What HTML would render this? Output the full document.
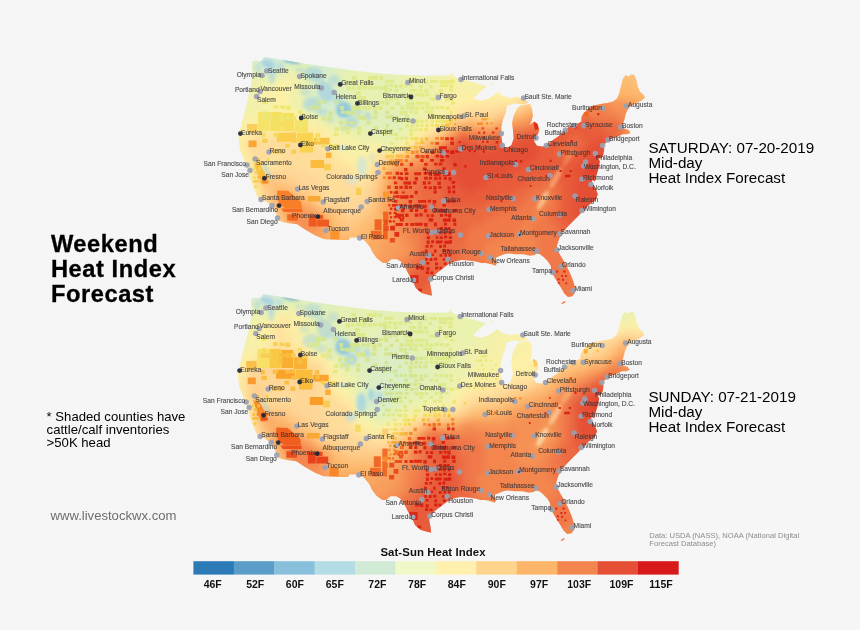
<!DOCTYPE html>
<html><head><meta charset="utf-8"><title>Weekend Heat Index Forecast</title>
<style>
html,body{margin:0;padding:0;background:#f6f6f6;}
body{width:860px;height:630px;overflow:hidden;font-family:"Liberation Sans",sans-serif;}
svg{display:block;font-family:"Liberation Sans",sans-serif;}
.cl text{font-size:7px;fill:#36363a;fill-opacity:.88;stroke:#36363a;stroke-width:.18px;stroke-opacity:.6;}
.lg{font-size:10.5px;font-weight:bold;fill:#111;}
.t1{font-size:23.7px;font-weight:bold;fill:#000;letter-spacing:.55px;stroke:#000;stroke-width:.3px;}
.t2{font-size:15.2px;fill:#000;}
.t3{font-size:13.15px;fill:#000;}
.t4{font-size:13.1px;fill:#6e6e6e;}
.t5{font-size:7.6px;fill:#8c8c8c;}
.t6{font-size:11.4px;font-weight:bold;fill:#111;letter-spacing:.08px;}
</style></head><body>
<svg width="860" height="630" viewBox="0 0 860 630">
<defs>
<path id="us" d="M252,62 L256,60.5 L259,61.5 L262,60 L264,57 L280,59.5 L310,64.5 L350,70 L380,73.5 L402,75 L425,75.8 L450,75.5 L451,72 L453,75.8 L460,79 L468,81 L476,83 L487,86.5 L480,92 L473.6,98.6 L481.4,100.7 L488.6,98.6 L494,95 L498.6,91.4 L500,94 L502.9,95.7 L510,97.9 L517,97 L522.9,97.9 L527,100.7 L528.6,102.5 L525,104 L520,104.3 L514.3,103.6 L507,105.7 L505.7,112.9 L502.9,120 L501.4,127 L501.4,134.3 L502,141.4 L503.6,145.7 L507,147.9 L511.4,145 L513.6,138.6 L512.9,130 L512,122.9 L513.6,115.7 L517,108.6 L520.7,105.3 L526,104.6 L530,103.8 L532,108.6 L532.9,115.7 L531.4,121.4 L529.3,125 L531.4,123.6 L534.3,121.4 L537.9,124.3 L539.3,130 L537.9,134.3 L535.7,137 L534.3,141.4 L537,145.7 L542.9,146.4 L546.4,145 L552.9,140 L560,135 L565.7,130 L568.6,127 L574.3,125.3 L581.4,121.4 L581.4,117 L583.6,112.9 L588.6,108.6 L595.7,105 L602.9,103.6 L607,102.9 L612.9,101.4 L617,98.6 L619.3,92.9 L621.4,84.3 L622.9,78.6 L625.7,75 L628.6,76.4 L631.4,74.3 L634.3,75 L636.4,80 L637.9,87 L640,91.4 L644.3,95.7 L645,97.9 L641.4,100.7 L637,102.9 L631.4,105.7 L627.9,109.3 L625.7,114.3 L624.3,120 L622.9,124.3 L624.3,128.6 L628.6,130 L630.7,132.9 L627,134.3 L622.9,134.3 L617,137 L610,139.3 L605.7,142.9 L602.9,145.7 L604.3,148.6 L603.6,154.3 L601.4,158.6 L598.5,158.5 L600,161.4 L598.6,168.6 L596.4,175.7 L595,181.4 L592.5,180 L591.4,184.3 L595.7,188.6 L597.9,194.3 L595.7,200 L591.4,202.9 L587,207 L582.9,210.7 L578.6,215.7 L574.3,220 L568.6,225.7 L562.9,232 L559.3,238.6 L557,245.7 L557.9,250.7 L561.4,257 L565.7,264.3 L569.3,271.4 L572.9,280 L575,287 L575,292.9 L572,296.4 L567.9,297 L564.3,293.6 L561.4,288.6 L557.9,282.9 L554.3,277 L551.4,271.4 L550.7,265.7 L547.9,261.4 L543.6,257 L540,254.3 L537,253.6 L534.3,255 L530,255.7 L522.9,254.3 L515.7,254.3 L508.6,253.6 L504.3,254.3 L498.6,256.4 L494.3,258.6 L497,262.9 L495.7,265.7 L491.4,264.3 L485.7,262.9 L481.4,262.9 L475.7,261.4 L470,260.7 L461.4,260 L454.3,261.4 L448.6,264.3 L442.9,268.6 L437,272.9 L431.4,277.9 L430,282.9 L431.4,290 L432,295.7 L428.6,295 L421.4,292.9 L415.7,287.9 L412.9,281.4 L408.6,274.3 L405.7,268.6 L401.4,262 L397,259.3 L391.4,259.3 L387,262.9 L382.9,262.9 L377,258.6 L372.9,252.9 L370,247 L365,241 L360,237.5 L350,237.5 L349,240 L338.6,240 L324.3,239.3 L315.7,235.7 L305.7,230 L297,224.3 L287,222.9 L278.6,220.7 L277.9,218.6 L275.7,212.9 L271.4,205.7 L265.7,201.4 L258.6,198.6 L255.7,192.9 L252.9,185.7 L250,178.6 L248.6,171.4 L245.7,164.3 L243,157 L240,150 L239,142 L238.5,136 L240,130 L242.5,120 L245,110 L247,102 L249,94 L251,85 L253,76 L252,68Z M561.3,303.2 L564.6,301 L565.8,301.9 L562.6,303.9Z M490.2,84.6 L493.6,83.2 L494,83.9 L490.6,85.3Z"/>
<clipPath id="usc"><use href="#us"/></clipPath>
<filter id="bl" x="-5%" y="-5%" width="110%" height="110%"><feGaussianBlur stdDeviation="3.2"/></filter>
<filter id="b2" x="-50%" y="-50%" width="200%" height="200%"><feGaussianBlur stdDeviation="1.6"/></filter>
</defs>
<rect width="860" height="630" fill="#f6f6f6"/>
<rect x="133.5" y="41" width="610.5" height="238" fill="#f5f5f5"/>
<rect x="129.5" y="281" width="609.5" height="240" fill="#f5f5f5"/>
<g id="map1">
<g clip-path="url(#usc)">
<g filter="url(#bl)">
<path fill="#cae6da" d="M262 44h18.5v6.5h-18.5zM268 50h12.5v6.5h-12.5zM268 56h6.5v6.5h-6.5zM268 62h6.5v6.5h-6.5z"/>
<path fill="#d1ead6" d="M250 44h12.5v6.5h-12.5zM280 44h18.5v6.5h-18.5zM256 50h12.5v6.5h-12.5zM280 50h6.5v6.5h-6.5zM256 56h12.5v6.5h-12.5zM274 56h12.5v6.5h-12.5zM262 62h6.5v6.5h-6.5zM274 62h6.5v6.5h-6.5zM268 68h6.5v6.5h-6.5zM322 98h12.5v6.5h-12.5zM340 110h6.5v6.5h-6.5z"/>
<path fill="#d6eccd" d="M226 44h24.5v6.5h-24.5zM298 44h30.5v6.5h-30.5zM238 50h18.5v6.5h-18.5zM286 50h42.5v6.5h-42.5zM250 56h6.5v6.5h-6.5zM286 56h6.5v6.5h-6.5zM310 56h18.5v6.5h-18.5zM256 62h6.5v6.5h-6.5zM280 62h6.5v6.5h-6.5zM316 62h12.5v6.5h-12.5zM262 68h6.5v6.5h-6.5zM274 68h6.5v6.5h-6.5zM316 68h12.5v6.5h-12.5zM316 74h6.5v6.5h-6.5zM322 86h6.5v6.5h-6.5zM316 92h18.5v6.5h-18.5zM310 98h12.5v6.5h-12.5zM334 98h6.5v6.5h-6.5zM316 104h30.5v6.5h-30.5zM334 110h6.5v6.5h-6.5zM346 110h6.5v6.5h-6.5z"/>
<path fill="#dbeec4" d="M328 44h24.5v6.5h-24.5zM226 50h12.5v6.5h-12.5zM328 50h18.5v6.5h-18.5zM226 56h24.5v6.5h-24.5zM292 56h18.5v6.5h-18.5zM328 56h12.5v6.5h-12.5zM250 62h6.5v6.5h-6.5zM286 62h6.5v6.5h-6.5zM304 62h12.5v6.5h-12.5zM328 62h12.5v6.5h-12.5zM256 68h6.5v6.5h-6.5zM310 68h6.5v6.5h-6.5zM328 68h6.5v6.5h-6.5zM310 74h6.5v6.5h-6.5zM322 74h12.5v6.5h-12.5zM310 80h24.5v6.5h-24.5zM310 86h12.5v6.5h-12.5zM328 86h6.5v6.5h-6.5zM310 92h6.5v6.5h-6.5zM334 92h6.5v6.5h-6.5zM340 98h6.5v6.5h-6.5zM310 104h6.5v6.5h-6.5zM346 104h6.5v6.5h-6.5zM322 110h12.5v6.5h-12.5zM352 110h6.5v6.5h-6.5zM334 116h24.5v6.5h-24.5z"/>
<path fill="#e0efbb" d="M352 44h36.5v6.5h-36.5zM346 50h24.5v6.5h-24.5zM340 56h18.5v6.5h-18.5zM226 62h24.5v6.5h-24.5zM292 62h12.5v6.5h-12.5zM340 62h12.5v6.5h-12.5zM226 68h12.5v6.5h-12.5zM250 68h6.5v6.5h-6.5zM280 68h6.5v6.5h-6.5zM304 68h6.5v6.5h-6.5zM334 68h12.5v6.5h-12.5zM268 74h6.5v6.5h-6.5zM334 74h6.5v6.5h-6.5zM334 80h6.5v6.5h-6.5zM334 86h12.5v6.5h-12.5zM304 92h6.5v6.5h-6.5zM340 92h12.5v6.5h-12.5zM304 98h6.5v6.5h-6.5zM346 98h6.5v6.5h-6.5zM304 104h6.5v6.5h-6.5zM352 104h6.5v6.5h-6.5zM316 110h6.5v6.5h-6.5zM358 110h42.5v6.5h-42.5zM328 116h6.5v6.5h-6.5zM358 116h42.5v6.5h-42.5zM340 122h60.5v6.5h-60.5z"/>
<path fill="#e5f1b2" d="M388 44h48.5v6.5h-48.5zM370 50h54.5v6.5h-54.5zM358 56h60.5v6.5h-60.5zM352 62h60.5v6.5h-60.5zM238 68h12.5v6.5h-12.5zM286 68h6.5v6.5h-6.5zM298 68h6.5v6.5h-6.5zM346 68h12.5v6.5h-12.5zM364 68h42.5v6.5h-42.5zM226 74h18.5v6.5h-18.5zM256 74h12.5v6.5h-12.5zM274 74h6.5v6.5h-6.5zM304 74h6.5v6.5h-6.5zM340 74h12.5v6.5h-12.5zM370 74h30.5v6.5h-30.5zM226 80h6.5v6.5h-6.5zM304 80h6.5v6.5h-6.5zM340 80h12.5v6.5h-12.5zM370 80h30.5v6.5h-30.5zM304 86h6.5v6.5h-6.5zM346 86h12.5v6.5h-12.5zM370 86h30.5v6.5h-30.5zM352 92h6.5v6.5h-6.5zM364 92h42.5v6.5h-42.5zM352 98h6.5v6.5h-6.5zM364 98h42.5v6.5h-42.5zM358 104h54.5v6.5h-54.5zM310 110h6.5v6.5h-6.5zM400 110h12.5v6.5h-12.5zM322 116h6.5v6.5h-6.5zM400 116h12.5v6.5h-12.5zM334 122h6.5v6.5h-6.5zM400 122h6.5v6.5h-6.5zM352 128h54.5v6.5h-54.5zM376 134h18.5v6.5h-18.5z"/>
<path fill="#ebf1af" d="M436 44h48.5v6.5h-48.5zM424 50h42.5v6.5h-42.5zM418 56h30.5v6.5h-30.5zM412 62h30.5v6.5h-30.5zM292 68h6.5v6.5h-6.5zM358 68h6.5v6.5h-6.5zM406 68h30.5v6.5h-30.5zM244 74h12.5v6.5h-12.5zM352 74h18.5v6.5h-18.5zM400 74h30.5v6.5h-30.5zM232 80h18.5v6.5h-18.5zM298 80h6.5v6.5h-6.5zM352 80h18.5v6.5h-18.5zM400 80h30.5v6.5h-30.5zM226 86h18.5v6.5h-18.5zM298 86h6.5v6.5h-6.5zM358 86h12.5v6.5h-12.5zM400 86h30.5v6.5h-30.5zM226 92h12.5v6.5h-12.5zM298 92h6.5v6.5h-6.5zM358 92h6.5v6.5h-6.5zM406 92h24.5v6.5h-24.5zM226 98h12.5v6.5h-12.5zM298 98h6.5v6.5h-6.5zM358 98h6.5v6.5h-6.5zM406 98h24.5v6.5h-24.5zM298 104h6.5v6.5h-6.5zM412 104h12.5v6.5h-12.5zM304 110h6.5v6.5h-6.5zM412 110h12.5v6.5h-12.5zM316 116h6.5v6.5h-6.5zM412 116h6.5v6.5h-6.5zM328 122h6.5v6.5h-6.5zM406 122h6.5v6.5h-6.5zM334 128h18.5v6.5h-18.5zM406 128h6.5v6.5h-6.5zM358 134h18.5v6.5h-18.5zM394 134h12.5v6.5h-12.5zM382 140h12.5v6.5h-12.5z"/>
<path fill="#f1f0ac" d="M484 44h30.5v6.5h-30.5zM466 50h42.5v6.5h-42.5zM448 56h60.5v6.5h-60.5zM442 62h60.5v6.5h-60.5zM436 68h60.5v6.5h-60.5zM280 74h24.5v6.5h-24.5zM430 74h18.5v6.5h-18.5zM250 80h24.5v6.5h-24.5zM430 80h12.5v6.5h-12.5zM244 86h18.5v6.5h-18.5zM292 86h6.5v6.5h-6.5zM430 86h12.5v6.5h-12.5zM238 92h18.5v6.5h-18.5zM292 92h6.5v6.5h-6.5zM430 92h12.5v6.5h-12.5zM238 98h18.5v6.5h-18.5zM292 98h6.5v6.5h-6.5zM430 98h12.5v6.5h-12.5zM226 104h36.5v6.5h-36.5zM292 104h6.5v6.5h-6.5zM424 104h18.5v6.5h-18.5zM226 110h24.5v6.5h-24.5zM298 110h6.5v6.5h-6.5zM424 110h12.5v6.5h-12.5zM226 116h12.5v6.5h-12.5zM310 116h6.5v6.5h-6.5zM418 116h6.5v6.5h-6.5zM226 122h6.5v6.5h-6.5zM322 122h6.5v6.5h-6.5zM412 122h6.5v6.5h-6.5zM328 128h6.5v6.5h-6.5zM412 128h6.5v6.5h-6.5zM340 134h6.5v6.5h-6.5zM352 134h6.5v6.5h-6.5zM406 134h6.5v6.5h-6.5zM358 140h24.5v6.5h-24.5zM394 140h6.5v6.5h-6.5zM388 146h6.5v6.5h-6.5zM226 164h6.5v6.5h-6.5zM226 170h12.5v6.5h-12.5zM226 176h12.5v6.5h-12.5zM226 182h12.5v6.5h-12.5zM226 188h12.5v6.5h-12.5zM226 194h6.5v6.5h-6.5z"/>
<path fill="#f7f0a9" d="M514 44h12.5v6.5h-12.5zM508 50h18.5v6.5h-18.5zM508 56h12.5v6.5h-12.5zM502 62h18.5v6.5h-18.5zM496 68h18.5v6.5h-18.5zM448 74h66.5v6.5h-66.5zM274 80h6.5v6.5h-6.5zM286 80h12.5v6.5h-12.5zM442 80h66.5v6.5h-66.5zM262 86h12.5v6.5h-12.5zM286 86h6.5v6.5h-6.5zM442 86h48.5v6.5h-48.5zM256 92h12.5v6.5h-12.5zM286 92h6.5v6.5h-6.5zM442 92h12.5v6.5h-12.5zM256 98h18.5v6.5h-18.5zM286 98h6.5v6.5h-6.5zM442 98h12.5v6.5h-12.5zM262 104h12.5v6.5h-12.5zM286 104h6.5v6.5h-6.5zM442 104h6.5v6.5h-6.5zM250 110h24.5v6.5h-24.5zM292 110h6.5v6.5h-6.5zM436 110h12.5v6.5h-12.5zM238 116h18.5v6.5h-18.5zM304 116h6.5v6.5h-6.5zM424 116h18.5v6.5h-18.5zM232 122h12.5v6.5h-12.5zM316 122h6.5v6.5h-6.5zM418 122h6.5v6.5h-6.5zM226 128h12.5v6.5h-12.5zM226 134h6.5v6.5h-6.5zM334 134h6.5v6.5h-6.5zM346 134h6.5v6.5h-6.5zM226 140h6.5v6.5h-6.5zM340 140h18.5v6.5h-18.5zM400 140h6.5v6.5h-6.5zM226 146h6.5v6.5h-6.5zM340 146h30.5v6.5h-30.5zM382 146h6.5v6.5h-6.5zM226 152h12.5v6.5h-12.5zM352 152h12.5v6.5h-12.5zM226 158h18.5v6.5h-18.5zM358 158h6.5v6.5h-6.5zM232 164h18.5v6.5h-18.5zM358 164h6.5v6.5h-6.5zM238 170h12.5v6.5h-12.5zM238 176h12.5v6.5h-12.5zM238 182h12.5v6.5h-12.5zM238 188h12.5v6.5h-12.5zM232 194h12.5v6.5h-12.5zM226 200h18.5v6.5h-18.5zM226 206h12.5v6.5h-12.5zM226 212h6.5v6.5h-6.5z"/>
<path fill="#fdf0a6" d="M526 44h18.5v6.5h-18.5zM526 50h12.5v6.5h-12.5zM520 56h12.5v6.5h-12.5zM520 62h12.5v6.5h-12.5zM514 68h12.5v6.5h-12.5zM514 74h12.5v6.5h-12.5zM280 80h6.5v6.5h-6.5zM508 80h12.5v6.5h-12.5zM274 86h12.5v6.5h-12.5zM490 86h30.5v6.5h-30.5zM268 92h18.5v6.5h-18.5zM454 92h60.5v6.5h-60.5zM274 98h12.5v6.5h-12.5zM454 98h24.5v6.5h-24.5zM274 104h12.5v6.5h-12.5zM448 104h6.5v6.5h-6.5zM274 110h18.5v6.5h-18.5zM256 116h48.5v6.5h-48.5zM442 116h6.5v6.5h-6.5zM244 122h12.5v6.5h-12.5zM304 122h12.5v6.5h-12.5zM424 122h12.5v6.5h-12.5zM238 128h6.5v6.5h-6.5zM322 128h6.5v6.5h-6.5zM418 128h6.5v6.5h-6.5zM232 134h12.5v6.5h-12.5zM328 134h6.5v6.5h-6.5zM412 134h6.5v6.5h-6.5zM232 140h6.5v6.5h-6.5zM334 140h6.5v6.5h-6.5zM406 140h6.5v6.5h-6.5zM232 146h6.5v6.5h-6.5zM334 146h6.5v6.5h-6.5zM370 146h12.5v6.5h-12.5zM394 146h6.5v6.5h-6.5zM238 152h6.5v6.5h-6.5zM340 152h12.5v6.5h-12.5zM364 152h6.5v6.5h-6.5zM244 158h6.5v6.5h-6.5zM352 158h6.5v6.5h-6.5zM364 158h6.5v6.5h-6.5zM364 164h6.5v6.5h-6.5zM358 170h6.5v6.5h-6.5zM250 182h6.5v6.5h-6.5zM250 188h6.5v6.5h-6.5zM244 194h6.5v6.5h-6.5zM244 200h6.5v6.5h-6.5zM238 206h12.5v6.5h-12.5zM232 212h18.5v6.5h-18.5zM226 218h18.5v6.5h-18.5zM226 224h12.5v6.5h-12.5zM226 230h6.5v6.5h-6.5z"/>
<path fill="#fdeaa2" d="M544 44h12.5v6.5h-12.5zM538 50h12.5v6.5h-12.5zM532 56h12.5v6.5h-12.5zM532 62h6.5v6.5h-6.5zM526 68h12.5v6.5h-12.5zM526 74h6.5v6.5h-6.5zM520 80h12.5v6.5h-12.5zM520 86h6.5v6.5h-6.5zM514 92h12.5v6.5h-12.5zM478 98h36.5v6.5h-36.5zM454 104h12.5v6.5h-12.5zM448 110h6.5v6.5h-6.5zM256 122h48.5v6.5h-48.5zM436 122h6.5v6.5h-6.5zM244 128h12.5v6.5h-12.5zM262 128h18.5v6.5h-18.5zM304 128h18.5v6.5h-18.5zM424 128h6.5v6.5h-6.5zM244 134h6.5v6.5h-6.5zM316 134h12.5v6.5h-12.5zM238 140h6.5v6.5h-6.5zM322 140h12.5v6.5h-12.5zM238 146h6.5v6.5h-6.5zM328 146h6.5v6.5h-6.5zM244 152h6.5v6.5h-6.5zM334 152h6.5v6.5h-6.5zM370 152h6.5v6.5h-6.5zM340 158h12.5v6.5h-12.5zM250 164h6.5v6.5h-6.5zM262 164h12.5v6.5h-12.5zM352 164h6.5v6.5h-6.5zM250 170h6.5v6.5h-6.5zM352 170h6.5v6.5h-6.5zM364 170h6.5v6.5h-6.5zM250 176h6.5v6.5h-6.5zM250 194h6.5v6.5h-6.5zM250 200h6.5v6.5h-6.5zM250 206h6.5v6.5h-6.5zM250 212h6.5v6.5h-6.5zM244 218h12.5v6.5h-12.5zM238 224h12.5v6.5h-12.5zM232 230h12.5v6.5h-12.5zM226 236h12.5v6.5h-12.5zM226 242h6.5v6.5h-6.5z"/>
<path fill="#fee39e" d="M556 44h12.5v6.5h-12.5zM550 50h12.5v6.5h-12.5zM544 56h12.5v6.5h-12.5zM538 62h12.5v6.5h-12.5zM538 68h6.5v6.5h-6.5zM532 74h6.5v6.5h-6.5zM532 80h6.5v6.5h-6.5zM526 86h6.5v6.5h-6.5zM514 98h6.5v6.5h-6.5zM466 104h30.5v6.5h-30.5zM454 110h6.5v6.5h-6.5zM448 116h6.5v6.5h-6.5zM256 128h6.5v6.5h-6.5zM280 128h24.5v6.5h-24.5zM430 128h6.5v6.5h-6.5zM250 134h66.5v6.5h-66.5zM418 134h6.5v6.5h-6.5zM244 140h12.5v6.5h-12.5zM304 140h18.5v6.5h-18.5zM412 140h6.5v6.5h-6.5zM244 146h6.5v6.5h-6.5zM316 146h12.5v6.5h-12.5zM400 146h6.5v6.5h-6.5zM268 152h12.5v6.5h-12.5zM322 152h12.5v6.5h-12.5zM376 152h18.5v6.5h-18.5zM262 158h18.5v6.5h-18.5zM328 158h12.5v6.5h-12.5zM370 158h6.5v6.5h-6.5zM256 164h6.5v6.5h-6.5zM274 164h6.5v6.5h-6.5zM334 164h18.5v6.5h-18.5zM370 164h6.5v6.5h-6.5zM352 176h18.5v6.5h-18.5zM358 182h6.5v6.5h-6.5zM256 188h6.5v6.5h-6.5zM256 194h6.5v6.5h-6.5zM256 200h6.5v6.5h-6.5zM256 206h6.5v6.5h-6.5zM256 212h6.5v6.5h-6.5zM256 218h6.5v6.5h-6.5zM250 224h12.5v6.5h-12.5zM244 230h12.5v6.5h-12.5zM238 236h12.5v6.5h-12.5zM232 242h18.5v6.5h-18.5zM226 248h18.5v6.5h-18.5zM226 254h12.5v6.5h-12.5zM226 260h6.5v6.5h-6.5z"/>
<path fill="#fedc9a" d="M568 44h18.5v6.5h-18.5zM562 50h12.5v6.5h-12.5zM556 56h12.5v6.5h-12.5zM550 62h12.5v6.5h-12.5zM544 68h6.5v6.5h-6.5zM538 74h12.5v6.5h-12.5zM538 80h6.5v6.5h-6.5zM532 86h6.5v6.5h-6.5zM526 92h6.5v6.5h-6.5zM520 98h6.5v6.5h-6.5zM496 104h18.5v6.5h-18.5zM460 110h30.5v6.5h-30.5zM442 122h6.5v6.5h-6.5zM436 128h6.5v6.5h-6.5zM424 134h6.5v6.5h-6.5zM256 140h48.5v6.5h-48.5zM250 146h66.5v6.5h-66.5zM406 146h6.5v6.5h-6.5zM250 152h18.5v6.5h-18.5zM280 152h42.5v6.5h-42.5zM394 152h6.5v6.5h-6.5zM250 158h12.5v6.5h-12.5zM280 158h48.5v6.5h-48.5zM376 158h6.5v6.5h-6.5zM280 164h54.5v6.5h-54.5zM256 170h6.5v6.5h-6.5zM304 170h48.5v6.5h-48.5zM370 170h6.5v6.5h-6.5zM316 176h36.5v6.5h-36.5zM256 182h6.5v6.5h-6.5zM322 182h36.5v6.5h-36.5zM364 182h6.5v6.5h-6.5zM322 188h42.5v6.5h-42.5zM322 194h42.5v6.5h-42.5zM262 200h6.5v6.5h-6.5zM262 206h6.5v6.5h-6.5zM262 212h6.5v6.5h-6.5zM262 218h12.5v6.5h-12.5zM262 224h6.5v6.5h-6.5zM256 230h12.5v6.5h-12.5zM250 236h12.5v6.5h-12.5zM250 242h6.5v6.5h-6.5zM244 248h12.5v6.5h-12.5zM238 254h12.5v6.5h-12.5zM232 260h18.5v6.5h-18.5zM226 266h18.5v6.5h-18.5zM226 272h12.5v6.5h-12.5zM226 278h6.5v6.5h-6.5zM226 284h6.5v6.5h-6.5z"/>
<path fill="#fed696" d="M586 44h48.5v6.5h-48.5zM574 50h30.5v6.5h-30.5zM568 56h18.5v6.5h-18.5zM562 62h12.5v6.5h-12.5zM550 68h12.5v6.5h-12.5zM550 74h6.5v6.5h-6.5zM544 80h6.5v6.5h-6.5zM538 86h6.5v6.5h-6.5zM532 92h6.5v6.5h-6.5zM526 98h6.5v6.5h-6.5zM514 104h6.5v6.5h-6.5zM490 110h12.5v6.5h-12.5zM454 116h6.5v6.5h-6.5zM418 140h6.5v6.5h-6.5zM382 158h6.5v6.5h-6.5zM376 164h6.5v6.5h-6.5zM262 170h42.5v6.5h-42.5zM256 176h6.5v6.5h-6.5zM292 176h24.5v6.5h-24.5zM370 176h6.5v6.5h-6.5zM298 182h24.5v6.5h-24.5zM370 182h6.5v6.5h-6.5zM310 188h12.5v6.5h-12.5zM364 188h6.5v6.5h-6.5zM262 194h6.5v6.5h-6.5zM316 194h6.5v6.5h-6.5zM364 194h6.5v6.5h-6.5zM322 200h48.5v6.5h-48.5zM268 206h6.5v6.5h-6.5zM340 206h18.5v6.5h-18.5zM268 212h6.5v6.5h-6.5zM346 212h6.5v6.5h-6.5zM274 218h6.5v6.5h-6.5zM268 224h6.5v6.5h-6.5zM268 230h6.5v6.5h-6.5zM262 236h6.5v6.5h-6.5zM256 242h12.5v6.5h-12.5zM256 248h6.5v6.5h-6.5zM250 254h12.5v6.5h-12.5zM250 260h12.5v6.5h-12.5zM244 266h12.5v6.5h-12.5zM238 272h18.5v6.5h-18.5zM232 278h18.5v6.5h-18.5zM232 284h12.5v6.5h-12.5zM226 290h18.5v6.5h-18.5zM226 296h12.5v6.5h-12.5zM226 302h12.5v6.5h-12.5zM226 308h6.5v6.5h-6.5z"/>
<path fill="#fece8b" d="M634 44h30.5v6.5h-30.5zM604 50h60.5v6.5h-60.5zM586 56h78.5v6.5h-78.5zM574 62h18.5v6.5h-18.5zM562 68h12.5v6.5h-12.5zM556 74h12.5v6.5h-12.5zM550 80h6.5v6.5h-6.5zM544 86h6.5v6.5h-6.5zM538 92h6.5v6.5h-6.5zM532 98h6.5v6.5h-6.5zM520 104h6.5v6.5h-6.5zM502 110h6.5v6.5h-6.5zM460 116h6.5v6.5h-6.5zM478 116h18.5v6.5h-18.5zM448 122h6.5v6.5h-6.5zM430 134h6.5v6.5h-6.5zM412 146h6.5v6.5h-6.5zM400 152h6.5v6.5h-6.5zM388 158h6.5v6.5h-6.5zM376 170h6.5v6.5h-6.5zM274 176h18.5v6.5h-18.5zM292 182h6.5v6.5h-6.5zM262 188h6.5v6.5h-6.5zM298 188h12.5v6.5h-12.5zM370 188h6.5v6.5h-6.5zM310 194h6.5v6.5h-6.5zM370 194h6.5v6.5h-6.5zM268 200h6.5v6.5h-6.5zM316 200h6.5v6.5h-6.5zM328 206h12.5v6.5h-12.5zM358 206h12.5v6.5h-12.5zM274 212h6.5v6.5h-6.5zM340 212h6.5v6.5h-6.5zM352 212h12.5v6.5h-12.5zM346 218h6.5v6.5h-6.5zM274 224h6.5v6.5h-6.5zM274 230h6.5v6.5h-6.5zM268 236h6.5v6.5h-6.5zM268 242h6.5v6.5h-6.5zM262 248h12.5v6.5h-12.5zM262 254h12.5v6.5h-12.5zM262 260h6.5v6.5h-6.5zM256 266h12.5v6.5h-12.5zM256 272h12.5v6.5h-12.5zM250 278h12.5v6.5h-12.5zM244 284h18.5v6.5h-18.5zM244 290h12.5v6.5h-12.5zM238 296h18.5v6.5h-18.5zM238 302h18.5v6.5h-18.5zM232 308h18.5v6.5h-18.5z"/>
<path fill="#fec680" d="M592 62h72.5v6.5h-72.5zM574 68h90.5v6.5h-90.5zM568 74h12.5v6.5h-12.5zM646 74h18.5v6.5h-18.5zM556 80h12.5v6.5h-12.5zM550 86h6.5v6.5h-6.5zM544 92h6.5v6.5h-6.5zM538 98h6.5v6.5h-6.5zM526 104h6.5v6.5h-6.5zM508 110h12.5v6.5h-12.5zM466 116h12.5v6.5h-12.5zM442 128h6.5v6.5h-6.5zM436 134h6.5v6.5h-6.5zM424 140h6.5v6.5h-6.5zM406 152h6.5v6.5h-6.5zM394 158h6.5v6.5h-6.5zM382 164h6.5v6.5h-6.5zM268 176h6.5v6.5h-6.5zM376 176h6.5v6.5h-6.5zM262 182h12.5v6.5h-12.5zM280 182h12.5v6.5h-12.5zM376 182h6.5v6.5h-6.5zM268 188h6.5v6.5h-6.5zM292 188h6.5v6.5h-6.5zM268 194h6.5v6.5h-6.5zM304 194h6.5v6.5h-6.5zM370 200h6.5v6.5h-6.5zM274 206h6.5v6.5h-6.5zM322 206h6.5v6.5h-6.5zM370 206h6.5v6.5h-6.5zM334 212h6.5v6.5h-6.5zM364 212h6.5v6.5h-6.5zM334 218h12.5v6.5h-12.5zM352 218h12.5v6.5h-12.5zM340 224h18.5v6.5h-18.5zM274 236h6.5v6.5h-6.5zM274 242h6.5v6.5h-6.5zM274 248h6.5v6.5h-6.5zM274 254h6.5v6.5h-6.5zM268 260h12.5v6.5h-12.5zM268 266h12.5v6.5h-12.5zM268 272h12.5v6.5h-12.5zM262 278h12.5v6.5h-12.5zM262 284h12.5v6.5h-12.5zM256 290h18.5v6.5h-18.5zM256 296h18.5v6.5h-18.5zM256 302h12.5v6.5h-12.5zM250 308h18.5v6.5h-18.5z"/>
<path fill="#fdbd75" d="M580 74h66.5v6.5h-66.5zM568 80h12.5v6.5h-12.5zM610 80h54.5v6.5h-54.5zM556 86h12.5v6.5h-12.5zM634 86h30.5v6.5h-30.5zM550 92h6.5v6.5h-6.5zM532 104h6.5v6.5h-6.5zM520 110h6.5v6.5h-6.5zM496 116h12.5v6.5h-12.5zM454 122h6.5v6.5h-6.5zM418 146h6.5v6.5h-6.5zM382 170h6.5v6.5h-6.5zM262 176h6.5v6.5h-6.5zM274 182h6.5v6.5h-6.5zM274 188h6.5v6.5h-6.5zM286 188h6.5v6.5h-6.5zM376 188h6.5v6.5h-6.5zM298 194h6.5v6.5h-6.5zM376 194h6.5v6.5h-6.5zM310 200h6.5v6.5h-6.5zM376 200h6.5v6.5h-6.5zM316 206h6.5v6.5h-6.5zM280 212h6.5v6.5h-6.5zM328 212h6.5v6.5h-6.5zM370 212h6.5v6.5h-6.5zM280 218h6.5v6.5h-6.5zM364 218h12.5v6.5h-12.5zM280 224h6.5v6.5h-6.5zM334 224h6.5v6.5h-6.5zM358 224h12.5v6.5h-12.5zM280 230h6.5v6.5h-6.5zM334 230h30.5v6.5h-30.5zM280 236h6.5v6.5h-6.5zM280 242h6.5v6.5h-6.5zM280 248h6.5v6.5h-6.5zM280 254h12.5v6.5h-12.5zM280 260h12.5v6.5h-12.5zM280 266h12.5v6.5h-12.5zM280 272h12.5v6.5h-12.5zM274 278h18.5v6.5h-18.5zM274 284h18.5v6.5h-18.5zM274 290h12.5v6.5h-12.5zM274 296h12.5v6.5h-12.5zM268 302h18.5v6.5h-18.5zM268 308h18.5v6.5h-18.5z"/>
<path fill="#fdb56a" d="M580 80h30.5v6.5h-30.5zM568 86h12.5v6.5h-12.5zM604 86h30.5v6.5h-30.5zM556 92h12.5v6.5h-12.5zM616 92h48.5v6.5h-48.5zM544 98h12.5v6.5h-12.5zM640 98h24.5v6.5h-24.5zM538 104h6.5v6.5h-6.5zM658 104h6.5v6.5h-6.5zM526 110h6.5v6.5h-6.5zM508 116h6.5v6.5h-6.5zM460 122h6.5v6.5h-6.5zM472 122h24.5v6.5h-24.5zM448 128h6.5v6.5h-6.5zM430 140h6.5v6.5h-6.5zM424 146h6.5v6.5h-6.5zM412 152h6.5v6.5h-6.5zM400 158h6.5v6.5h-6.5zM388 164h6.5v6.5h-6.5zM382 176h6.5v6.5h-6.5zM382 182h6.5v6.5h-6.5zM280 188h6.5v6.5h-6.5zM274 194h6.5v6.5h-6.5zM292 194h6.5v6.5h-6.5zM274 200h6.5v6.5h-6.5zM304 200h6.5v6.5h-6.5zM376 206h6.5v6.5h-6.5zM322 212h6.5v6.5h-6.5zM376 212h6.5v6.5h-6.5zM328 218h6.5v6.5h-6.5zM376 218h6.5v6.5h-6.5zM286 224h6.5v6.5h-6.5zM328 224h6.5v6.5h-6.5zM370 224h12.5v6.5h-12.5zM286 230h6.5v6.5h-6.5zM328 230h6.5v6.5h-6.5zM364 230h12.5v6.5h-12.5zM286 236h6.5v6.5h-6.5zM328 236h42.5v6.5h-42.5zM286 242h12.5v6.5h-12.5zM334 242h30.5v6.5h-30.5zM286 248h12.5v6.5h-12.5zM292 254h12.5v6.5h-12.5zM292 260h12.5v6.5h-12.5zM292 266h12.5v6.5h-12.5zM292 272h12.5v6.5h-12.5zM292 278h12.5v6.5h-12.5zM292 284h12.5v6.5h-12.5zM286 290h18.5v6.5h-18.5zM286 296h18.5v6.5h-18.5zM286 302h18.5v6.5h-18.5zM286 308h18.5v6.5h-18.5z"/>
<path fill="#faa963" d="M580 86h24.5v6.5h-24.5zM568 92h12.5v6.5h-12.5zM604 92h12.5v6.5h-12.5zM556 98h6.5v6.5h-6.5zM628 98h12.5v6.5h-12.5zM544 104h6.5v6.5h-6.5zM634 104h24.5v6.5h-24.5zM532 110h6.5v6.5h-6.5zM640 110h24.5v6.5h-24.5zM514 116h12.5v6.5h-12.5zM646 116h18.5v6.5h-18.5zM466 122h6.5v6.5h-6.5zM496 122h6.5v6.5h-6.5zM658 122h6.5v6.5h-6.5zM442 134h6.5v6.5h-6.5zM436 140h6.5v6.5h-6.5zM418 152h6.5v6.5h-6.5zM406 158h6.5v6.5h-6.5zM394 164h6.5v6.5h-6.5zM388 170h6.5v6.5h-6.5zM382 188h6.5v6.5h-6.5zM280 194h12.5v6.5h-12.5zM382 194h6.5v6.5h-6.5zM292 200h12.5v6.5h-12.5zM382 200h6.5v6.5h-6.5zM280 206h6.5v6.5h-6.5zM304 206h12.5v6.5h-12.5zM382 206h6.5v6.5h-6.5zM382 212h6.5v6.5h-6.5zM286 218h6.5v6.5h-6.5zM322 218h6.5v6.5h-6.5zM382 218h6.5v6.5h-6.5zM322 224h6.5v6.5h-6.5zM382 224h6.5v6.5h-6.5zM292 230h6.5v6.5h-6.5zM322 230h6.5v6.5h-6.5zM376 230h12.5v6.5h-12.5zM292 236h12.5v6.5h-12.5zM316 236h12.5v6.5h-12.5zM370 236h18.5v6.5h-18.5zM298 242h36.5v6.5h-36.5zM364 242h18.5v6.5h-18.5zM298 248h84.5v6.5h-84.5zM304 254h72.5v6.5h-72.5zM304 260h60.5v6.5h-60.5zM304 266h48.5v6.5h-48.5zM304 272h36.5v6.5h-36.5zM304 278h30.5v6.5h-30.5zM304 284h24.5v6.5h-24.5zM304 290h24.5v6.5h-24.5zM304 296h24.5v6.5h-24.5zM304 302h18.5v6.5h-18.5zM304 308h18.5v6.5h-18.5z"/>
<path fill="#f89d5c" d="M580 92h24.5v6.5h-24.5zM562 98h18.5v6.5h-18.5zM610 98h18.5v6.5h-18.5zM550 104h12.5v6.5h-12.5zM628 104h6.5v6.5h-6.5zM538 110h12.5v6.5h-12.5zM634 110h6.5v6.5h-6.5zM526 116h6.5v6.5h-6.5zM634 116h12.5v6.5h-12.5zM502 122h12.5v6.5h-12.5zM628 122h30.5v6.5h-30.5zM454 128h6.5v6.5h-6.5zM484 128h6.5v6.5h-6.5zM628 128h36.5v6.5h-36.5zM646 134h18.5v6.5h-18.5zM430 146h6.5v6.5h-6.5zM424 152h6.5v6.5h-6.5zM412 158h6.5v6.5h-6.5zM400 164h6.5v6.5h-6.5zM388 176h6.5v6.5h-6.5zM388 182h6.5v6.5h-6.5zM388 188h6.5v6.5h-6.5zM388 194h6.5v6.5h-6.5zM280 200h12.5v6.5h-12.5zM388 200h6.5v6.5h-6.5zM286 206h18.5v6.5h-18.5zM388 206h6.5v6.5h-6.5zM286 212h6.5v6.5h-6.5zM310 212h12.5v6.5h-12.5zM388 212h6.5v6.5h-6.5zM388 218h6.5v6.5h-6.5zM292 224h6.5v6.5h-6.5zM316 224h6.5v6.5h-6.5zM388 224h6.5v6.5h-6.5zM298 230h24.5v6.5h-24.5zM388 230h6.5v6.5h-6.5zM304 236h12.5v6.5h-12.5zM388 236h12.5v6.5h-12.5zM382 242h18.5v6.5h-18.5zM382 248h24.5v6.5h-24.5zM376 254h18.5v6.5h-18.5zM364 260h24.5v6.5h-24.5zM352 266h30.5v6.5h-30.5zM340 272h30.5v6.5h-30.5zM334 278h30.5v6.5h-30.5zM328 284h30.5v6.5h-30.5zM328 290h24.5v6.5h-24.5zM328 296h24.5v6.5h-24.5zM322 302h24.5v6.5h-24.5zM322 308h24.5v6.5h-24.5z"/>
<path fill="#f69155" d="M580 98h30.5v6.5h-30.5zM562 104h12.5v6.5h-12.5zM610 104h18.5v6.5h-18.5zM550 110h6.5v6.5h-6.5zM616 110h18.5v6.5h-18.5zM532 116h12.5v6.5h-12.5zM628 116h6.5v6.5h-6.5zM514 122h12.5v6.5h-12.5zM466 128h18.5v6.5h-18.5zM490 128h6.5v6.5h-6.5zM622 128h6.5v6.5h-6.5zM448 134h6.5v6.5h-6.5zM628 134h18.5v6.5h-18.5zM442 140h6.5v6.5h-6.5zM634 140h30.5v6.5h-30.5zM646 146h18.5v6.5h-18.5zM658 152h6.5v6.5h-6.5zM418 158h6.5v6.5h-6.5zM406 164h12.5v6.5h-12.5zM394 170h6.5v6.5h-6.5zM394 176h6.5v6.5h-6.5zM292 212h18.5v6.5h-18.5zM292 218h30.5v6.5h-30.5zM394 218h6.5v6.5h-6.5zM298 224h18.5v6.5h-18.5zM394 224h6.5v6.5h-6.5zM394 230h12.5v6.5h-12.5zM400 236h6.5v6.5h-6.5zM400 242h12.5v6.5h-12.5zM406 248h6.5v6.5h-6.5zM394 254h12.5v6.5h-12.5zM388 260h12.5v6.5h-12.5zM382 266h12.5v6.5h-12.5zM370 272h18.5v6.5h-18.5zM364 278h18.5v6.5h-18.5zM358 284h18.5v6.5h-18.5zM352 290h24.5v6.5h-24.5zM352 296h18.5v6.5h-18.5zM346 302h24.5v6.5h-24.5zM346 308h18.5v6.5h-18.5z"/>
<path fill="#f3854e" d="M574 104h36.5v6.5h-36.5zM556 110h12.5v6.5h-12.5zM586 110h12.5v6.5h-12.5zM604 110h12.5v6.5h-12.5zM544 116h12.5v6.5h-12.5zM616 116h12.5v6.5h-12.5zM526 122h6.5v6.5h-6.5zM622 122h6.5v6.5h-6.5zM460 128h6.5v6.5h-6.5zM496 128h6.5v6.5h-6.5zM622 134h6.5v6.5h-6.5zM628 140h6.5v6.5h-6.5zM436 146h6.5v6.5h-6.5zM634 146h12.5v6.5h-12.5zM430 152h6.5v6.5h-6.5zM640 152h18.5v6.5h-18.5zM424 158h6.5v6.5h-6.5zM646 158h18.5v6.5h-18.5zM418 164h6.5v6.5h-6.5zM652 164h12.5v6.5h-12.5zM400 170h12.5v6.5h-12.5zM658 170h6.5v6.5h-6.5zM400 176h6.5v6.5h-6.5zM394 182h6.5v6.5h-6.5zM394 188h6.5v6.5h-6.5zM394 194h12.5v6.5h-12.5zM544 194h6.5v6.5h-6.5zM394 200h12.5v6.5h-12.5zM538 200h12.5v6.5h-12.5zM394 206h12.5v6.5h-12.5zM532 206h12.5v6.5h-12.5zM394 212h12.5v6.5h-12.5zM532 212h12.5v6.5h-12.5zM400 218h6.5v6.5h-6.5zM526 218h12.5v6.5h-12.5zM400 224h12.5v6.5h-12.5zM520 224h12.5v6.5h-12.5zM406 230h6.5v6.5h-6.5zM514 230h18.5v6.5h-18.5zM406 236h12.5v6.5h-12.5zM496 236h42.5v6.5h-42.5zM412 242h6.5v6.5h-6.5zM484 242h54.5v6.5h-54.5zM412 248h6.5v6.5h-6.5zM484 248h54.5v6.5h-54.5zM406 254h6.5v6.5h-6.5zM478 254h60.5v6.5h-60.5zM400 260h6.5v6.5h-6.5zM484 260h48.5v6.5h-48.5zM394 266h6.5v6.5h-6.5zM484 266h42.5v6.5h-42.5zM388 272h6.5v6.5h-6.5zM490 272h36.5v6.5h-36.5zM382 278h12.5v6.5h-12.5zM502 278h12.5v6.5h-12.5zM376 284h12.5v6.5h-12.5zM376 290h12.5v6.5h-12.5zM568 290h6.5v6.5h-6.5zM370 296h18.5v6.5h-18.5zM370 302h18.5v6.5h-18.5zM364 308h24.5v6.5h-24.5z"/>
<path fill="#f07848" d="M568 110h18.5v6.5h-18.5zM598 110h6.5v6.5h-6.5zM556 116h6.5v6.5h-6.5zM592 116h24.5v6.5h-24.5zM532 122h18.5v6.5h-18.5zM502 128h24.5v6.5h-24.5zM454 134h6.5v6.5h-6.5zM472 134h24.5v6.5h-24.5zM616 134h6.5v6.5h-6.5zM448 140h6.5v6.5h-6.5zM622 140h6.5v6.5h-6.5zM622 146h12.5v6.5h-12.5zM628 152h12.5v6.5h-12.5zM430 158h6.5v6.5h-6.5zM634 158h12.5v6.5h-12.5zM424 164h12.5v6.5h-12.5zM640 164h12.5v6.5h-12.5zM412 170h18.5v6.5h-18.5zM640 170h18.5v6.5h-18.5zM406 176h18.5v6.5h-18.5zM646 176h18.5v6.5h-18.5zM400 182h18.5v6.5h-18.5zM544 182h6.5v6.5h-6.5zM652 182h12.5v6.5h-12.5zM400 188h18.5v6.5h-18.5zM532 188h24.5v6.5h-24.5zM652 188h12.5v6.5h-12.5zM406 194h12.5v6.5h-12.5zM526 194h18.5v6.5h-18.5zM550 194h6.5v6.5h-6.5zM658 194h6.5v6.5h-6.5zM406 200h12.5v6.5h-12.5zM520 200h18.5v6.5h-18.5zM550 200h6.5v6.5h-6.5zM658 200h6.5v6.5h-6.5zM406 206h12.5v6.5h-12.5zM508 206h24.5v6.5h-24.5zM544 206h12.5v6.5h-12.5zM658 206h6.5v6.5h-6.5zM406 212h12.5v6.5h-12.5zM496 212h36.5v6.5h-36.5zM544 212h6.5v6.5h-6.5zM406 218h18.5v6.5h-18.5zM484 218h42.5v6.5h-42.5zM538 218h12.5v6.5h-12.5zM412 224h12.5v6.5h-12.5zM472 224h48.5v6.5h-48.5zM532 224h24.5v6.5h-24.5zM412 230h12.5v6.5h-12.5zM466 230h48.5v6.5h-48.5zM532 230h24.5v6.5h-24.5zM418 236h6.5v6.5h-6.5zM466 236h30.5v6.5h-30.5zM538 236h24.5v6.5h-24.5zM418 242h6.5v6.5h-6.5zM466 242h18.5v6.5h-18.5zM538 242h24.5v6.5h-24.5zM418 248h6.5v6.5h-6.5zM460 248h24.5v6.5h-24.5zM538 248h30.5v6.5h-30.5zM412 254h6.5v6.5h-6.5zM460 254h18.5v6.5h-18.5zM538 254h30.5v6.5h-30.5zM406 260h12.5v6.5h-12.5zM460 260h24.5v6.5h-24.5zM532 260h48.5v6.5h-48.5zM400 266h12.5v6.5h-12.5zM460 266h24.5v6.5h-24.5zM526 266h66.5v6.5h-66.5zM658 266h6.5v6.5h-6.5zM394 272h12.5v6.5h-12.5zM460 272h30.5v6.5h-30.5zM526 272h84.5v6.5h-84.5zM652 272h12.5v6.5h-12.5zM394 278h6.5v6.5h-6.5zM460 278h42.5v6.5h-42.5zM514 278h114.5v6.5h-114.5zM640 278h24.5v6.5h-24.5zM388 284h12.5v6.5h-12.5zM460 284h204.5v6.5h-204.5zM388 290h12.5v6.5h-12.5zM466 290h102.5v6.5h-102.5zM574 290h90.5v6.5h-90.5zM388 296h12.5v6.5h-12.5zM466 296h198.5v6.5h-198.5zM388 302h18.5v6.5h-18.5zM466 302h198.5v6.5h-198.5zM388 308h18.5v6.5h-18.5zM466 308h198.5v6.5h-198.5z"/>
<path fill="#ec6a42" d="M562 116h30.5v6.5h-30.5zM550 122h12.5v6.5h-12.5zM592 122h30.5v6.5h-30.5zM526 128h30.5v6.5h-30.5zM604 128h18.5v6.5h-18.5zM466 134h6.5v6.5h-6.5zM496 134h6.5v6.5h-6.5zM508 134h6.5v6.5h-6.5zM568 134h12.5v6.5h-12.5zM610 134h6.5v6.5h-6.5zM478 140h12.5v6.5h-12.5zM562 140h24.5v6.5h-24.5zM616 140h6.5v6.5h-6.5zM442 146h6.5v6.5h-6.5zM556 146h24.5v6.5h-24.5zM616 146h6.5v6.5h-6.5zM436 152h6.5v6.5h-6.5zM556 152h18.5v6.5h-18.5zM622 152h6.5v6.5h-6.5zM436 158h6.5v6.5h-6.5zM622 158h12.5v6.5h-12.5zM436 164h6.5v6.5h-6.5zM628 164h12.5v6.5h-12.5zM430 170h18.5v6.5h-18.5zM628 170h12.5v6.5h-12.5zM424 176h18.5v6.5h-18.5zM532 176h24.5v6.5h-24.5zM628 176h18.5v6.5h-18.5zM418 182h24.5v6.5h-24.5zM526 182h18.5v6.5h-18.5zM550 182h12.5v6.5h-12.5zM634 182h18.5v6.5h-18.5zM418 188h24.5v6.5h-24.5zM514 188h18.5v6.5h-18.5zM556 188h6.5v6.5h-6.5zM634 188h18.5v6.5h-18.5zM418 194h24.5v6.5h-24.5zM502 194h24.5v6.5h-24.5zM556 194h6.5v6.5h-6.5zM634 194h24.5v6.5h-24.5zM418 200h30.5v6.5h-30.5zM484 200h36.5v6.5h-36.5zM556 200h6.5v6.5h-6.5zM634 200h24.5v6.5h-24.5zM418 206h90.5v6.5h-90.5zM556 206h6.5v6.5h-6.5zM634 206h24.5v6.5h-24.5zM418 212h78.5v6.5h-78.5zM550 212h6.5v6.5h-6.5zM634 212h30.5v6.5h-30.5zM424 218h60.5v6.5h-60.5zM550 218h12.5v6.5h-12.5zM634 218h30.5v6.5h-30.5zM424 224h12.5v6.5h-12.5zM448 224h24.5v6.5h-24.5zM556 224h12.5v6.5h-12.5zM634 224h30.5v6.5h-30.5zM424 230h12.5v6.5h-12.5zM448 230h18.5v6.5h-18.5zM556 230h18.5v6.5h-18.5zM628 230h36.5v6.5h-36.5zM424 236h12.5v6.5h-12.5zM448 236h18.5v6.5h-18.5zM562 236h24.5v6.5h-24.5zM622 236h42.5v6.5h-42.5zM424 242h42.5v6.5h-42.5zM562 242h102.5v6.5h-102.5zM424 248h36.5v6.5h-36.5zM568 248h96.5v6.5h-96.5zM418 254h42.5v6.5h-42.5zM568 254h96.5v6.5h-96.5zM418 260h42.5v6.5h-42.5zM580 260h84.5v6.5h-84.5zM412 266h12.5v6.5h-12.5zM430 266h30.5v6.5h-30.5zM592 266h66.5v6.5h-66.5zM406 272h6.5v6.5h-6.5zM430 272h30.5v6.5h-30.5zM610 272h42.5v6.5h-42.5zM400 278h12.5v6.5h-12.5zM430 278h30.5v6.5h-30.5zM628 278h12.5v6.5h-12.5zM400 284h12.5v6.5h-12.5zM424 284h36.5v6.5h-36.5zM400 290h66.5v6.5h-66.5zM400 296h66.5v6.5h-66.5zM406 302h60.5v6.5h-60.5zM406 308h60.5v6.5h-60.5z"/>
<path fill="#e85c3b" d="M562 122h30.5v6.5h-30.5zM556 128h48.5v6.5h-48.5zM460 134h6.5v6.5h-6.5zM502 134h6.5v6.5h-6.5zM514 134h54.5v6.5h-54.5zM580 134h30.5v6.5h-30.5zM454 140h6.5v6.5h-6.5zM466 140h12.5v6.5h-12.5zM490 140h12.5v6.5h-12.5zM508 140h12.5v6.5h-12.5zM538 140h24.5v6.5h-24.5zM586 140h6.5v6.5h-6.5zM604 140h12.5v6.5h-12.5zM448 146h6.5v6.5h-6.5zM478 146h18.5v6.5h-18.5zM538 146h18.5v6.5h-18.5zM580 146h6.5v6.5h-6.5zM610 146h6.5v6.5h-6.5zM442 152h6.5v6.5h-6.5zM538 152h18.5v6.5h-18.5zM574 152h12.5v6.5h-12.5zM610 152h12.5v6.5h-12.5zM442 158h6.5v6.5h-6.5zM532 158h48.5v6.5h-48.5zM610 158h12.5v6.5h-12.5zM442 164h12.5v6.5h-12.5zM520 164h54.5v6.5h-54.5zM616 164h12.5v6.5h-12.5zM448 170h6.5v6.5h-6.5zM508 170h66.5v6.5h-66.5zM616 170h12.5v6.5h-12.5zM442 176h12.5v6.5h-12.5zM490 176h42.5v6.5h-42.5zM556 176h18.5v6.5h-18.5zM616 176h12.5v6.5h-12.5zM442 182h18.5v6.5h-18.5zM484 182h42.5v6.5h-42.5zM562 182h12.5v6.5h-12.5zM616 182h18.5v6.5h-18.5zM442 188h24.5v6.5h-24.5zM472 188h42.5v6.5h-42.5zM562 188h12.5v6.5h-12.5zM616 188h18.5v6.5h-18.5zM442 194h60.5v6.5h-60.5zM562 194h12.5v6.5h-12.5zM616 194h18.5v6.5h-18.5zM448 200h36.5v6.5h-36.5zM562 200h12.5v6.5h-12.5zM616 200h18.5v6.5h-18.5zM562 206h12.5v6.5h-12.5zM610 206h24.5v6.5h-24.5zM556 212h18.5v6.5h-18.5zM604 212h30.5v6.5h-30.5zM562 218h72.5v6.5h-72.5zM436 224h12.5v6.5h-12.5zM568 224h66.5v6.5h-66.5zM436 230h12.5v6.5h-12.5zM574 230h54.5v6.5h-54.5zM436 236h12.5v6.5h-12.5zM586 236h36.5v6.5h-36.5zM424 266h6.5v6.5h-6.5zM412 272h18.5v6.5h-18.5zM412 278h18.5v6.5h-18.5zM412 284h12.5v6.5h-12.5z"/>
<path fill="#e54f35" d="M460 140h6.5v6.5h-6.5zM502 140h6.5v6.5h-6.5zM520 140h18.5v6.5h-18.5zM592 140h12.5v6.5h-12.5zM454 146h24.5v6.5h-24.5zM496 146h42.5v6.5h-42.5zM586 146h24.5v6.5h-24.5zM448 152h90.5v6.5h-90.5zM586 152h24.5v6.5h-24.5zM448 158h84.5v6.5h-84.5zM580 158h12.5v6.5h-12.5zM598 158h12.5v6.5h-12.5zM454 164h66.5v6.5h-66.5zM574 164h12.5v6.5h-12.5zM598 164h18.5v6.5h-18.5zM454 170h54.5v6.5h-54.5zM574 170h12.5v6.5h-12.5zM598 170h18.5v6.5h-18.5zM454 176h36.5v6.5h-36.5zM574 176h42.5v6.5h-42.5zM460 182h24.5v6.5h-24.5zM574 182h42.5v6.5h-42.5zM466 188h6.5v6.5h-6.5zM574 188h42.5v6.5h-42.5zM574 194h42.5v6.5h-42.5zM574 200h42.5v6.5h-42.5zM574 206h36.5v6.5h-36.5zM574 212h30.5v6.5h-30.5z"/>
<path fill="#e2422f" d="M592 158h6.5v6.5h-6.5zM586 164h12.5v6.5h-12.5zM586 170h12.5v6.5h-12.5z"/>
</g>
<g filter="url(#b2)">
<ellipse cx="268" cy="64" rx="7" ry="4" fill="#a0cee4" opacity="0.8" transform="rotate(20 268 64)"/>
<ellipse cx="292" cy="61" rx="9" ry="2.5" fill="#6eafd7" opacity="0.8" transform="rotate(8 292 61)"/>
<ellipse cx="272" cy="76" rx="3" ry="8" fill="#a0cee4" opacity="0.55"/>
<ellipse cx="313" cy="74" rx="9" ry="7" fill="#a0cee4" opacity="0.6"/>
<ellipse cx="326" cy="92" rx="8" ry="10" fill="#a0cee4" opacity="0.65" transform="rotate(-20 326 92)"/>
<ellipse cx="312" cy="104" rx="9" ry="7" fill="#a0cee4" opacity="0.55"/>
<ellipse cx="344" cy="110" rx="8" ry="8" fill="#82bede" opacity="0.75"/>
<ellipse cx="352" cy="122" rx="6" ry="6" fill="#a0cee4" opacity="0.6"/>
<ellipse cx="368" cy="116" rx="3" ry="5" fill="#a0cee4" opacity="0.55" transform="rotate(-20 368 116)"/>
<ellipse cx="334" cy="80" rx="6" ry="5" fill="#a0cee4" opacity="0.45"/>
<ellipse cx="362" cy="166" rx="5" ry="10" fill="#bee1eb" opacity="0.55"/>
<ellipse cx="352" cy="180" rx="6" ry="5" fill="#c8e4eb" opacity="0.45"/>
<ellipse cx="343" cy="148" rx="6" ry="2.2" fill="#b9dee8" opacity="0.6"/>
<ellipse cx="267" cy="172" rx="2.5" ry="10" fill="#aad7d7" opacity="0.6" transform="rotate(-25 267 172)"/>
<ellipse cx="300" cy="70" rx="5" ry="3" fill="#a0cee4" opacity="0.4"/>
<ellipse cx="320" cy="82" rx="4" ry="6" fill="#a0cee4" opacity="0.45" transform="rotate(30 320 82)"/>
<ellipse cx="305" cy="92" rx="5" ry="4" fill="#a0cee4" opacity="0.4"/>
<ellipse cx="338" cy="100" rx="5" ry="4" fill="#a0cee4" opacity="0.5"/>
<ellipse cx="322" cy="112" rx="6" ry="4" fill="#a0cee4" opacity="0.45"/>
<ellipse cx="358" cy="112" rx="4" ry="4" fill="#a0cee4" opacity="0.45"/>
<ellipse cx="345" cy="128" rx="5" ry="3" fill="#a0cee4" opacity="0.4"/>
<ellipse cx="330" cy="120" rx="4" ry="3" fill="#a0cee4" opacity="0.35"/>
<ellipse cx="280" cy="66" rx="4" ry="3" fill="#a0cee4" opacity="0.4"/>
<ellipse cx="258" cy="68" rx="3" ry="4" fill="#a0cee4" opacity="0.4"/>
<ellipse cx="372" cy="158" rx="3" ry="6" fill="#bee1eb" opacity="0.35"/>
<ellipse cx="380" cy="160" rx="4" ry="5" fill="#bee1eb" opacity="0"/>
<ellipse cx="543" cy="200" rx="3" ry="11" fill="#fed6a0" opacity="0.7" transform="rotate(28 543 200)"/>
<ellipse cx="556" cy="178" rx="3" ry="12" fill="#fdc88c" opacity="0.55" transform="rotate(30 556 178)"/>
<ellipse cx="568" cy="158" rx="3" ry="10" fill="#faaa6e" opacity="0.4" transform="rotate(32 568 158)"/>
</g>
<g opacity="0.94">
<path fill="#f5e264" d="M258,112 L269.7,112 L269.7,131 L258,131Z"/>
<path fill="#f4e05c" d="M270.3,112 L281.7,112 L281.7,131 L270.3,131Z"/>
<path fill="#f6de58" d="M282.3,113 L294.1,113 L294.1,131 L282.3,131Z"/>
<path fill="#facd5a" d="M247,124 L257.4,124 L257.4,132.4 L247,132.4Z"/>
<path fill="#f5e15f" d="M294.7,120.2 L307.9,120.2 L307.9,132.1 L294.7,132.1Z"/>
<path fill="#facd48" d="M276.8,132.7 L296,132.7 L296,141.8 L276.8,141.8Z"/>
<path fill="#fad24c" d="M296.6,132.7 L313.3,132.7 L313.3,152.6 L299.8,152.6 L299.8,142 L296.6,142Z"/>
<path fill="#fabe3c" d="M314,137.8 L329.5,137.8 L329.5,144.5 L314,144.5Z"/>
<path fill="#faba38" d="M310.6,160 L324,160 L324,168 L310.6,168Z"/>
<path fill="#faa22e" d="M248.5,140.5 L256.6,140.5 L256.6,147.2 L248.5,147.2Z"/>
<path fill="#fabe38" d="M253.9,163.4 L258.5,161.5 L268.5,180 L266,184.5 L261.5,184.5Z"/>
<path fill="#fab032" d="M326,152.6 L331.5,152.6 L331.5,158 L326,158Z"/>
<path fill="#f87d24" d="M277.3,190.5 L288.4,191 L301.2,202.1 L301.7,207.9 L284.9,207.9 L279.1,203.3 L276.7,196.3Z"/>
<path fill="#f56a1e" d="M281.4,208.5 L302.3,208.5 L302.3,212 L283.5,212Z"/>
<path fill="#f5641e" d="M287.2,214.3 L297.7,214.3 L297.7,220.7 L287.2,220.7Z"/>
<path fill="#f0561c" d="M308.7,214.9 L316.6,214.9 L316.6,226.5 L308.7,226.5Z"/>
<path fill="#f15a1e" d="M317.2,214.9 L323.3,214.9 L323.3,219 L317.2,219Z"/>
<path fill="#f0561c" d="M317.2,219.6 L329,219.6 L329,226.5 L317.2,226.5Z"/>
<path fill="#fa922e" d="M330.2,230.6 L339.5,230.6 L339.5,239.3 L330.2,239.3Z"/>
<path fill="#f0601e" d="M374.6,219.3 L381.6,219.3 L381.6,230.1 L374.6,230.1Z"/>
<path fill="#f16420" d="M383.1,211.6 L388.5,211.6 L388.5,222.4 L383.1,222.4Z"/>
<path fill="#f0601e" d="M383.1,224 L387.7,224 L387.7,239.4 L383.1,239.4Z"/>
<path fill="#f26422" d="M370.8,230.8 L381.6,230.8 L381.6,239.4 L370.8,239.4Z"/>
<path fill="#fa962a" d="M383,191.6 L389,191.6 L389,199.3 L383,199.3Z"/>
<path fill="#de2414" d="M410,275.2 L418.4,275.2 L418.4,282.8 L410,282.8Z"/>
<path fill="#de2414" d="M418,288.6 L422,288.6 L422,291.4 L418,291.4Z"/>
<path fill="#de2414" d="M415.9,265.9 L419.6,265.9 L419.6,269.6 L415.9,269.6Z"/>
<path fill="#de2414" d="M420.4,266.4 L424.2,266.4 L424.2,270 L420.4,270Z"/>
<path fill="#de2816" d="M533.5,122.5 L537,122 L538.5,129 L535,130Z"/>
<path fill="#de2d16" d="M585,106 L589.5,106 L589.5,110.5 L585,110.5Z"/>
<path fill="#ee5a1e" d="M590.5,104.8 L595.5,104.8 L595.5,108.8 L590.5,108.8Z"/>
<path fill="#f06420" d="M584.5,112 L588.5,112 L588.5,116.5 L584.5,116.5Z"/>
<path fill="#dde887" d="M385.0 79.7h4.2v3.1h-4.2zM389.7 79.7h3.9v3.4h-3.9zM405.0 79.7h4.3v3.6h-4.3zM384.5 84.4h3.2v3.4h-3.2zM389.2 84.3h4.0v2.8h-4.0zM394.3 84.7h3.4v3.6h-3.4zM399.2 84.8h3.6v3.5h-3.6zM404.3 84.1h3.4v3.4h-3.4zM384.0 89.1h3.8v3.5h-3.8zM388.8 88.5h3.1v2.9h-3.1zM394.5 89.2h3.8v2.8h-3.8zM400.5 92.9h4.0v3.2h-4.0zM384.5 97.7h3.6v2.9h-3.6zM389.5 97.3h3.5v3.5h-3.5zM394.6 97.4h4.1v2.7h-4.1zM404.8 97.4h7.6v3.1h-7.6zM409.7 97.7h3.2v3.3h-3.2zM396.0 102.1h3.9v2.8h-3.9zM405.8 102.2h4.2v3.6h-4.2zM410.4 102.0h4.2v3.5h-4.2zM390.4 106.7h4.1v3.2h-4.1zM400.5 106.2h4.1v3.6h-4.1zM405.8 106.4h8.4v3.2h-8.4zM410.6 106.1h4.1v3.2h-4.1zM399.9 111.1h3.5v3.6h-3.5zM404.1 111.1h3.4v3.4h-3.4zM409.6 110.4h4.0v2.8h-4.0zM405.2 115.0h3.8v3.1h-3.8zM400.7 119.6h3.6v2.7h-3.6zM405.5 119.8h4.3v3.2h-4.3zM405.4 123.9h3.3v3.5h-3.3zM399.1 128.1h3.3v3.0h-3.3zM384.3 133.1h4.0v2.7h-4.0zM389.2 132.6h3.9v2.8h-3.9zM394.0 132.7h4.0v3.2h-4.0zM352.1 76.2h4.5v3.2h-4.5zM368.4 76.1h9.0v3.7h-9.0zM373.8 75.7h3.9v4.1h-3.9zM379.3 76.0h3.6v4.0h-3.6zM350.4 80.8h4.4v3.9h-4.4zM361.1 81.4h4.1v4.1h-4.1zM366.9 80.9h3.8v3.8h-3.8zM346.6 86.3h4.0v3.9h-4.0zM351.5 86.2h4.0v3.4h-4.0zM357.0 85.6h4.6v3.8h-4.6zM362.5 85.7h4.8v3.8h-4.8zM368.5 86.2h4.4v3.3h-4.4zM373.7 85.9h4.1v3.5h-4.1zM379.2 86.1h8.8v3.4h-8.8zM355.9 91.2h4.7v4.0h-4.7zM356.8 96.1h8.1v3.5h-8.1zM362.2 96.2h3.8v4.1h-3.8zM357.3 100.8h3.8v4.3h-3.8zM379.2 101.1h4.8v3.1h-4.8zM385.0 101.1h4.3v4.2h-4.3zM357.0 106.0h3.6v4.0h-3.6zM362.3 106.2h4.4v3.4h-4.4zM367.4 105.6h3.6v4.1h-3.6zM373.0 106.3h4.1v4.2h-4.1zM378.3 106.1h4.4v3.8h-4.4zM341.0 126.3h4.0v3.9h-4.0zM346.6 126.2h3.9v3.5h-3.9zM357.1 126.4h4.0v4.1h-4.0zM368.1 130.8h4.0v3.9h-4.0zM378.7 130.8h8.0v3.1h-8.0zM321.6 116.8h4.7v3.7h-4.7z"/>
<path fill="#e3e982" d="M409.7 79.6h3.7v2.7h-3.7zM415.0 80.0h3.6v3.5h-3.6zM425.2 80.2h3.4v3.6h-3.4zM430.1 79.9h7.8v2.9h-7.8zM409.4 84.4h3.8v2.9h-3.8zM419.2 84.7h3.8v3.5h-3.8zM429.3 84.8h3.3v3.4h-3.3zM409.5 89.0h7.6v2.7h-7.6zM419.0 89.2h3.9v3.1h-3.9zM424.3 89.0h3.8v3.4h-3.8zM410.4 93.2h3.8v3.1h-3.8zM415.1 93.3h9.4v2.9h-9.4zM420.2 93.5h3.3v3.5h-3.3zM425.5 93.5h3.9v2.8h-3.9zM435.3 93.5h3.8v3.0h-3.8zM429.5 97.8h8.4v2.8h-8.4zM434.6 97.7h3.4v3.0h-3.4zM416.0 101.7h9.0v3.1h-9.0zM425.5 102.0h3.5v3.4h-3.5zM415.3 106.4h3.6v3.6h-3.6zM420.4 106.3h3.6v3.4h-3.6zM425.7 106.0h3.8v3.6h-3.8zM430.3 106.5h3.4v3.3h-3.4zM414.2 110.8h3.9v3.5h-3.9zM424.2 110.4h8.8v2.8h-8.8zM429.2 110.6h3.7v3.2h-3.7zM410.7 119.3h8.6v3.4h-8.6zM415.0 120.0h3.3v3.1h-3.3zM410.4 124.2h3.9v3.2h-3.9zM415.6 123.6h3.4v3.6h-3.4zM409.1 128.6h4.2v3.6h-4.2zM395.4 137.1h3.6v2.8h-3.6zM400.4 136.8h3.4v3.1h-3.4zM404.8 136.8h3.3v3.3h-3.3zM389.9 141.9h3.7v2.8h-3.7zM346.0 130.6h4.1v3.8h-4.1zM356.8 131.3h3.9v3.8h-3.9zM334.6 127.3h4.4v3.7h-4.4z"/>
<path fill="#e9e979" d="M439.7 80.3h9.5v3.5h-9.5zM445.0 80.2h9.5v3.0h-9.5zM450.1 79.7h3.2v3.0h-3.2zM439.9 84.2h8.2v2.7h-8.2zM449.2 84.6h4.1v3.2h-4.1zM439.1 89.0h3.9v3.5h-3.9zM449.2 88.5h3.9v3.0h-3.9zM444.9 97.8h4.0v3.5h-4.0zM449.5 97.7h3.7v3.3h-3.7zM435.3 106.2h4.0v2.8h-4.0zM440.5 106.1h3.6v3.0h-3.6zM430.1 115.4h4.2v3.5h-4.2zM434.9 114.8h4.0v2.7h-4.0zM440.3 115.3h3.9v3.3h-3.9zM420.2 119.7h3.7v3.2h-3.7zM425.0 119.4h3.5v3.3h-3.5zM430.7 119.8h3.3v3.4h-3.3zM420.0 124.0h3.4v3.1h-3.4zM414.5 128.2h3.5v3.0h-3.5zM409.5 132.7h3.7v3.4h-3.7zM394.1 145.8h3.8v2.9h-3.8zM262.5 100.3h5.0v3.8h-5.0zM286.1 105.6h4.9v4.5h-4.9zM262.5 111.3h4.6v4.2h-4.6zM298.3 110.7h4.5v3.6h-4.5zM303.1 116.7h5.3v4.8h-5.3zM333.4 132.7h5.1v3.6h-5.1z"/>
<path fill="#efe66e" d="M450.8 101.8h4.2v2.7h-4.2zM445.7 106.5h3.9v3.3h-3.9zM449.7 110.7h3.2v3.6h-3.2zM444.8 115.6h3.9v3.2h-3.9zM435.7 119.5h9.6v3.6h-9.6zM440.8 119.8h4.3v2.9h-4.3zM425.4 123.9h3.2v3.3h-3.2zM430.6 123.7h3.4v3.0h-3.4zM419.1 128.2h3.5v3.0h-3.5zM424.2 128.1h4.1v3.2h-4.1zM409.7 136.9h8.6v3.5h-8.6zM405.3 141.6h3.4v3.3h-3.4zM398.8 146.2h3.6v3.3h-3.6zM385.4 150.1h3.1v3.0h-3.1zM390.4 150.1h3.7v3.4h-3.7zM273.7 105.2h4.9v3.6h-4.9zM280.4 105.4h4.7v3.7h-4.7zM261.4 116.3h11.5v4.5h-11.5zM279.5 116.2h5.3v4.0h-5.3zM285.5 116.3h4.9v4.1h-4.9zM291.6 116.3h4.8v4.1h-4.8zM298.0 122.1h5.4v4.3h-5.4zM327.9 144.3h10.4v4.3h-10.4z"/>
<path fill="#d6e68c" d="M385.1 115.5h8.2v3.2h-8.2zM389.7 114.9h3.7v3.4h-3.7zM395.1 115.5h3.1v3.5h-3.1zM395.3 119.2h3.8v3.4h-3.8zM385.6 124.0h3.4v3.2h-3.4zM384.0 128.6h3.8v3.1h-3.8zM389.0 128.6h3.4v3.3h-3.4zM350.9 106.1h9.6v3.9h-9.6zM351.8 111.1h4.6v3.9h-4.6zM373.3 110.6h4.2v3.6h-4.2zM385.0 110.7h4.0v3.3h-4.0zM356.8 115.6h8.5v4.0h-8.5zM362.2 116.2h4.1v4.1h-4.1zM372.6 115.6h4.6v3.3h-4.6zM338.8 120.7h4.6v3.8h-4.6zM350.2 121.0h4.2v3.6h-4.2zM366.3 121.3h4.3v3.3h-4.3zM373.9 126.3h4.3v4.2h-4.3zM327.5 116.7h4.7v3.9h-4.7z"/>
<path fill="#f4db5f" d="M445.1 119.7h4.3v3.4h-4.3zM435.1 123.9h4.1v3.3h-4.1zM440.7 123.9h4.1v3.0h-4.1zM414.8 136.9h3.4v3.4h-3.4zM403.9 146.3h4.2v3.2h-4.2zM279.8 122.1h4.1v3.7h-4.1zM261.4 132.8h4.1v4.4h-4.1zM273.5 132.8h5.2v4.0h-5.2zM315.6 133.3h4.5v4.0h-4.5zM316.2 138.3h4.1v3.6h-4.1zM321.2 143.7h4.6v3.9h-4.6zM266.5 158.1h2.7v2.8h-2.7zM253.0 167.0h2.7v3.2h-2.7zM253.2 176.3h2.7v2.8h-2.7zM254.3 185.3h3.1v2.9h-3.1z"/>
<path fill="#f8cd4f" d="M450.1 119.6h3.4v2.7h-3.4zM420.1 137.5h3.3v3.4h-3.3zM415.2 141.9h4.1v2.9h-4.1zM409.2 145.7h3.3v2.7h-3.3zM385.2 154.8h8.6v3.4h-8.6zM390.5 154.6h3.6v3.2h-3.6zM286.0 132.9h5.0v3.6h-5.0zM291.8 132.6h4.1v3.6h-4.1zM262.2 138.7h5.4v4.3h-5.4zM292.0 138.7h4.7v4.1h-4.7zM285.2 143.8h4.7v3.6h-4.7zM273.1 149.2h5.0v4.6h-5.0zM279.3 149.2h4.3v4.7h-4.3zM291.3 149.5h4.9v4.5h-4.9zM254.9 162.3h6.2v2.5h-6.2zM257.9 167.3h2.9v3.2h-2.9zM254.6 171.3h3.4v2.6h-3.4zM253.1 180.1h6.4v2.6h-6.4zM323.9 163.8h6.9v6.5h-6.9zM355.8 187.7h5.6v7.2h-5.6z"/>
<path fill="#f9bb3d" d="M445.2 123.7h4.0v3.6h-4.0zM439.2 128.8h3.1v3.2h-3.1zM424.9 137.2h3.4v3.5h-3.4zM420.3 141.3h4.1v2.8h-4.1zM413.8 145.7h4.1v3.2h-4.1zM405.5 150.8h3.5v3.1h-3.5zM395.6 154.5h8.0v3.3h-8.0zM454.0 118.1h2.3v2.5h-2.3zM486.5 118.0h2.0v1.9h-2.0zM449.5 122.6h1.9v2.0h-1.9zM253.0 157.9h6.6v2.8h-6.6zM259.7 171.8h3.2v3.1h-3.2zM257.4 175.7h2.7v3.1h-2.7z"/>
<path fill="#f78a29" d="M435.3 137.1h3.4v2.7h-3.4zM430.2 141.8h3.5v2.7h-3.5zM410.7 150.5h4.0v3.5h-4.0zM415.5 150.3h3.2v2.9h-3.2zM405.6 155.0h3.7v3.0h-3.7zM394.6 159.0h8.5v3.6h-8.5zM399.8 159.1h3.2v3.5h-3.2zM477.0 122.5h5.9v2.5h-5.9zM481.1 122.2h1.9v1.9h-1.9zM485.9 122.3h2.4v2.2h-2.4zM490.7 122.5h2.0v1.8h-2.0zM391.8 162.3h3.1v3.4h-3.1zM383.0 176.3h3.0v2.7h-3.0zM262.2 175.8h2.8v2.9h-2.8zM261.8 180.7h6.7v2.9h-6.7z"/>
<path fill="#f26c21" d="M440.2 137.0h3.7v2.9h-3.7zM404.7 159.2h3.2v2.7h-3.2zM395.1 162.8h3.5v3.6h-3.5zM385.6 171.7h6.4v3.0h-6.4z"/>
<path fill="#e02814" d="M445.2 137.3h3.7v3.0h-3.7zM430.6 150.8h3.8v3.2h-3.8zM425.7 154.9h3.2v3.4h-3.2zM420.2 159.0h3.4v2.9h-3.4zM409.6 162.8h3.5v3.5h-3.5zM404.0 167.9h3.5v3.4h-3.5zM393.9 181.6h3.2v2.7h-3.2zM393.9 199.9h3.5v2.9h-3.5zM389.9 191.0h2.5v2.4h-2.5zM393.5 191.4h2.4v2.3h-2.4zM392.9 195.6h6.3v2.2h-6.3zM389.0 199.1h2.5v2.5h-2.5zM393.6 199.8h2.4v2.7h-2.4zM391.9 203.9h6.0v2.9h-6.0zM389.9 207.4h2.5v2.6h-2.5zM393.8 207.7h2.7v2.9h-2.7zM389.1 211.8h2.3v2.8h-2.3zM393.7 211.8h2.7v2.4h-2.7zM389.9 216.3h2.3v2.3h-2.3zM393.7 216.0h2.5v2.2h-2.5zM389.0 220.0h2.6v2.7h-2.6zM392.7 220.2h2.4v2.2h-2.4zM495.4 127.6h2.3v2.0h-2.3zM478.1 131.8h2.2v2.0h-2.2zM483.0 131.6h2.2v2.1h-2.2zM395.6 171.7h3.6v3.3h-3.6zM392.7 176.3h3.1v2.9h-3.1zM390.1 225.7h5.0v4.7h-5.0zM394.4 232.1h4.8v4.7h-4.8z"/>
<path fill="#dd2413" d="M450.3 137.2h3.3v3.0h-3.3zM438.9 146.2h8.0v3.0h-8.0zM430.2 159.0h3.7v2.8h-3.7zM424.2 163.0h3.5v2.7h-3.5zM422.9 167.6h3.6v2.8h-3.6zM399.9 172.2h3.0v2.7h-3.0zM404.8 172.2h3.7v2.7h-3.7zM414.2 172.3h6.9v3.0h-6.9zM400.3 177.1h3.1v3.2h-3.1zM404.8 176.7h3.2v3.6h-3.2zM394.7 186.0h3.3v2.9h-3.3zM399.4 185.9h3.5v2.9h-3.5zM395.1 190.7h3.1v3.2h-3.1zM400.1 195.2h8.5v3.5h-8.5zM398.8 204.3h3.5v2.9h-3.5zM403.5 204.1h2.9v2.7h-2.9zM400.8 208.7h3.7v3.5h-3.7zM395.3 213.3h3.1v3.3h-3.1zM400.1 213.7h3.9v2.8h-3.9zM405.1 213.6h3.5v3.5h-3.5zM399.9 218.3h3.9v3.1h-3.9zM395.5 223.1h7.4v2.8h-7.4zM405.3 223.1h3.0v3.0h-3.0zM410.3 223.0h3.9v2.9h-3.9zM401.9 191.4h2.8v2.2h-2.8zM396.7 195.2h2.8v2.7h-2.8zM405.6 195.1h2.4v2.5h-2.4zM402.3 207.7h2.7v2.3h-2.7zM398.5 216.6h2.9v2.4h-2.9zM402.2 216.4h2.2v2.7h-2.2zM492.0 131.6h2.4v2.0h-2.4zM397.7 176.4h3.4v3.0h-3.4zM395.8 213.8h5.0v3.9h-5.0zM597.2 113.0h2.2v2.2h-2.2z"/>
<path fill="#e94a1b" d="M435.2 142.0h3.9v2.7h-3.9zM425.0 150.7h3.7v2.8h-3.7zM415.4 154.7h4.3v3.5h-4.3zM420.4 155.1h4.2v3.2h-4.2zM400.0 163.1h3.6v2.9h-3.6zM388.1 203.9h2.6v2.7h-2.6zM481.6 127.2h2.5v2.4h-2.5zM387.9 176.4h3.6v2.8h-3.6zM387.3 185.5h3.4v3.4h-3.4zM383.6 219.6h4.5v5.4h-4.5zM383.9 226.1h4.8v5.0h-4.8zM389.9 238.0h5.1v4.5h-5.1z"/>
<path fill="#db2113" d="M450.3 141.6h3.6v3.3h-3.6zM435.4 154.8h3.8v2.7h-3.8zM434.1 162.7h3.4v2.9h-3.4zM423.7 172.0h3.4v2.7h-3.4zM428.4 172.1h3.5v3.5h-3.5zM433.5 172.4h7.1v3.6h-7.1zM414.8 177.1h3.2v3.4h-3.2zM424.1 176.7h3.7v3.0h-3.7zM428.9 176.8h3.4v2.8h-3.4zM434.2 176.6h3.3v3.7h-3.3zM403.4 181.5h7.5v2.9h-7.5zM408.1 181.6h3.1v3.1h-3.1zM413.0 181.2h3.6v3.3h-3.6zM422.7 181.3h3.2v3.5h-3.2zM427.7 181.6h2.9v2.7h-2.9zM404.5 185.6h3.4v3.4h-3.4zM408.8 186.0h3.2v2.7h-3.2zM423.9 186.1h3.1v2.7h-3.1zM428.5 186.4h3.5v2.8h-3.5zM433.3 186.1h3.4v3.6h-3.4zM414.5 190.8h3.2v3.5h-3.2zM433.4 190.4h3.5v3.1h-3.5zM409.8 195.1h3.6v2.9h-3.6zM408.6 200.1h3.5v3.1h-3.5zM418.1 200.0h8.1v2.8h-8.1zM427.8 199.7h3.2v2.7h-3.2zM432.6 199.9h3.7v3.5h-3.7zM408.7 204.4h3.3v3.7h-3.3zM413.3 204.5h8.3v3.1h-8.3zM422.8 204.7h3.8v3.5h-3.8zM432.1 204.3h2.8v2.8h-2.8zM409.6 209.1h3.6v2.9h-3.6zM415.0 208.9h3.2v3.0h-3.2zM424.1 208.9h3.1v3.6h-3.1zM414.7 213.5h3.7v3.3h-3.7zM419.4 213.2h3.1v3.3h-3.1zM428.6 218.2h3.7v3.4h-3.7zM414.7 222.7h8.0v3.1h-8.0zM424.1 223.0h3.4v3.4h-3.4zM426.5 214.2h2.8v2.9h-2.8zM430.9 214.3h3.0v2.7h-3.0zM426.5 231.8h3.1v2.7h-3.1zM426.8 236.3h3.3v2.9h-3.3zM426.7 240.6h2.9v3.3h-2.9zM425.6 245.0h3.0v2.7h-3.0zM424.7 249.5h2.9v3.3h-2.9zM448.4 253.8h3.1v2.8h-3.1zM447.7 258.0h3.0v2.9h-3.0zM443.6 262.5h3.1v2.6h-3.1zM482.7 136.7h2.0v2.4h-2.0zM481.8 140.8h2.3v1.9h-2.3zM486.3 140.7h2.3v2.3h-2.3zM556.1 270.5h2.0v2.3h-2.0zM563.3 270.6h2.2v1.9h-2.2zM561.2 274.9h1.8v2.2h-1.8zM565.0 274.9h1.7v2.0h-1.7zM557.6 278.3h2.0v1.9h-2.0zM562.0 278.7h2.0v2.0h-2.0zM557.7 282.1h1.9v2.0h-1.9zM565.4 282.5h1.7v1.8h-1.7zM529.6 185.0h2.0v1.9h-2.0zM570.5 139.9h2.3v2.4h-2.3z"/>
<path fill="#f9a530" d="M419.0 146.0h3.6v2.7h-3.6zM389.5 159.4h4.0v3.2h-4.0zM481.6 117.9h5.0v2.5h-5.0zM454.0 123.0h2.0v2.2h-2.0zM382.7 162.8h2.8v3.0h-2.8zM387.3 162.5h3.4v3.1h-3.4zM382.6 167.1h2.8v2.9h-2.8zM266.5 175.8h3.1v2.8h-3.1zM307.8 196.0h12.7v5.5h-12.7z"/>
<path fill="#d81d12" d="M440.6 150.2h3.3v3.5h-3.3zM445.0 150.0h4.1v2.8h-4.1zM440.3 154.6h3.2v3.3h-3.2zM440.0 159.1h4.1v2.7h-4.1zM438.7 162.7h3.6v2.9h-3.6zM442.4 167.2h3.3v2.9h-3.3zM442.9 172.5h7.6v3.4h-7.6zM447.6 171.8h3.2v3.0h-3.2zM438.5 176.4h2.9v3.3h-2.9zM443.7 176.6h3.1v3.1h-3.1zM448.5 177.0h3.0v3.6h-3.0zM437.4 181.5h3.5v3.6h-3.5zM451.6 181.0h3.5v2.7h-3.5zM438.3 185.9h3.3v2.9h-3.3zM447.5 186.4h3.0v3.2h-3.0zM452.2 185.6h3.0v2.9h-3.0zM447.9 190.3h3.1v3.0h-3.1zM452.4 190.6h2.9v2.8h-2.9zM446.8 199.5h3.5v3.2h-3.5zM451.5 199.7h3.8v2.9h-3.8zM442.4 204.0h3.4v2.7h-3.4zM433.7 208.7h3.6v3.2h-3.6zM438.8 208.9h7.4v3.1h-7.4zM443.9 208.9h3.4v3.6h-3.4zM453.0 208.9h3.9v3.1h-3.9zM448.1 213.8h3.3v3.7h-3.3zM442.8 218.4h7.2v3.3h-7.2zM452.4 218.5h3.7v3.5h-3.7zM433.9 222.6h2.9v3.6h-2.9zM453.3 222.7h3.1v3.1h-3.1zM439.9 214.0h3.3v2.8h-3.3zM444.6 213.8h2.8v2.7h-2.8zM430.7 218.3h2.5v3.2h-2.5zM448.2 218.3h2.5v3.2h-2.5zM444.0 222.7h3.0v2.9h-3.0zM439.8 226.9h3.2v3.0h-3.2zM444.2 227.0h2.8v3.0h-2.8zM447.9 226.9h2.6v2.8h-2.6zM431.1 231.9h2.9v2.4h-2.9zM434.8 231.8h2.7v2.9h-2.7zM439.2 231.3h2.9v2.5h-2.9zM443.8 231.2h2.7v3.1h-2.7zM448.6 231.3h2.8v2.9h-2.8zM435.7 236.2h2.4v2.6h-2.4zM439.7 236.4h2.9v2.5h-2.9zM444.0 235.8h3.2v2.5h-3.2zM448.8 236.3h3.3v2.7h-3.3zM431.2 240.3h2.8v2.8h-2.8zM435.7 240.4h5.9v3.2h-5.9zM439.9 240.4h2.6v2.5h-2.6zM444.4 240.8h7.2v2.9h-7.2zM449.0 240.3h3.0v3.3h-3.0zM430.2 244.7h2.5v2.7h-2.5zM439.2 245.1h2.7v3.0h-2.7zM443.3 244.4h2.7v3.2h-2.7zM434.0 249.6h2.4v3.1h-2.4zM442.6 249.2h3.1v2.8h-3.1zM446.8 248.9h2.5v2.7h-2.5zM431.4 253.6h2.5v2.5h-2.5zM439.6 253.9h2.8v2.9h-2.8zM444.4 253.9h2.5v2.8h-2.5zM425.2 258.1h2.6v2.7h-2.6zM429.6 258.1h2.8v3.0h-2.8zM433.9 257.8h3.3v2.7h-3.3zM442.8 258.2h2.7v2.5h-2.7zM426.3 262.0h3.1v2.5h-3.1zM435.1 262.6h2.9v2.7h-2.9zM426.4 267.2h3.2v3.3h-3.2zM435.1 266.4h3.2v3.1h-3.2zM439.4 266.8h2.7v2.7h-2.7zM425.8 271.3h3.2v2.6h-3.2zM430.3 271.4h3.1v2.9h-3.1zM458.4 141.2h2.4v1.8h-2.4zM495.7 141.1h2.4v2.3h-2.4zM477.9 145.5h1.9v2.3h-1.9zM575.2 154.9h2.2v2.0h-2.2zM549.6 159.8h2.1v2.1h-2.1zM559.4 170.0h2.4v1.9h-2.4zM569.5 170.1h2.4v1.9h-2.4zM545.2 174.9h2.2v2.2h-2.2zM565.0 174.8h5.6v2.5h-5.6zM500.4 199.6h1.9v2.4h-1.9zM574.6 126.6h2.3v2.0h-2.3z"/>
<path fill="#d51911" d="M450.2 150.5h4.3v3.6h-4.3zM445.8 154.9h3.4v2.7h-3.4zM453.4 163.0h3.3v3.4h-3.3zM459.3 145.8h1.9v2.4h-1.9zM455.4 150.2h5.4v2.2h-5.4zM468.8 149.9h2.0v2.2h-2.0zM473.7 150.1h2.1v2.2h-2.1zM482.7 150.3h2.1v2.5h-2.1zM595.6 154.9h2.5v2.3h-2.5zM514.8 159.9h2.3v2.3h-2.3zM519.8 160.3h2.5v2.3h-2.5zM464.4 165.0h2.1v2.5h-2.1zM494.9 174.6h2.5v2.4h-2.5zM581.2 180.2h2.3v2.2h-2.3z"/>
<path fill="#cae3a3" d="M339.9 106.0h4.1v4.2h-4.1zM341.0 110.8h4.5v3.3h-4.5zM316.4 99.7h5.1v4.8h-5.1zM322.3 100.1h4.5v3.8h-4.5zM334.5 100.1h4.1v3.6h-4.1z"/>
<path fill="#d0e598" d="M345.9 110.8h10.5v3.9h-10.5zM344.8 120.7h3.8v3.3h-3.8zM309.7 105.5h5.1v4.4h-5.1zM315.7 105.2h4.8v4.2h-4.8zM328.2 111.3h4.5v4.7h-4.5z"/>
</g>
</g>
<g opacity="0.92"><circle cx="266.6" cy="71" r="2.75" fill="#9ba1b2"/>
<circle cx="262" cy="75.6" r="2.75" fill="#9ba1b2"/>
<circle cx="299.6" cy="76.4" r="2.75" fill="#9ba1b2"/>
<circle cx="260" cy="91.4" r="2.75" fill="#9ba1b2"/>
<circle cx="256.6" cy="96.4" r="2.75" fill="#9ba1b2"/>
<circle cx="321.4" cy="88" r="2.75" fill="#9ba1b2"/>
<circle cx="340.2" cy="84.4" r="2.4" fill="#1f2238"/>
<circle cx="334.2" cy="92.6" r="2.75" fill="#9ba1b2"/>
<circle cx="357.4" cy="103.4" r="2.4" fill="#1f2238"/>
<circle cx="411" cy="97" r="2.4" fill="#1f2238"/>
<circle cx="301.2" cy="118" r="2.4" fill="#1f2238"/>
<circle cx="240.4" cy="133.6" r="2.4" fill="#1f2238"/>
<circle cx="370.4" cy="133.6" r="2.4" fill="#1f2238"/>
<circle cx="300.4" cy="145" r="2.4" fill="#1f2238"/>
<circle cx="269" cy="152" r="2.75" fill="#9ba1b2"/>
<circle cx="327.8" cy="148.8" r="2.75" fill="#9ba1b2"/>
<circle cx="379.6" cy="150.6" r="2.4" fill="#1f2238"/>
<circle cx="255.2" cy="159" r="2.75" fill="#9ba1b2"/>
<circle cx="377.4" cy="164.4" r="2.75" fill="#9ba1b2"/>
<circle cx="247" cy="165" r="2.75" fill="#9ba1b2"/>
<circle cx="250" cy="170.4" r="2.75" fill="#9ba1b2"/>
<circle cx="264.4" cy="178.4" r="2.4" fill="#1f2238"/>
<circle cx="378" cy="172.4" r="2.75" fill="#9ba1b2"/>
<circle cx="297.6" cy="189" r="2.75" fill="#9ba1b2"/>
<circle cx="261" cy="199.6" r="2.75" fill="#9ba1b2"/>
<circle cx="323.2" cy="202" r="2.75" fill="#9ba1b2"/>
<circle cx="367.2" cy="201.6" r="2.75" fill="#9ba1b2"/>
<circle cx="279" cy="205.6" r="2.4" fill="#1f2238"/>
<circle cx="272" cy="205.6" r="2.75" fill="#9ba1b2"/>
<circle cx="361.2" cy="207" r="2.75" fill="#9ba1b2"/>
<circle cx="318" cy="216.6" r="2.4" fill="#1f2238"/>
<circle cx="277.6" cy="218" r="2.75" fill="#9ba1b2"/>
<circle cx="326" cy="230.4" r="2.75" fill="#9ba1b2"/>
<circle cx="359.6" cy="238" r="2.75" fill="#9ba1b2"/>
<circle cx="397.3" cy="208.7" r="2.1" fill="#1f2238"/>
<circle cx="398" cy="208" r="2.4" fill="#a3adc0"/>
<circle cx="443.6" cy="201" r="2.75" fill="#9ba1b2"/>
<circle cx="431.6" cy="207" r="2.75" fill="#9ba1b2"/>
<circle cx="513" cy="198.6" r="2.75" fill="#9ba1b2"/>
<circle cx="489" cy="209.6" r="2.75" fill="#9ba1b2"/>
<circle cx="535" cy="199" r="2.75" fill="#9ba1b2"/>
<circle cx="550" cy="175.4" r="2.75" fill="#9ba1b2"/>
<circle cx="533" cy="219" r="2.75" fill="#9ba1b2"/>
<circle cx="559.6" cy="215" r="2.75" fill="#9ba1b2"/>
<circle cx="431.6" cy="232.4" r="2.75" fill="#9ba1b2"/>
<circle cx="436.4" cy="232" r="2.75" fill="#9ba1b2"/>
<circle cx="460.4" cy="235" r="2.75" fill="#9ba1b2"/>
<circle cx="488.4" cy="236" r="2.75" fill="#9ba1b2"/>
<circle cx="519.4" cy="234.4" r="2.75" fill="#9ba1b2"/>
<circle cx="519.7" cy="235" r="1" fill="#1f2238"/>
<circle cx="536.6" cy="251" r="2.75" fill="#9ba1b2"/>
<circle cx="428.6" cy="255.4" r="2.75" fill="#9ba1b2"/>
<circle cx="481.6" cy="253.4" r="2.75" fill="#9ba1b2"/>
<circle cx="448" cy="259.6" r="2.75" fill="#9ba1b2"/>
<circle cx="490.4" cy="257.4" r="2.75" fill="#9ba1b2"/>
<circle cx="422.6" cy="262.6" r="2.75" fill="#9ba1b2"/>
<circle cx="413.3" cy="280.7" r="2.1" fill="#1f2238"/>
<circle cx="414" cy="280" r="2.4" fill="#a3adc0"/>
<circle cx="430.6" cy="279" r="2.75" fill="#9ba1b2"/>
<circle cx="582" cy="179.2" r="2.75" fill="#9ba1b2"/>
<circle cx="591" cy="184.4" r="2.75" fill="#9ba1b2"/>
<circle cx="575" cy="196" r="2.75" fill="#9ba1b2"/>
<circle cx="582" cy="210.4" r="2.75" fill="#9ba1b2"/>
<circle cx="560" cy="234" r="2.75" fill="#9ba1b2"/>
<circle cx="557" cy="250" r="2.75" fill="#9ba1b2"/>
<circle cx="561" cy="266.4" r="2.75" fill="#9ba1b2"/>
<circle cx="552.6" cy="272.4" r="2.75" fill="#9ba1b2"/>
<circle cx="573" cy="290.4" r="2.75" fill="#9ba1b2"/>
<circle cx="461" cy="79.6" r="2.75" fill="#9ba1b2"/>
<circle cx="523.6" cy="98" r="2.75" fill="#9ba1b2"/>
<circle cx="603" cy="108.6" r="2.75" fill="#9ba1b2"/>
<circle cx="626.4" cy="106" r="2.75" fill="#9ba1b2"/>
<circle cx="574" cy="125.6" r="2.75" fill="#9ba1b2"/>
<circle cx="584" cy="125.6" r="2.75" fill="#9ba1b2"/>
<circle cx="620.6" cy="127" r="2.75" fill="#9ba1b2"/>
<circle cx="565.4" cy="130" r="2.75" fill="#9ba1b2"/>
<circle cx="536" cy="138" r="2.75" fill="#9ba1b2"/>
<circle cx="608" cy="140" r="2.75" fill="#9ba1b2"/>
<circle cx="546.4" cy="145.6" r="2.75" fill="#9ba1b2"/>
<circle cx="502.4" cy="145.6" r="2.75" fill="#9ba1b2"/>
<circle cx="602.6" cy="145.6" r="2.75" fill="#9ba1b2"/>
<circle cx="559.6" cy="154" r="2.75" fill="#9ba1b2"/>
<circle cx="595.4" cy="153.6" r="2.75" fill="#9ba1b2"/>
<circle cx="585.6" cy="162" r="2.75" fill="#9ba1b2"/>
<circle cx="583.6" cy="166" r="2.75" fill="#9ba1b2"/>
<circle cx="515.6" cy="164.6" r="2.75" fill="#9ba1b2"/>
<circle cx="528.6" cy="169.6" r="2.75" fill="#9ba1b2"/>
<circle cx="408" cy="82.4" r="2.75" fill="#9ba1b2"/>
<circle cx="438.4" cy="97.4" r="2.75" fill="#9ba1b2"/>
<circle cx="463.6" cy="116" r="2.75" fill="#9ba1b2"/>
<circle cx="413" cy="121" r="2.75" fill="#9ba1b2"/>
<circle cx="438.4" cy="130" r="2.4" fill="#1f2238"/>
<circle cx="501.4" cy="133.6" r="2.75" fill="#9ba1b2"/>
<circle cx="443.6" cy="153" r="2.75" fill="#9ba1b2"/>
<circle cx="460.6" cy="149" r="2.75" fill="#9ba1b2"/>
<circle cx="445.6" cy="172.4" r="2.75" fill="#9ba1b2"/>
<circle cx="453.6" cy="172.4" r="2.75" fill="#9ba1b2"/>
<circle cx="486" cy="177.6" r="2.75" fill="#9ba1b2"/></g>
<g class="cl"><text transform="translate(268 72.5) scale(.95 1)">Seattle</text>
<text transform="translate(261 76.9) scale(.95 1)" text-anchor="end">Olympia</text>
<text transform="translate(300.4 77.9) scale(.95 1)">Spokane</text>
<text transform="translate(259.6 91.5) scale(.95 1)" text-anchor="end">Portland</text>
<text transform="translate(260.4 90.9) scale(.95 1)">Vancouver</text>
<text transform="translate(257 102.3) scale(.95 1)">Salem</text>
<text transform="translate(320.4 88.9) scale(.95 1)" text-anchor="end">Missoula</text>
<text transform="translate(341.2 84.9) scale(.95 1)">Great Falls</text>
<text transform="translate(335.4 98.5) scale(.95 1)">Helena</text>
<text transform="translate(358 104.5) scale(.95 1)">Billings</text>
<text transform="translate(410 97.5) scale(.95 1)" text-anchor="end">Bismarck</text>
<text transform="translate(301.6 118.5) scale(.95 1)">Boise</text>
<text transform="translate(241 134.5) scale(.95 1)">Eureka</text>
<text transform="translate(371 134.3) scale(.95 1)">Casper</text>
<text transform="translate(301 145.5) scale(.95 1)">Elko</text>
<text transform="translate(269.6 152.5) scale(.95 1)">Reno</text>
<text transform="translate(328.4 150.1) scale(.95 1)">Salt Lake City</text>
<text transform="translate(380.4 151.3) scale(.95 1)">Cheyenne</text>
<text transform="translate(256 164.5) scale(.95 1)">Sacramento</text>
<text transform="translate(378.4 164.9) scale(.95 1)">Denver</text>
<text transform="translate(246 165.9) scale(.95 1)" text-anchor="end">San Francisco</text>
<text transform="translate(249 176.5) scale(.95 1)" text-anchor="end">San Jose</text>
<text transform="translate(265.6 178.9) scale(.95 1)">Fresno</text>
<text transform="translate(377.6 178.5) scale(.95 1)" text-anchor="end">Colorado Springs</text>
<text transform="translate(298.4 189.5) scale(.95 1)">Las Vegas</text>
<text transform="translate(262 200.3) scale(.95 1)">Santa Barbara</text>
<text transform="translate(324 202.3) scale(.95 1)">Flagstaff</text>
<text transform="translate(368 202.3) scale(.95 1)">Santa Fe</text>
<text transform="translate(278 211.9) scale(.95 1)" text-anchor="end">San Bernardino</text>
<text transform="translate(361 212.9) scale(.95 1)" text-anchor="end">Albuquerque</text>
<text transform="translate(316 217.5) scale(.95 1)" text-anchor="end">Phoenix</text>
<text transform="translate(277.6 223.5) scale(.95 1)" text-anchor="end">San Diego</text>
<text transform="translate(327.4 230.9) scale(.95 1)">Tucson</text>
<text transform="translate(361 238.5) scale(.95 1)">El Paso</text>
<text transform="translate(399.4 208.9) scale(.95 1)">Amarillo</text>
<text transform="translate(444.4 201.9) scale(.95 1)">Tulsa</text>
<text transform="translate(432 212.9) scale(.95 1)">Oklahoma City</text>
<text transform="translate(513 199.5) scale(.95 1)" text-anchor="end">Nashville</text>
<text transform="translate(490 210.5) scale(.95 1)">Memphis</text>
<text transform="translate(536 199.5) scale(.95 1)">Knoxville</text>
<text transform="translate(549.6 181.1) scale(.95 1)" text-anchor="end">Charleston</text>
<text transform="translate(532 219.9) scale(.95 1)" text-anchor="end">Atlanta</text>
<text transform="translate(567 215.5) scale(.95 1)" text-anchor="end">Columbia</text>
<text transform="translate(430 232.9) scale(.95 1)" text-anchor="end">Ft. Worth</text>
<text transform="translate(437 232.5) scale(.95 1)">Dallas</text>
<text transform="translate(489.6 236.9) scale(.95 1)">Jackson</text>
<text transform="translate(520 234.9) scale(.95 1)">Montgomery</text>
<text transform="translate(535.6 251.3) scale(.95 1)" text-anchor="end">Tallahassee</text>
<text transform="translate(428 255.9) scale(.95 1)" text-anchor="end">Austin</text>
<text transform="translate(481 254.3) scale(.95 1)" text-anchor="end">Baton Rouge</text>
<text transform="translate(449 265.9) scale(.95 1)">Houston</text>
<text transform="translate(491.4 262.9) scale(.95 1)">New Orleans</text>
<text transform="translate(422 268.3) scale(.95 1)" text-anchor="end">San Antonio</text>
<text transform="translate(413 281.5) scale(.95 1)" text-anchor="end">Laredo</text>
<text transform="translate(432 279.5) scale(.95 1)">Corpus Christi</text>
<text transform="translate(583 179.7) scale(.95 1)">Richmond</text>
<text transform="translate(592.4 190.3) scale(.95 1)">Norfolk</text>
<text transform="translate(575.6 202.3) scale(.95 1)">Raleigh</text>
<text transform="translate(583 210.9) scale(.95 1)">Wilmington</text>
<text transform="translate(560.6 234.3) scale(.95 1)">Savannah</text>
<text transform="translate(558 250.3) scale(.95 1)">Jacksonville</text>
<text transform="translate(562 266.9) scale(.95 1)">Orlando</text>
<text transform="translate(552 272.9) scale(.95 1)" text-anchor="end">Tampa</text>
<text transform="translate(574.4 290.9) scale(.95 1)">Miami</text>
<text transform="translate(462 80.3) scale(.95 1)">International Falls</text>
<text transform="translate(524.4 98.9) scale(.95 1)">Sault Ste. Marie</text>
<text transform="translate(602 109.5) scale(.95 1)" text-anchor="end">Burlington</text>
<text transform="translate(628 106.9) scale(.95 1)">Augusta</text>
<text transform="translate(577 126.5) scale(.95 1)" text-anchor="end">Rochester</text>
<text transform="translate(585 126.5) scale(.95 1)">Syracuse</text>
<text transform="translate(622 127.5) scale(.95 1)">Boston</text>
<text transform="translate(565 134.9) scale(.95 1)" text-anchor="end">Buffalo</text>
<text transform="translate(536 138.9) scale(.95 1)" text-anchor="end">Detroit</text>
<text transform="translate(609 140.9) scale(.95 1)">Bridgeport</text>
<text transform="translate(547.6 145.9) scale(.95 1)">Cleveland</text>
<text transform="translate(503.6 151.5) scale(.95 1)">Chicago</text>
<text transform="translate(560.6 154.9) scale(.95 1)">Pittsburgh</text>
<text transform="translate(596 159.5) scale(.95 1)">Philadelphia</text>
<text transform="translate(584 168.9) scale(.95 1)">Washington, D.C.</text>
<text transform="translate(515 165.3) scale(.95 1)" text-anchor="end">Indianapolis</text>
<text transform="translate(529.6 169.9) scale(.95 1)">Cincinnati</text>
<text transform="translate(409 83.3) scale(.95 1)">Minot</text>
<text transform="translate(439.4 97.9) scale(.95 1)">Fargo</text>
<text transform="translate(463 118.9) scale(.95 1)" text-anchor="end">Minneapolis</text>
<text transform="translate(465 116.9) scale(.95 1)">St. Paul</text>
<text transform="translate(410 121.9) scale(.95 1)" text-anchor="end">Pierre</text>
<text transform="translate(439.4 130.5) scale(.95 1)">Sioux Falls</text>
<text transform="translate(500 139.5) scale(.95 1)" text-anchor="end">Milwaukee</text>
<text transform="translate(442 152.5) scale(.95 1)" text-anchor="end">Omaha</text>
<text transform="translate(461.6 149.9) scale(.95 1)">Des Moines</text>
<text transform="translate(445 173.9) scale(.95 1)" text-anchor="end">Topeka</text>
<text transform="translate(487 177.5) scale(.95 1)">St. Louis</text></g>
</g>
<g id="map2" transform="translate(-0.8,237.0)">
<g clip-path="url(#usc)">
<g filter="url(#bl)">
<path fill="#d1ead6" d="M238 44h54.5v6.5h-54.5zM250 50h36.5v6.5h-36.5zM262 56h18.5v6.5h-18.5zM268 62h12.5v6.5h-12.5z"/>
<path fill="#d6eccd" d="M226 44h12.5v6.5h-12.5zM292 44h36.5v6.5h-36.5zM226 50h24.5v6.5h-24.5zM286 50h12.5v6.5h-12.5zM244 56h18.5v6.5h-18.5zM280 56h6.5v6.5h-6.5zM256 62h12.5v6.5h-12.5zM268 68h6.5v6.5h-6.5zM340 110h12.5v6.5h-12.5zM346 116h6.5v6.5h-6.5zM376 146h12.5v6.5h-12.5zM370 152h18.5v6.5h-18.5zM370 158h18.5v6.5h-18.5zM364 164h24.5v6.5h-24.5z"/>
<path fill="#dbeec4" d="M328 44h48.5v6.5h-48.5zM298 50h54.5v6.5h-54.5zM226 56h18.5v6.5h-18.5zM286 56h54.5v6.5h-54.5zM226 62h30.5v6.5h-30.5zM280 62h6.5v6.5h-6.5zM310 62h18.5v6.5h-18.5zM262 68h6.5v6.5h-6.5zM274 68h6.5v6.5h-6.5zM316 68h6.5v6.5h-6.5zM328 98h18.5v6.5h-18.5zM328 104h24.5v6.5h-24.5zM334 110h6.5v6.5h-6.5zM352 110h6.5v6.5h-6.5zM340 116h6.5v6.5h-6.5zM352 116h48.5v6.5h-48.5zM346 122h18.5v6.5h-18.5zM370 122h36.5v6.5h-36.5zM370 128h36.5v6.5h-36.5zM370 134h42.5v6.5h-42.5zM370 140h42.5v6.5h-42.5zM364 146h12.5v6.5h-12.5zM388 146h18.5v6.5h-18.5zM364 152h6.5v6.5h-6.5zM388 152h12.5v6.5h-12.5zM364 158h6.5v6.5h-6.5zM388 158h12.5v6.5h-12.5zM358 164h6.5v6.5h-6.5zM388 164h6.5v6.5h-6.5zM370 170h18.5v6.5h-18.5z"/>
<path fill="#e0efbb" d="M376 44h96.5v6.5h-96.5zM352 50h90.5v6.5h-90.5zM340 56h84.5v6.5h-84.5zM286 62h6.5v6.5h-6.5zM304 62h6.5v6.5h-6.5zM328 62h84.5v6.5h-84.5zM226 68h36.5v6.5h-36.5zM310 68h6.5v6.5h-6.5zM322 68h18.5v6.5h-18.5zM370 68h24.5v6.5h-24.5zM226 74h6.5v6.5h-6.5zM310 74h18.5v6.5h-18.5zM376 74h12.5v6.5h-12.5zM382 86h6.5v6.5h-6.5zM322 92h24.5v6.5h-24.5zM376 92h18.5v6.5h-18.5zM316 98h12.5v6.5h-12.5zM346 98h6.5v6.5h-6.5zM370 98h30.5v6.5h-30.5zM322 104h6.5v6.5h-6.5zM352 104h60.5v6.5h-60.5zM328 110h6.5v6.5h-6.5zM358 110h60.5v6.5h-60.5zM334 116h6.5v6.5h-6.5zM400 116h24.5v6.5h-24.5zM340 122h6.5v6.5h-6.5zM364 122h6.5v6.5h-6.5zM406 122h24.5v6.5h-24.5zM352 128h18.5v6.5h-18.5zM406 128h24.5v6.5h-24.5zM358 134h12.5v6.5h-12.5zM412 134h18.5v6.5h-18.5zM364 140h6.5v6.5h-6.5zM412 140h24.5v6.5h-24.5zM406 146h24.5v6.5h-24.5zM358 152h6.5v6.5h-6.5zM400 152h18.5v6.5h-18.5zM358 158h6.5v6.5h-6.5zM400 158h6.5v6.5h-6.5zM394 164h6.5v6.5h-6.5zM364 170h6.5v6.5h-6.5zM388 170h6.5v6.5h-6.5zM376 176h12.5v6.5h-12.5z"/>
<path fill="#e5f1b2" d="M472 44h174.5v6.5h-174.5zM442 50h198.5v6.5h-198.5zM424 56h78.5v6.5h-78.5zM586 56h42.5v6.5h-42.5zM292 62h12.5v6.5h-12.5zM412 62h78.5v6.5h-78.5zM280 68h6.5v6.5h-6.5zM304 68h6.5v6.5h-6.5zM340 68h30.5v6.5h-30.5zM394 68h84.5v6.5h-84.5zM232 74h12.5v6.5h-12.5zM256 74h18.5v6.5h-18.5zM328 74h48.5v6.5h-48.5zM388 74h60.5v6.5h-60.5zM226 80h12.5v6.5h-12.5zM316 80h18.5v6.5h-18.5zM346 80h96.5v6.5h-96.5zM226 86h6.5v6.5h-6.5zM322 86h60.5v6.5h-60.5zM388 86h48.5v6.5h-48.5zM310 92h12.5v6.5h-12.5zM346 92h30.5v6.5h-30.5zM394 92h42.5v6.5h-42.5zM310 98h6.5v6.5h-6.5zM352 98h18.5v6.5h-18.5zM400 98h36.5v6.5h-36.5zM310 104h12.5v6.5h-12.5zM412 104h30.5v6.5h-30.5zM418 110h24.5v6.5h-24.5zM424 116h24.5v6.5h-24.5zM430 122h18.5v6.5h-18.5zM346 128h6.5v6.5h-6.5zM430 128h18.5v6.5h-18.5zM352 134h6.5v6.5h-6.5zM430 134h18.5v6.5h-18.5zM358 140h6.5v6.5h-6.5zM436 140h12.5v6.5h-12.5zM358 146h6.5v6.5h-6.5zM430 146h18.5v6.5h-18.5zM418 152h30.5v6.5h-30.5zM406 158h18.5v6.5h-18.5zM400 164h12.5v6.5h-12.5zM358 170h6.5v6.5h-6.5zM394 170h6.5v6.5h-6.5zM370 176h6.5v6.5h-6.5zM388 176h6.5v6.5h-6.5z"/>
<path fill="#ebf1af" d="M646 44h18.5v6.5h-18.5zM640 50h18.5v6.5h-18.5zM502 56h84.5v6.5h-84.5zM628 56h24.5v6.5h-24.5zM490 62h156.5v6.5h-156.5zM286 68h6.5v6.5h-6.5zM298 68h6.5v6.5h-6.5zM478 68h36.5v6.5h-36.5zM568 68h72.5v6.5h-72.5zM244 74h12.5v6.5h-12.5zM304 74h6.5v6.5h-6.5zM448 74h54.5v6.5h-54.5zM622 74h12.5v6.5h-12.5zM238 80h12.5v6.5h-12.5zM310 80h6.5v6.5h-6.5zM334 80h12.5v6.5h-12.5zM442 80h54.5v6.5h-54.5zM232 86h12.5v6.5h-12.5zM310 86h12.5v6.5h-12.5zM436 86h54.5v6.5h-54.5zM226 92h18.5v6.5h-18.5zM436 92h48.5v6.5h-48.5zM226 98h12.5v6.5h-12.5zM304 98h6.5v6.5h-6.5zM436 98h42.5v6.5h-42.5zM226 104h12.5v6.5h-12.5zM442 104h30.5v6.5h-30.5zM226 110h6.5v6.5h-6.5zM322 110h6.5v6.5h-6.5zM442 110h24.5v6.5h-24.5zM328 116h6.5v6.5h-6.5zM448 116h18.5v6.5h-18.5zM334 122h6.5v6.5h-6.5zM448 122h18.5v6.5h-18.5zM340 128h6.5v6.5h-6.5zM448 128h18.5v6.5h-18.5zM346 134h6.5v6.5h-6.5zM448 134h18.5v6.5h-18.5zM352 140h6.5v6.5h-6.5zM448 140h6.5v6.5h-6.5zM352 146h6.5v6.5h-6.5zM448 146h6.5v6.5h-6.5zM352 152h6.5v6.5h-6.5zM424 158h24.5v6.5h-24.5zM412 164h12.5v6.5h-12.5zM400 170h6.5v6.5h-6.5zM364 176h6.5v6.5h-6.5zM394 176h6.5v6.5h-6.5zM376 182h12.5v6.5h-12.5z"/>
<path fill="#f1f0ac" d="M658 50h6.5v6.5h-6.5zM652 56h12.5v6.5h-12.5zM646 62h12.5v6.5h-12.5zM292 68h6.5v6.5h-6.5zM514 68h54.5v6.5h-54.5zM640 68h12.5v6.5h-12.5zM274 74h6.5v6.5h-6.5zM502 74h120.5v6.5h-120.5zM634 74h12.5v6.5h-12.5zM250 80h18.5v6.5h-18.5zM304 80h6.5v6.5h-6.5zM496 80h24.5v6.5h-24.5zM562 80h24.5v6.5h-24.5zM616 80h18.5v6.5h-18.5zM244 86h12.5v6.5h-12.5zM304 86h6.5v6.5h-6.5zM490 86h18.5v6.5h-18.5zM244 92h6.5v6.5h-6.5zM304 92h6.5v6.5h-6.5zM484 92h18.5v6.5h-18.5zM238 98h12.5v6.5h-12.5zM478 98h18.5v6.5h-18.5zM238 104h12.5v6.5h-12.5zM304 104h6.5v6.5h-6.5zM472 104h24.5v6.5h-24.5zM232 110h12.5v6.5h-12.5zM316 110h6.5v6.5h-6.5zM466 110h24.5v6.5h-24.5zM226 116h12.5v6.5h-12.5zM466 116h24.5v6.5h-24.5zM226 122h6.5v6.5h-6.5zM466 122h18.5v6.5h-18.5zM334 128h6.5v6.5h-6.5zM466 128h12.5v6.5h-12.5zM340 134h6.5v6.5h-6.5zM466 134h6.5v6.5h-6.5zM346 140h6.5v6.5h-6.5zM454 140h12.5v6.5h-12.5zM346 146h6.5v6.5h-6.5zM454 146h6.5v6.5h-6.5zM448 152h6.5v6.5h-6.5zM352 158h6.5v6.5h-6.5zM448 158h6.5v6.5h-6.5zM424 164h18.5v6.5h-18.5zM226 170h6.5v6.5h-6.5zM406 170h12.5v6.5h-12.5zM358 176h6.5v6.5h-6.5zM400 176h6.5v6.5h-6.5zM370 182h6.5v6.5h-6.5zM388 182h6.5v6.5h-6.5z"/>
<path fill="#f7f0a9" d="M658 62h6.5v6.5h-6.5zM652 68h12.5v6.5h-12.5zM280 74h24.5v6.5h-24.5zM646 74h12.5v6.5h-12.5zM268 80h6.5v6.5h-6.5zM298 80h6.5v6.5h-6.5zM520 80h42.5v6.5h-42.5zM586 80h30.5v6.5h-30.5zM634 80h12.5v6.5h-12.5zM256 86h6.5v6.5h-6.5zM298 86h6.5v6.5h-6.5zM508 86h90.5v6.5h-90.5zM622 86h12.5v6.5h-12.5zM250 92h12.5v6.5h-12.5zM298 92h6.5v6.5h-6.5zM502 92h18.5v6.5h-18.5zM532 92h18.5v6.5h-18.5zM250 98h12.5v6.5h-12.5zM298 98h6.5v6.5h-6.5zM496 98h24.5v6.5h-24.5zM250 104h12.5v6.5h-12.5zM496 104h30.5v6.5h-30.5zM244 110h12.5v6.5h-12.5zM310 110h6.5v6.5h-6.5zM490 110h36.5v6.5h-36.5zM238 116h6.5v6.5h-6.5zM322 116h6.5v6.5h-6.5zM490 116h30.5v6.5h-30.5zM232 122h6.5v6.5h-6.5zM328 122h6.5v6.5h-6.5zM484 122h24.5v6.5h-24.5zM226 128h12.5v6.5h-12.5zM478 128h18.5v6.5h-18.5zM226 134h6.5v6.5h-6.5zM334 134h6.5v6.5h-6.5zM472 134h18.5v6.5h-18.5zM226 140h6.5v6.5h-6.5zM340 140h6.5v6.5h-6.5zM466 140h12.5v6.5h-12.5zM226 146h6.5v6.5h-6.5zM340 146h6.5v6.5h-6.5zM460 146h6.5v6.5h-6.5zM226 152h6.5v6.5h-6.5zM346 152h6.5v6.5h-6.5zM454 152h6.5v6.5h-6.5zM226 158h12.5v6.5h-12.5zM226 164h18.5v6.5h-18.5zM352 164h6.5v6.5h-6.5zM442 164h12.5v6.5h-12.5zM232 170h12.5v6.5h-12.5zM418 170h12.5v6.5h-12.5zM226 176h18.5v6.5h-18.5zM406 176h6.5v6.5h-6.5zM226 182h18.5v6.5h-18.5zM364 182h6.5v6.5h-6.5zM394 182h6.5v6.5h-6.5zM226 188h12.5v6.5h-12.5zM376 188h12.5v6.5h-12.5zM226 194h6.5v6.5h-6.5zM226 200h6.5v6.5h-6.5z"/>
<path fill="#fdf0a6" d="M658 74h6.5v6.5h-6.5zM274 80h6.5v6.5h-6.5zM292 80h6.5v6.5h-6.5zM646 80h12.5v6.5h-12.5zM262 86h6.5v6.5h-6.5zM292 86h6.5v6.5h-6.5zM598 86h24.5v6.5h-24.5zM634 86h12.5v6.5h-12.5zM262 92h6.5v6.5h-6.5zM520 92h12.5v6.5h-12.5zM550 92h48.5v6.5h-48.5zM262 98h6.5v6.5h-6.5zM520 98h60.5v6.5h-60.5zM262 104h6.5v6.5h-6.5zM298 104h6.5v6.5h-6.5zM526 104h24.5v6.5h-24.5zM256 110h6.5v6.5h-6.5zM304 110h6.5v6.5h-6.5zM526 110h18.5v6.5h-18.5zM244 116h12.5v6.5h-12.5zM316 116h6.5v6.5h-6.5zM520 116h18.5v6.5h-18.5zM238 122h6.5v6.5h-6.5zM508 122h30.5v6.5h-30.5zM238 128h6.5v6.5h-6.5zM328 128h6.5v6.5h-6.5zM496 128h36.5v6.5h-36.5zM232 134h6.5v6.5h-6.5zM490 134h18.5v6.5h-18.5zM232 140h6.5v6.5h-6.5zM334 140h6.5v6.5h-6.5zM478 140h18.5v6.5h-18.5zM232 146h6.5v6.5h-6.5zM334 146h6.5v6.5h-6.5zM466 146h12.5v6.5h-12.5zM232 152h6.5v6.5h-6.5zM340 152h6.5v6.5h-6.5zM460 152h6.5v6.5h-6.5zM238 158h6.5v6.5h-6.5zM346 158h6.5v6.5h-6.5zM454 158h6.5v6.5h-6.5zM244 164h6.5v6.5h-6.5zM244 170h6.5v6.5h-6.5zM352 170h6.5v6.5h-6.5zM430 170h18.5v6.5h-18.5zM244 176h6.5v6.5h-6.5zM352 176h6.5v6.5h-6.5zM412 176h6.5v6.5h-6.5zM244 182h6.5v6.5h-6.5zM358 182h6.5v6.5h-6.5zM400 182h6.5v6.5h-6.5zM238 188h12.5v6.5h-12.5zM364 188h12.5v6.5h-12.5zM388 188h6.5v6.5h-6.5zM232 194h12.5v6.5h-12.5zM232 200h12.5v6.5h-12.5zM226 206h12.5v6.5h-12.5zM226 212h6.5v6.5h-6.5z"/>
<path fill="#fdeaa2" d="M286 80h6.5v6.5h-6.5zM658 80h6.5v6.5h-6.5zM268 86h12.5v6.5h-12.5zM286 86h6.5v6.5h-6.5zM646 86h12.5v6.5h-12.5zM268 92h6.5v6.5h-6.5zM286 92h12.5v6.5h-12.5zM598 92h24.5v6.5h-24.5zM268 98h6.5v6.5h-6.5zM292 98h6.5v6.5h-6.5zM580 98h18.5v6.5h-18.5zM268 104h6.5v6.5h-6.5zM292 104h6.5v6.5h-6.5zM550 104h42.5v6.5h-42.5zM262 110h6.5v6.5h-6.5zM544 110h12.5v6.5h-12.5zM256 116h6.5v6.5h-6.5zM310 116h6.5v6.5h-6.5zM538 116h12.5v6.5h-12.5zM244 122h6.5v6.5h-6.5zM322 122h6.5v6.5h-6.5zM538 122h6.5v6.5h-6.5zM244 128h6.5v6.5h-6.5zM532 128h6.5v6.5h-6.5zM238 134h6.5v6.5h-6.5zM328 134h6.5v6.5h-6.5zM508 134h30.5v6.5h-30.5zM238 140h6.5v6.5h-6.5zM328 140h6.5v6.5h-6.5zM496 140h18.5v6.5h-18.5zM238 146h6.5v6.5h-6.5zM478 146h18.5v6.5h-18.5zM238 152h6.5v6.5h-6.5zM334 152h6.5v6.5h-6.5zM466 152h12.5v6.5h-12.5zM340 158h6.5v6.5h-6.5zM460 158h6.5v6.5h-6.5zM454 164h6.5v6.5h-6.5zM448 170h6.5v6.5h-6.5zM418 176h6.5v6.5h-6.5zM250 182h6.5v6.5h-6.5zM352 182h6.5v6.5h-6.5zM406 182h6.5v6.5h-6.5zM358 188h6.5v6.5h-6.5zM394 188h6.5v6.5h-6.5zM244 194h6.5v6.5h-6.5zM370 194h18.5v6.5h-18.5zM244 200h6.5v6.5h-6.5zM238 206h12.5v6.5h-12.5zM232 212h12.5v6.5h-12.5zM226 218h18.5v6.5h-18.5zM226 224h12.5v6.5h-12.5zM226 230h6.5v6.5h-6.5z"/>
<path fill="#fee39e" d="M280 80h6.5v6.5h-6.5zM280 86h6.5v6.5h-6.5zM658 86h6.5v6.5h-6.5zM274 92h12.5v6.5h-12.5zM622 92h36.5v6.5h-36.5zM274 98h18.5v6.5h-18.5zM598 98h12.5v6.5h-12.5zM274 104h18.5v6.5h-18.5zM592 104h6.5v6.5h-6.5zM268 110h6.5v6.5h-6.5zM292 110h12.5v6.5h-12.5zM556 110h36.5v6.5h-36.5zM262 116h6.5v6.5h-6.5zM304 116h6.5v6.5h-6.5zM550 116h6.5v6.5h-6.5zM250 122h12.5v6.5h-12.5zM316 122h6.5v6.5h-6.5zM544 122h6.5v6.5h-6.5zM322 128h6.5v6.5h-6.5zM538 128h6.5v6.5h-6.5zM244 134h6.5v6.5h-6.5zM322 134h6.5v6.5h-6.5zM514 140h18.5v6.5h-18.5zM328 146h6.5v6.5h-6.5zM496 146h12.5v6.5h-12.5zM328 152h6.5v6.5h-6.5zM478 152h18.5v6.5h-18.5zM244 158h6.5v6.5h-6.5zM334 158h6.5v6.5h-6.5zM466 158h6.5v6.5h-6.5zM340 164h12.5v6.5h-12.5zM460 164h6.5v6.5h-6.5zM454 170h6.5v6.5h-6.5zM346 176h6.5v6.5h-6.5zM424 176h6.5v6.5h-6.5zM346 182h6.5v6.5h-6.5zM250 188h6.5v6.5h-6.5zM352 188h6.5v6.5h-6.5zM400 188h6.5v6.5h-6.5zM250 194h6.5v6.5h-6.5zM358 194h12.5v6.5h-12.5zM388 194h6.5v6.5h-6.5zM250 200h6.5v6.5h-6.5zM376 200h12.5v6.5h-12.5zM250 206h6.5v6.5h-6.5zM244 212h12.5v6.5h-12.5zM244 218h6.5v6.5h-6.5zM238 224h12.5v6.5h-12.5zM232 230h12.5v6.5h-12.5zM226 236h12.5v6.5h-12.5zM226 242h12.5v6.5h-12.5zM226 248h6.5v6.5h-6.5z"/>
<path fill="#fedc9a" d="M658 92h6.5v6.5h-6.5zM610 98h6.5v6.5h-6.5zM598 104h6.5v6.5h-6.5zM274 110h18.5v6.5h-18.5zM592 110h6.5v6.5h-6.5zM268 116h6.5v6.5h-6.5zM298 116h6.5v6.5h-6.5zM556 116h18.5v6.5h-18.5zM262 122h6.5v6.5h-6.5zM304 122h12.5v6.5h-12.5zM550 122h6.5v6.5h-6.5zM250 128h6.5v6.5h-6.5zM544 128h6.5v6.5h-6.5zM316 134h6.5v6.5h-6.5zM538 134h6.5v6.5h-6.5zM244 140h6.5v6.5h-6.5zM316 140h12.5v6.5h-12.5zM532 140h6.5v6.5h-6.5zM244 146h6.5v6.5h-6.5zM316 146h12.5v6.5h-12.5zM508 146h12.5v6.5h-12.5zM244 152h6.5v6.5h-6.5zM268 152h24.5v6.5h-24.5zM316 152h12.5v6.5h-12.5zM496 152h12.5v6.5h-12.5zM268 158h30.5v6.5h-30.5zM316 158h18.5v6.5h-18.5zM472 158h18.5v6.5h-18.5zM250 164h6.5v6.5h-6.5zM262 164h12.5v6.5h-12.5zM316 164h24.5v6.5h-24.5zM466 164h6.5v6.5h-6.5zM250 170h6.5v6.5h-6.5zM322 170h30.5v6.5h-30.5zM250 176h6.5v6.5h-6.5zM322 176h24.5v6.5h-24.5zM430 176h18.5v6.5h-18.5zM328 182h18.5v6.5h-18.5zM412 182h6.5v6.5h-6.5zM328 188h24.5v6.5h-24.5zM340 194h18.5v6.5h-18.5zM394 194h6.5v6.5h-6.5zM256 200h6.5v6.5h-6.5zM358 200h18.5v6.5h-18.5zM256 206h6.5v6.5h-6.5zM256 212h6.5v6.5h-6.5zM250 218h12.5v6.5h-12.5zM250 224h12.5v6.5h-12.5zM244 230h12.5v6.5h-12.5zM238 236h12.5v6.5h-12.5zM238 242h12.5v6.5h-12.5zM232 248h12.5v6.5h-12.5zM226 254h12.5v6.5h-12.5zM226 260h6.5v6.5h-6.5z"/>
<path fill="#fed696" d="M616 98h6.5v6.5h-6.5zM634 98h30.5v6.5h-30.5zM604 104h6.5v6.5h-6.5zM598 110h6.5v6.5h-6.5zM274 116h24.5v6.5h-24.5zM574 116h18.5v6.5h-18.5zM268 122h36.5v6.5h-36.5zM556 122h6.5v6.5h-6.5zM256 128h18.5v6.5h-18.5zM280 128h42.5v6.5h-42.5zM550 128h6.5v6.5h-6.5zM250 134h66.5v6.5h-66.5zM544 134h6.5v6.5h-6.5zM250 140h66.5v6.5h-66.5zM538 140h6.5v6.5h-6.5zM250 146h6.5v6.5h-6.5zM262 146h54.5v6.5h-54.5zM520 146h12.5v6.5h-12.5zM262 152h6.5v6.5h-6.5zM292 152h24.5v6.5h-24.5zM508 152h6.5v6.5h-6.5zM262 158h6.5v6.5h-6.5zM298 158h18.5v6.5h-18.5zM490 158h12.5v6.5h-12.5zM256 164h6.5v6.5h-6.5zM274 164h42.5v6.5h-42.5zM472 164h6.5v6.5h-6.5zM292 170h30.5v6.5h-30.5zM460 170h6.5v6.5h-6.5zM304 176h18.5v6.5h-18.5zM448 176h6.5v6.5h-6.5zM310 182h18.5v6.5h-18.5zM418 182h6.5v6.5h-6.5zM256 188h6.5v6.5h-6.5zM316 188h12.5v6.5h-12.5zM406 188h6.5v6.5h-6.5zM256 194h6.5v6.5h-6.5zM322 194h18.5v6.5h-18.5zM400 194h6.5v6.5h-6.5zM322 200h36.5v6.5h-36.5zM388 200h6.5v6.5h-6.5zM262 206h6.5v6.5h-6.5zM346 206h12.5v6.5h-12.5zM364 206h24.5v6.5h-24.5zM262 212h6.5v6.5h-6.5zM262 218h12.5v6.5h-12.5zM262 224h6.5v6.5h-6.5zM256 230h12.5v6.5h-12.5zM250 236h12.5v6.5h-12.5zM250 242h12.5v6.5h-12.5zM244 248h12.5v6.5h-12.5zM238 254h12.5v6.5h-12.5zM232 260h18.5v6.5h-18.5zM226 266h18.5v6.5h-18.5zM226 272h12.5v6.5h-12.5zM226 278h12.5v6.5h-12.5zM226 284h6.5v6.5h-6.5z"/>
<path fill="#fece8b" d="M622 98h12.5v6.5h-12.5zM610 104h6.5v6.5h-6.5zM646 104h18.5v6.5h-18.5zM604 110h6.5v6.5h-6.5zM592 116h12.5v6.5h-12.5zM562 122h18.5v6.5h-18.5zM274 128h6.5v6.5h-6.5zM556 128h6.5v6.5h-6.5zM550 134h6.5v6.5h-6.5zM544 140h6.5v6.5h-6.5zM256 146h6.5v6.5h-6.5zM532 146h6.5v6.5h-6.5zM250 152h12.5v6.5h-12.5zM514 152h12.5v6.5h-12.5zM250 158h12.5v6.5h-12.5zM502 158h6.5v6.5h-6.5zM478 164h18.5v6.5h-18.5zM274 170h18.5v6.5h-18.5zM466 170h6.5v6.5h-6.5zM292 176h12.5v6.5h-12.5zM454 176h6.5v6.5h-6.5zM256 182h6.5v6.5h-6.5zM298 182h12.5v6.5h-12.5zM424 182h6.5v6.5h-6.5zM310 188h6.5v6.5h-6.5zM412 188h6.5v6.5h-6.5zM316 194h6.5v6.5h-6.5zM262 200h6.5v6.5h-6.5zM394 200h6.5v6.5h-6.5zM334 206h12.5v6.5h-12.5zM358 206h6.5v6.5h-6.5zM388 206h6.5v6.5h-6.5zM268 212h6.5v6.5h-6.5zM346 212h36.5v6.5h-36.5zM274 218h6.5v6.5h-6.5zM268 224h6.5v6.5h-6.5zM268 230h6.5v6.5h-6.5zM262 236h6.5v6.5h-6.5zM262 242h6.5v6.5h-6.5zM256 248h12.5v6.5h-12.5zM250 254h12.5v6.5h-12.5zM250 260h12.5v6.5h-12.5zM244 266h12.5v6.5h-12.5zM238 272h18.5v6.5h-18.5zM238 278h12.5v6.5h-12.5zM232 284h12.5v6.5h-12.5zM226 290h18.5v6.5h-18.5zM226 296h12.5v6.5h-12.5zM226 302h6.5v6.5h-6.5zM226 308h6.5v6.5h-6.5z"/>
<path fill="#fec680" d="M616 104h6.5v6.5h-6.5zM634 104h12.5v6.5h-12.5zM610 110h6.5v6.5h-6.5zM652 110h12.5v6.5h-12.5zM604 116h6.5v6.5h-6.5zM580 122h12.5v6.5h-12.5zM562 128h12.5v6.5h-12.5zM556 134h6.5v6.5h-6.5zM538 146h6.5v6.5h-6.5zM526 152h6.5v6.5h-6.5zM508 158h12.5v6.5h-12.5zM496 164h12.5v6.5h-12.5zM256 170h6.5v6.5h-6.5zM268 170h6.5v6.5h-6.5zM472 170h12.5v6.5h-12.5zM286 176h6.5v6.5h-6.5zM460 176h6.5v6.5h-6.5zM292 182h6.5v6.5h-6.5zM430 182h12.5v6.5h-12.5zM298 188h12.5v6.5h-12.5zM262 194h6.5v6.5h-6.5zM310 194h6.5v6.5h-6.5zM406 194h6.5v6.5h-6.5zM316 200h6.5v6.5h-6.5zM400 200h6.5v6.5h-6.5zM268 206h6.5v6.5h-6.5zM328 206h6.5v6.5h-6.5zM274 212h6.5v6.5h-6.5zM334 212h12.5v6.5h-12.5zM382 212h6.5v6.5h-6.5zM346 218h36.5v6.5h-36.5zM274 224h6.5v6.5h-6.5zM274 230h6.5v6.5h-6.5zM268 236h6.5v6.5h-6.5zM268 242h6.5v6.5h-6.5zM268 248h6.5v6.5h-6.5zM262 254h12.5v6.5h-12.5zM262 260h6.5v6.5h-6.5zM256 266h12.5v6.5h-12.5zM256 272h12.5v6.5h-12.5zM250 278h12.5v6.5h-12.5zM244 284h18.5v6.5h-18.5zM244 290h12.5v6.5h-12.5zM238 296h18.5v6.5h-18.5zM232 302h18.5v6.5h-18.5zM232 308h18.5v6.5h-18.5z"/>
<path fill="#fdbd75" d="M628 104h6.5v6.5h-6.5zM640 110h12.5v6.5h-12.5zM652 116h12.5v6.5h-12.5zM592 122h12.5v6.5h-12.5zM574 128h12.5v6.5h-12.5zM562 134h6.5v6.5h-6.5zM550 140h6.5v6.5h-6.5zM544 146h6.5v6.5h-6.5zM532 152h12.5v6.5h-12.5zM520 158h6.5v6.5h-6.5zM508 164h6.5v6.5h-6.5zM262 170h6.5v6.5h-6.5zM484 170h18.5v6.5h-18.5zM256 176h6.5v6.5h-6.5zM274 176h12.5v6.5h-12.5zM466 176h6.5v6.5h-6.5zM286 182h6.5v6.5h-6.5zM442 182h12.5v6.5h-12.5zM262 188h6.5v6.5h-6.5zM292 188h6.5v6.5h-6.5zM418 188h6.5v6.5h-6.5zM304 194h6.5v6.5h-6.5zM268 200h6.5v6.5h-6.5zM322 206h6.5v6.5h-6.5zM394 206h6.5v6.5h-6.5zM388 212h6.5v6.5h-6.5zM334 218h12.5v6.5h-12.5zM382 218h6.5v6.5h-6.5zM340 224h42.5v6.5h-42.5zM274 236h6.5v6.5h-6.5zM274 242h6.5v6.5h-6.5zM274 248h6.5v6.5h-6.5zM274 254h6.5v6.5h-6.5zM268 260h12.5v6.5h-12.5zM268 266h12.5v6.5h-12.5zM268 272h6.5v6.5h-6.5zM262 278h12.5v6.5h-12.5zM262 284h12.5v6.5h-12.5zM256 290h18.5v6.5h-18.5zM256 296h12.5v6.5h-12.5zM250 302h18.5v6.5h-18.5zM250 308h12.5v6.5h-12.5z"/>
<path fill="#fdb56a" d="M622 104h6.5v6.5h-6.5zM616 110h6.5v6.5h-6.5zM628 110h12.5v6.5h-12.5zM610 116h6.5v6.5h-6.5zM640 116h12.5v6.5h-12.5zM604 122h6.5v6.5h-6.5zM652 122h12.5v6.5h-12.5zM586 128h6.5v6.5h-6.5zM568 134h6.5v6.5h-6.5zM556 140h6.5v6.5h-6.5zM550 146h6.5v6.5h-6.5zM544 152h6.5v6.5h-6.5zM526 158h12.5v6.5h-12.5zM514 164h6.5v6.5h-6.5zM502 170h6.5v6.5h-6.5zM268 176h6.5v6.5h-6.5zM472 176h24.5v6.5h-24.5zM262 182h6.5v6.5h-6.5zM274 182h12.5v6.5h-12.5zM454 182h6.5v6.5h-6.5zM268 188h6.5v6.5h-6.5zM268 194h6.5v6.5h-6.5zM298 194h6.5v6.5h-6.5zM412 194h6.5v6.5h-6.5zM310 200h6.5v6.5h-6.5zM406 200h6.5v6.5h-6.5zM274 206h6.5v6.5h-6.5zM316 206h6.5v6.5h-6.5zM400 206h6.5v6.5h-6.5zM328 212h6.5v6.5h-6.5zM394 212h6.5v6.5h-6.5zM280 218h6.5v6.5h-6.5zM388 218h6.5v6.5h-6.5zM280 224h6.5v6.5h-6.5zM334 224h6.5v6.5h-6.5zM382 224h6.5v6.5h-6.5zM280 230h6.5v6.5h-6.5zM334 230h48.5v6.5h-48.5zM280 236h6.5v6.5h-6.5zM280 242h6.5v6.5h-6.5zM280 248h6.5v6.5h-6.5zM280 254h12.5v6.5h-12.5zM280 260h12.5v6.5h-12.5zM280 266h12.5v6.5h-12.5zM274 272h12.5v6.5h-12.5zM274 278h12.5v6.5h-12.5zM274 284h12.5v6.5h-12.5zM274 290h12.5v6.5h-12.5zM268 296h18.5v6.5h-18.5zM268 302h12.5v6.5h-12.5zM262 308h18.5v6.5h-18.5z"/>
<path fill="#faa963" d="M622 110h6.5v6.5h-6.5zM616 116h6.5v6.5h-6.5zM628 116h12.5v6.5h-12.5zM634 122h18.5v6.5h-18.5zM592 128h12.5v6.5h-12.5zM646 128h18.5v6.5h-18.5zM574 134h12.5v6.5h-12.5zM562 140h12.5v6.5h-12.5zM556 146h6.5v6.5h-6.5zM550 152h6.5v6.5h-6.5zM538 158h12.5v6.5h-12.5zM520 164h18.5v6.5h-18.5zM508 170h12.5v6.5h-12.5zM496 176h12.5v6.5h-12.5zM268 182h6.5v6.5h-6.5zM460 182h6.5v6.5h-6.5zM274 188h18.5v6.5h-18.5zM424 188h6.5v6.5h-6.5zM292 194h6.5v6.5h-6.5zM304 200h6.5v6.5h-6.5zM406 206h6.5v6.5h-6.5zM280 212h6.5v6.5h-6.5zM322 212h6.5v6.5h-6.5zM400 212h6.5v6.5h-6.5zM328 218h6.5v6.5h-6.5zM394 218h6.5v6.5h-6.5zM286 224h6.5v6.5h-6.5zM328 224h6.5v6.5h-6.5zM388 224h6.5v6.5h-6.5zM286 230h6.5v6.5h-6.5zM328 230h6.5v6.5h-6.5zM382 230h12.5v6.5h-12.5zM286 236h6.5v6.5h-6.5zM328 236h60.5v6.5h-60.5zM286 242h12.5v6.5h-12.5zM334 242h24.5v6.5h-24.5zM370 242h6.5v6.5h-6.5zM286 248h12.5v6.5h-12.5zM292 254h6.5v6.5h-6.5zM292 260h12.5v6.5h-12.5zM292 266h12.5v6.5h-12.5zM286 272h18.5v6.5h-18.5zM286 278h18.5v6.5h-18.5zM286 284h18.5v6.5h-18.5zM286 290h18.5v6.5h-18.5zM286 296h12.5v6.5h-12.5zM280 302h18.5v6.5h-18.5zM280 308h18.5v6.5h-18.5z"/>
<path fill="#f89d5c" d="M622 116h6.5v6.5h-6.5zM610 122h6.5v6.5h-6.5zM628 122h6.5v6.5h-6.5zM628 128h18.5v6.5h-18.5zM586 134h6.5v6.5h-6.5zM646 134h18.5v6.5h-18.5zM574 140h6.5v6.5h-6.5zM658 140h6.5v6.5h-6.5zM562 146h6.5v6.5h-6.5zM556 152h6.5v6.5h-6.5zM550 158h6.5v6.5h-6.5zM538 164h12.5v6.5h-12.5zM520 170h18.5v6.5h-18.5zM262 176h6.5v6.5h-6.5zM508 176h12.5v6.5h-12.5zM466 182h42.5v6.5h-42.5zM436 188h24.5v6.5h-24.5zM544 188h6.5v6.5h-6.5zM274 194h6.5v6.5h-6.5zM286 194h6.5v6.5h-6.5zM418 194h6.5v6.5h-6.5zM538 194h18.5v6.5h-18.5zM274 200h6.5v6.5h-6.5zM298 200h6.5v6.5h-6.5zM412 200h6.5v6.5h-6.5zM538 200h12.5v6.5h-12.5zM280 206h6.5v6.5h-6.5zM310 206h6.5v6.5h-6.5zM532 206h12.5v6.5h-12.5zM406 212h6.5v6.5h-6.5zM286 218h6.5v6.5h-6.5zM322 218h6.5v6.5h-6.5zM400 218h6.5v6.5h-6.5zM322 224h6.5v6.5h-6.5zM394 224h12.5v6.5h-12.5zM292 230h6.5v6.5h-6.5zM322 230h6.5v6.5h-6.5zM394 230h6.5v6.5h-6.5zM292 236h12.5v6.5h-12.5zM322 236h6.5v6.5h-6.5zM388 236h12.5v6.5h-12.5zM298 242h12.5v6.5h-12.5zM316 242h18.5v6.5h-18.5zM358 242h12.5v6.5h-12.5zM376 242h24.5v6.5h-24.5zM298 248h96.5v6.5h-96.5zM298 254h90.5v6.5h-90.5zM304 260h60.5v6.5h-60.5zM304 266h36.5v6.5h-36.5zM304 272h30.5v6.5h-30.5zM304 278h24.5v6.5h-24.5zM304 284h18.5v6.5h-18.5zM304 290h18.5v6.5h-18.5zM298 296h24.5v6.5h-24.5zM298 302h24.5v6.5h-24.5zM298 308h18.5v6.5h-18.5z"/>
<path fill="#f69155" d="M616 122h12.5v6.5h-12.5zM604 128h6.5v6.5h-6.5zM622 128h6.5v6.5h-6.5zM592 134h6.5v6.5h-6.5zM628 134h18.5v6.5h-18.5zM580 140h6.5v6.5h-6.5zM640 140h18.5v6.5h-18.5zM568 146h6.5v6.5h-6.5zM652 146h12.5v6.5h-12.5zM562 152h6.5v6.5h-6.5zM556 158h6.5v6.5h-6.5zM550 164h12.5v6.5h-12.5zM538 170h18.5v6.5h-18.5zM520 176h36.5v6.5h-36.5zM508 182h48.5v6.5h-48.5zM430 188h6.5v6.5h-6.5zM460 188h6.5v6.5h-6.5zM472 188h72.5v6.5h-72.5zM550 188h6.5v6.5h-6.5zM280 194h6.5v6.5h-6.5zM490 194h18.5v6.5h-18.5zM520 194h18.5v6.5h-18.5zM286 200h12.5v6.5h-12.5zM418 200h6.5v6.5h-6.5zM514 200h24.5v6.5h-24.5zM550 200h6.5v6.5h-6.5zM298 206h12.5v6.5h-12.5zM412 206h6.5v6.5h-6.5zM514 206h18.5v6.5h-18.5zM544 206h6.5v6.5h-6.5zM286 212h6.5v6.5h-6.5zM316 212h6.5v6.5h-6.5zM514 212h36.5v6.5h-36.5zM406 218h6.5v6.5h-6.5zM514 218h30.5v6.5h-30.5zM292 224h6.5v6.5h-6.5zM316 224h6.5v6.5h-6.5zM406 224h6.5v6.5h-6.5zM520 224h18.5v6.5h-18.5zM298 230h24.5v6.5h-24.5zM400 230h6.5v6.5h-6.5zM304 236h18.5v6.5h-18.5zM400 236h6.5v6.5h-6.5zM310 242h6.5v6.5h-6.5zM400 242h6.5v6.5h-6.5zM394 248h12.5v6.5h-12.5zM388 254h12.5v6.5h-12.5zM364 260h30.5v6.5h-30.5zM340 266h48.5v6.5h-48.5zM334 272h42.5v6.5h-42.5zM328 278h36.5v6.5h-36.5zM322 284h36.5v6.5h-36.5zM322 290h30.5v6.5h-30.5zM322 296h24.5v6.5h-24.5zM322 302h24.5v6.5h-24.5zM316 308h24.5v6.5h-24.5z"/>
<path fill="#f3854e" d="M610 128h12.5v6.5h-12.5zM598 134h6.5v6.5h-6.5zM622 134h6.5v6.5h-6.5zM586 140h6.5v6.5h-6.5zM628 140h12.5v6.5h-12.5zM574 146h6.5v6.5h-6.5zM640 146h12.5v6.5h-12.5zM568 152h6.5v6.5h-6.5zM646 152h18.5v6.5h-18.5zM562 158h6.5v6.5h-6.5zM652 158h12.5v6.5h-12.5zM562 164h6.5v6.5h-6.5zM556 170h6.5v6.5h-6.5zM556 176h6.5v6.5h-6.5zM556 182h6.5v6.5h-6.5zM466 188h6.5v6.5h-6.5zM556 188h6.5v6.5h-6.5zM424 194h6.5v6.5h-6.5zM448 194h42.5v6.5h-42.5zM508 194h12.5v6.5h-12.5zM556 194h6.5v6.5h-6.5zM280 200h6.5v6.5h-6.5zM478 200h36.5v6.5h-36.5zM556 200h6.5v6.5h-6.5zM286 206h12.5v6.5h-12.5zM418 206h6.5v6.5h-6.5zM484 206h30.5v6.5h-30.5zM550 206h6.5v6.5h-6.5zM298 212h18.5v6.5h-18.5zM412 212h6.5v6.5h-6.5zM484 212h30.5v6.5h-30.5zM550 212h6.5v6.5h-6.5zM292 218h30.5v6.5h-30.5zM412 218h6.5v6.5h-6.5zM484 218h30.5v6.5h-30.5zM544 218h6.5v6.5h-6.5zM298 224h18.5v6.5h-18.5zM412 224h6.5v6.5h-6.5zM484 224h36.5v6.5h-36.5zM538 224h12.5v6.5h-12.5zM406 230h12.5v6.5h-12.5zM484 230h66.5v6.5h-66.5zM406 236h12.5v6.5h-12.5zM478 236h72.5v6.5h-72.5zM406 242h6.5v6.5h-6.5zM478 242h78.5v6.5h-78.5zM406 248h6.5v6.5h-6.5zM478 248h78.5v6.5h-78.5zM400 254h6.5v6.5h-6.5zM478 254h78.5v6.5h-78.5zM394 260h6.5v6.5h-6.5zM484 260h66.5v6.5h-66.5zM388 266h6.5v6.5h-6.5zM484 266h60.5v6.5h-60.5zM376 272h12.5v6.5h-12.5zM490 272h54.5v6.5h-54.5zM364 278h24.5v6.5h-24.5zM502 278h36.5v6.5h-36.5zM358 284h24.5v6.5h-24.5zM520 284h6.5v6.5h-6.5zM568 284h12.5v6.5h-12.5zM352 290h24.5v6.5h-24.5zM562 290h24.5v6.5h-24.5zM346 296h24.5v6.5h-24.5zM562 296h24.5v6.5h-24.5zM346 302h24.5v6.5h-24.5zM568 302h12.5v6.5h-12.5zM340 308h24.5v6.5h-24.5z"/>
<path fill="#f07848" d="M604 134h18.5v6.5h-18.5zM592 140h6.5v6.5h-6.5zM622 140h6.5v6.5h-6.5zM580 146h6.5v6.5h-6.5zM628 146h12.5v6.5h-12.5zM574 152h6.5v6.5h-6.5zM634 152h12.5v6.5h-12.5zM568 158h6.5v6.5h-6.5zM640 158h12.5v6.5h-12.5zM646 164h18.5v6.5h-18.5zM562 170h6.5v6.5h-6.5zM652 170h12.5v6.5h-12.5zM562 176h6.5v6.5h-6.5zM658 176h6.5v6.5h-6.5zM562 182h6.5v6.5h-6.5zM658 182h6.5v6.5h-6.5zM562 188h6.5v6.5h-6.5zM430 194h18.5v6.5h-18.5zM562 194h6.5v6.5h-6.5zM424 200h6.5v6.5h-6.5zM454 200h24.5v6.5h-24.5zM562 200h6.5v6.5h-6.5zM460 206h24.5v6.5h-24.5zM556 206h6.5v6.5h-6.5zM292 212h6.5v6.5h-6.5zM418 212h6.5v6.5h-6.5zM460 212h24.5v6.5h-24.5zM556 212h6.5v6.5h-6.5zM418 218h6.5v6.5h-6.5zM466 218h18.5v6.5h-18.5zM550 218h12.5v6.5h-12.5zM418 224h6.5v6.5h-6.5zM466 224h18.5v6.5h-18.5zM550 224h12.5v6.5h-12.5zM418 230h6.5v6.5h-6.5zM466 230h18.5v6.5h-18.5zM550 230h18.5v6.5h-18.5zM418 236h6.5v6.5h-6.5zM466 236h12.5v6.5h-12.5zM550 236h18.5v6.5h-18.5zM412 242h12.5v6.5h-12.5zM466 242h12.5v6.5h-12.5zM556 242h18.5v6.5h-18.5zM412 248h6.5v6.5h-6.5zM472 248h6.5v6.5h-6.5zM556 248h24.5v6.5h-24.5zM406 254h12.5v6.5h-12.5zM472 254h6.5v6.5h-6.5zM556 254h30.5v6.5h-30.5zM400 260h12.5v6.5h-12.5zM472 260h12.5v6.5h-12.5zM550 260h42.5v6.5h-42.5zM394 266h12.5v6.5h-12.5zM472 266h12.5v6.5h-12.5zM544 266h60.5v6.5h-60.5zM388 272h12.5v6.5h-12.5zM472 272h18.5v6.5h-18.5zM544 272h66.5v6.5h-66.5zM388 278h6.5v6.5h-6.5zM472 278h30.5v6.5h-30.5zM538 278h78.5v6.5h-78.5zM382 284h12.5v6.5h-12.5zM472 284h48.5v6.5h-48.5zM526 284h42.5v6.5h-42.5zM580 284h42.5v6.5h-42.5zM376 290h18.5v6.5h-18.5zM478 290h84.5v6.5h-84.5zM586 290h42.5v6.5h-42.5zM370 296h18.5v6.5h-18.5zM478 296h84.5v6.5h-84.5zM586 296h42.5v6.5h-42.5zM370 302h18.5v6.5h-18.5zM484 302h84.5v6.5h-84.5zM580 302h54.5v6.5h-54.5zM364 308h24.5v6.5h-24.5zM490 308h144.5v6.5h-144.5z"/>
<path fill="#ec6a42" d="M598 140h24.5v6.5h-24.5zM586 146h6.5v6.5h-6.5zM616 146h12.5v6.5h-12.5zM580 152h6.5v6.5h-6.5zM622 152h12.5v6.5h-12.5zM574 158h6.5v6.5h-6.5zM628 158h12.5v6.5h-12.5zM568 164h6.5v6.5h-6.5zM634 164h12.5v6.5h-12.5zM568 170h6.5v6.5h-6.5zM640 170h12.5v6.5h-12.5zM568 176h6.5v6.5h-6.5zM640 176h18.5v6.5h-18.5zM568 182h6.5v6.5h-6.5zM646 182h12.5v6.5h-12.5zM568 188h6.5v6.5h-6.5zM646 188h18.5v6.5h-18.5zM568 194h6.5v6.5h-6.5zM646 194h18.5v6.5h-18.5zM430 200h24.5v6.5h-24.5zM568 200h6.5v6.5h-6.5zM646 200h18.5v6.5h-18.5zM424 206h6.5v6.5h-6.5zM448 206h12.5v6.5h-12.5zM562 206h12.5v6.5h-12.5zM652 206h12.5v6.5h-12.5zM424 212h6.5v6.5h-6.5zM448 212h12.5v6.5h-12.5zM562 212h18.5v6.5h-18.5zM652 212h12.5v6.5h-12.5zM424 218h12.5v6.5h-12.5zM454 218h12.5v6.5h-12.5zM562 218h18.5v6.5h-18.5zM646 218h18.5v6.5h-18.5zM424 224h12.5v6.5h-12.5zM454 224h12.5v6.5h-12.5zM562 224h24.5v6.5h-24.5zM646 224h18.5v6.5h-18.5zM424 230h12.5v6.5h-12.5zM454 230h12.5v6.5h-12.5zM568 230h24.5v6.5h-24.5zM640 230h24.5v6.5h-24.5zM424 236h12.5v6.5h-12.5zM460 236h6.5v6.5h-6.5zM568 236h36.5v6.5h-36.5zM634 236h30.5v6.5h-30.5zM424 242h6.5v6.5h-6.5zM460 242h6.5v6.5h-6.5zM574 242h90.5v6.5h-90.5zM418 248h12.5v6.5h-12.5zM460 248h12.5v6.5h-12.5zM580 248h84.5v6.5h-84.5zM418 254h6.5v6.5h-6.5zM454 254h18.5v6.5h-18.5zM586 254h78.5v6.5h-78.5zM412 260h6.5v6.5h-6.5zM454 260h18.5v6.5h-18.5zM592 260h72.5v6.5h-72.5zM406 266h6.5v6.5h-6.5zM454 266h18.5v6.5h-18.5zM604 266h60.5v6.5h-60.5zM400 272h6.5v6.5h-6.5zM448 272h24.5v6.5h-24.5zM610 272h54.5v6.5h-54.5zM394 278h12.5v6.5h-12.5zM448 278h24.5v6.5h-24.5zM616 278h48.5v6.5h-48.5zM394 284h12.5v6.5h-12.5zM448 284h24.5v6.5h-24.5zM622 284h42.5v6.5h-42.5zM394 290h12.5v6.5h-12.5zM448 290h30.5v6.5h-30.5zM628 290h36.5v6.5h-36.5zM388 296h18.5v6.5h-18.5zM442 296h36.5v6.5h-36.5zM628 296h36.5v6.5h-36.5zM388 302h24.5v6.5h-24.5zM442 302h42.5v6.5h-42.5zM634 302h30.5v6.5h-30.5zM388 308h30.5v6.5h-30.5zM436 308h54.5v6.5h-54.5zM634 308h30.5v6.5h-30.5z"/>
<path fill="#e85c3b" d="M592 146h24.5v6.5h-24.5zM586 152h6.5v6.5h-6.5zM616 152h6.5v6.5h-6.5zM580 158h6.5v6.5h-6.5zM616 158h12.5v6.5h-12.5zM574 164h6.5v6.5h-6.5zM622 164h12.5v6.5h-12.5zM574 170h6.5v6.5h-6.5zM622 170h18.5v6.5h-18.5zM574 176h6.5v6.5h-6.5zM628 176h12.5v6.5h-12.5zM574 182h6.5v6.5h-6.5zM628 182h18.5v6.5h-18.5zM574 188h6.5v6.5h-6.5zM628 188h18.5v6.5h-18.5zM574 194h6.5v6.5h-6.5zM628 194h18.5v6.5h-18.5zM574 200h18.5v6.5h-18.5zM622 200h24.5v6.5h-24.5zM430 206h18.5v6.5h-18.5zM574 206h24.5v6.5h-24.5zM616 206h36.5v6.5h-36.5zM430 212h18.5v6.5h-18.5zM580 212h72.5v6.5h-72.5zM436 218h18.5v6.5h-18.5zM580 218h66.5v6.5h-66.5zM436 224h18.5v6.5h-18.5zM586 224h60.5v6.5h-60.5zM436 230h18.5v6.5h-18.5zM592 230h48.5v6.5h-48.5zM436 236h24.5v6.5h-24.5zM604 236h30.5v6.5h-30.5zM430 242h30.5v6.5h-30.5zM430 248h30.5v6.5h-30.5zM424 254h30.5v6.5h-30.5zM418 260h36.5v6.5h-36.5zM412 266h42.5v6.5h-42.5zM406 272h42.5v6.5h-42.5zM406 278h42.5v6.5h-42.5zM406 284h42.5v6.5h-42.5zM406 290h42.5v6.5h-42.5zM406 296h36.5v6.5h-36.5zM412 302h30.5v6.5h-30.5zM418 308h18.5v6.5h-18.5z"/>
<path fill="#e54f35" d="M592 152h24.5v6.5h-24.5zM586 158h12.5v6.5h-12.5zM604 158h12.5v6.5h-12.5zM580 164h12.5v6.5h-12.5zM604 164h18.5v6.5h-18.5zM580 170h12.5v6.5h-12.5zM604 170h18.5v6.5h-18.5zM580 176h48.5v6.5h-48.5zM580 182h48.5v6.5h-48.5zM580 188h48.5v6.5h-48.5zM580 194h48.5v6.5h-48.5zM592 200h30.5v6.5h-30.5zM598 206h18.5v6.5h-18.5z"/>
<path fill="#e2422f" d="M598 158h6.5v6.5h-6.5zM592 164h12.5v6.5h-12.5zM592 170h12.5v6.5h-12.5z"/>
</g>
<g filter="url(#b2)">
<ellipse cx="268" cy="64" rx="7" ry="4" fill="#a0cee4" opacity="0.75" transform="rotate(20 268 64)"/>
<ellipse cx="292" cy="61" rx="9" ry="2.5" fill="#6eafd7" opacity="0.8" transform="rotate(8 292 61)"/>
<ellipse cx="272" cy="76" rx="3" ry="8" fill="#a0cee4" opacity="0.5"/>
<ellipse cx="313" cy="74" rx="9" ry="7" fill="#a0cee4" opacity="0.45"/>
<ellipse cx="326" cy="92" rx="8" ry="10" fill="#a0cee4" opacity="0.5" transform="rotate(-20 326 92)"/>
<ellipse cx="312" cy="104" rx="9" ry="7" fill="#a0cee4" opacity="0.4"/>
<ellipse cx="344" cy="110" rx="8" ry="8" fill="#82bede" opacity="0.75"/>
<ellipse cx="352" cy="122" rx="6" ry="6" fill="#a0cee4" opacity="0.65"/>
<ellipse cx="368" cy="116" rx="3" ry="5" fill="#a0cee4" opacity="0.6" transform="rotate(-20 368 116)"/>
<ellipse cx="334" cy="80" rx="6" ry="5" fill="#a0cee4" opacity="0.4"/>
<ellipse cx="362" cy="166" rx="5" ry="10" fill="#a0d2e6" opacity="0.75"/>
<ellipse cx="352" cy="180" rx="6" ry="5" fill="#b4dce8" opacity="0.6"/>
<ellipse cx="343" cy="148" rx="6" ry="2.2" fill="#b9dee8" opacity="0.6"/>
<ellipse cx="267" cy="172" rx="2.5" ry="10" fill="#aad7d7" opacity="0.55" transform="rotate(-25 267 172)"/>
<ellipse cx="300" cy="70" rx="5" ry="3" fill="#a0cee4" opacity="0.3"/>
<ellipse cx="320" cy="82" rx="4" ry="6" fill="#a0cee4" opacity="0.35" transform="rotate(30 320 82)"/>
<ellipse cx="305" cy="92" rx="5" ry="4" fill="#a0cee4" opacity="0.3"/>
<ellipse cx="338" cy="100" rx="5" ry="4" fill="#a0cee4" opacity="0.45"/>
<ellipse cx="322" cy="112" rx="6" ry="4" fill="#a0cee4" opacity="0.35"/>
<ellipse cx="358" cy="112" rx="4" ry="4" fill="#a0cee4" opacity="0.45"/>
<ellipse cx="345" cy="128" rx="5" ry="3" fill="#a0cee4" opacity="0.45"/>
<ellipse cx="330" cy="120" rx="4" ry="3" fill="#a0cee4" opacity="0.3"/>
<ellipse cx="280" cy="66" rx="4" ry="3" fill="#a0cee4" opacity="0.4"/>
<ellipse cx="258" cy="68" rx="3" ry="4" fill="#a0cee4" opacity="0.4"/>
<ellipse cx="372" cy="158" rx="3" ry="6" fill="#96cde4" opacity="0.7"/>
<ellipse cx="380" cy="160" rx="4" ry="5" fill="#a5d4e6" opacity="0.55"/>
<ellipse cx="543" cy="200" rx="3" ry="11" fill="#fee0af" opacity="0.8" transform="rotate(28 543 200)"/>
<ellipse cx="556" cy="178" rx="3" ry="12" fill="#fed6a0" opacity="0.7" transform="rotate(30 556 178)"/>
<ellipse cx="568" cy="158" rx="3" ry="10" fill="#fdbe82" opacity="0.55" transform="rotate(32 568 158)"/>
</g>
<g opacity="0.94">
<path fill="#f8e164" d="M258,112 L269.7,112 L269.7,131 L258,131Z"/>
<path fill="#fac83e" d="M270.3,112 L281.7,112 L281.7,131 L270.3,131Z"/>
<path fill="#faac2a" d="M282.3,113 L294.1,113 L294.1,131 L282.3,131Z"/>
<path fill="#fabe46" d="M247,124 L257.4,124 L257.4,132.4 L247,132.4Z"/>
<path fill="#fab02e" d="M294.7,120.2 L307.9,120.2 L307.9,132.1 L294.7,132.1Z"/>
<path fill="#faa024" d="M276.8,132.7 L296,132.7 L296,141.8 L276.8,141.8Z"/>
<path fill="#faba34" d="M296.6,132.7 L313.3,132.7 L313.3,152.6 L299.8,152.6 L299.8,142 L296.6,142Z"/>
<path fill="#faa028" d="M314,137.8 L329.5,137.8 L329.5,144.5 L314,144.5Z"/>
<path fill="#fa9824" d="M310.6,160 L324,160 L324,168 L310.6,168Z"/>
<path fill="#fa9628" d="M248.5,140.5 L256.6,140.5 L256.6,147.2 L248.5,147.2Z"/>
<path fill="#f78420" d="M253.9,163.4 L258.5,161.5 L268.5,180 L266,184.5 L261.5,184.5Z"/>
<path fill="#faaa30" d="M326,152.6 L331.5,152.6 L331.5,158 L326,158Z"/>
<path fill="#f05c1a" d="M277.3,190.5 L288.4,191 L301.2,202.1 L301.7,207.9 L284.9,207.9 L279.1,203.3 L276.7,196.3Z"/>
<path fill="#eb4c19" d="M281.4,208.5 L302.3,208.5 L302.3,212 L283.5,212Z"/>
<path fill="#eb4819" d="M287.2,214.3 L297.7,214.3 L297.7,220.7 L287.2,220.7Z"/>
<path fill="#e83e19" d="M308.7,214.9 L316.6,214.9 L316.6,226.5 L308.7,226.5Z"/>
<path fill="#e9421a" d="M317.2,214.9 L323.3,214.9 L323.3,219 L317.2,219Z"/>
<path fill="#e83e19" d="M317.2,219.6 L329,219.6 L329,226.5 L317.2,226.5Z"/>
<path fill="#f88428" d="M330.2,230.6 L339.5,230.6 L339.5,239.3 L330.2,239.3Z"/>
<path fill="#f06422" d="M374.6,219.3 L381.6,219.3 L381.6,230.1 L374.6,230.1Z"/>
<path fill="#f16824" d="M383.1,211.6 L388.5,211.6 L388.5,222.4 L383.1,222.4Z"/>
<path fill="#f06422" d="M383.1,224 L387.7,224 L387.7,239.4 L383.1,239.4Z"/>
<path fill="#f26824" d="M370.8,230.8 L381.6,230.8 L381.6,239.4 L370.8,239.4Z"/>
<path fill="#facd6e" d="M383,191.6 L389,191.6 L389,199.3 L383,199.3Z"/>
<path fill="#da1e12" d="M410,275.2 L418.4,275.2 L418.4,282.8 L410,282.8Z"/>
<path fill="#da1e12" d="M418,288.6 L422,288.6 L422,291.4 L418,291.4Z"/>
<path fill="#dc2012" d="M415.9,265.9 L419.6,265.9 L419.6,269.6 L415.9,269.6Z"/>
<path fill="#dc2012" d="M420.4,266.4 L424.2,266.4 L424.2,270 L420.4,270Z"/>
<path fill="#fac85a" d="M533.5,122.5 L537,122 L538.5,129 L535,130Z"/>
<path fill="#f89628" d="M585,106 L589.5,106 L589.5,110.5 L585,110.5Z"/>
<path fill="#fab43c" d="M590.5,104.8 L595.5,104.8 L595.5,108.8 L590.5,108.8Z"/>
<path fill="#faaa32" d="M584.5,112 L588.5,112 L588.5,116.5 L584.5,116.5Z"/>
<path fill="#dde887" d="M385.0 79.7h4.2v3.1h-4.2zM389.7 79.7h3.9v3.4h-3.9zM405.0 79.7h4.3v3.6h-4.3zM409.7 79.6h3.7v2.7h-3.7zM415.0 80.0h3.6v3.5h-3.6zM425.2 80.2h3.4v3.6h-3.4zM430.1 79.9h7.8v2.9h-7.8zM439.7 80.3h9.5v3.5h-9.5zM445.0 80.2h9.5v3.0h-9.5zM450.1 79.7h3.2v3.0h-3.2zM384.5 84.4h3.2v3.4h-3.2zM389.2 84.3h4.0v2.8h-4.0zM394.3 84.7h3.4v3.6h-3.4zM399.2 84.8h3.6v3.5h-3.6zM404.3 84.1h3.4v3.4h-3.4zM409.4 84.4h3.8v2.9h-3.8zM419.2 84.7h3.8v3.5h-3.8zM429.3 84.8h3.3v3.4h-3.3zM439.9 84.2h8.2v2.7h-8.2zM388.8 88.5h3.1v2.9h-3.1zM394.5 89.2h3.8v2.8h-3.8zM409.5 89.0h7.6v2.7h-7.6zM419.0 89.2h3.9v3.1h-3.9zM424.3 89.0h3.8v3.4h-3.8zM439.1 89.0h3.9v3.5h-3.9zM400.5 92.9h4.0v3.2h-4.0zM410.4 93.2h3.8v3.1h-3.8zM415.1 93.3h9.4v2.9h-9.4zM420.2 93.5h3.3v3.5h-3.3zM425.5 93.5h3.9v2.8h-3.9zM435.3 93.5h3.8v3.0h-3.8zM404.8 97.4h7.6v3.1h-7.6zM409.7 97.7h3.2v3.3h-3.2zM429.5 97.8h8.4v2.8h-8.4zM434.6 97.7h3.4v3.0h-3.4zM405.8 102.2h4.2v3.6h-4.2zM410.4 102.0h4.2v3.5h-4.2zM416.0 101.7h9.0v3.1h-9.0zM425.5 102.0h3.5v3.4h-3.5zM405.8 106.4h8.4v3.2h-8.4zM410.6 106.1h4.1v3.2h-4.1zM415.3 106.4h3.6v3.6h-3.6zM420.4 106.3h3.6v3.4h-3.6zM425.7 106.0h3.8v3.6h-3.8zM430.3 106.5h3.4v3.3h-3.4zM435.3 106.2h4.0v2.8h-4.0zM440.5 106.1h3.6v3.0h-3.6zM445.7 106.5h3.9v3.3h-3.9zM414.2 110.8h3.9v3.5h-3.9zM424.2 110.4h8.8v2.8h-8.8zM429.2 110.6h3.7v3.2h-3.7zM430.1 115.4h4.2v3.5h-4.2zM434.9 114.8h4.0v2.7h-4.0zM440.3 115.3h3.9v3.3h-3.9zM444.8 115.6h3.9v3.2h-3.9zM425.0 119.4h3.5v3.3h-3.5zM430.7 119.8h3.3v3.4h-3.3zM435.7 119.5h9.6v3.6h-9.6zM440.8 119.8h4.3v2.9h-4.3zM445.1 119.7h4.3v3.4h-4.3zM450.1 119.6h3.4v2.7h-3.4zM425.4 123.9h3.2v3.3h-3.2zM430.6 123.7h3.4v3.0h-3.4zM435.1 123.9h4.1v3.3h-4.1zM440.7 123.9h4.1v3.0h-4.1zM445.2 123.7h4.0v3.6h-4.0zM439.2 128.8h3.1v3.2h-3.1zM435.3 137.1h3.4v2.7h-3.4zM440.2 137.0h3.7v2.9h-3.7zM445.2 137.3h3.7v3.0h-3.7zM450.3 137.2h3.3v3.0h-3.3zM435.2 142.0h3.9v2.7h-3.9zM438.9 146.2h8.0v3.0h-8.0zM425.0 150.7h3.7v2.8h-3.7zM430.6 150.8h3.8v3.2h-3.8zM440.6 150.2h3.3v3.5h-3.3zM445.0 150.0h4.1v2.8h-4.1zM415.4 154.7h4.3v3.5h-4.3zM420.4 155.1h4.2v3.2h-4.2zM425.7 154.9h3.2v3.4h-3.2zM435.4 154.8h3.8v2.7h-3.8zM440.3 154.6h3.2v3.3h-3.2zM420.2 159.0h3.4v2.9h-3.4zM430.2 159.0h3.7v2.8h-3.7zM409.6 162.8h3.5v3.5h-3.5zM404.0 167.9h3.5v3.4h-3.5zM449.5 122.6h1.9v2.0h-1.9zM395.6 171.7h3.6v3.3h-3.6zM387.9 176.4h3.6v2.8h-3.6zM392.7 176.3h3.1v2.9h-3.1zM352.1 76.2h4.5v3.2h-4.5zM368.4 76.1h9.0v3.7h-9.0zM373.8 75.7h3.9v4.1h-3.9zM379.3 76.0h3.6v4.0h-3.6zM350.4 80.8h4.4v3.9h-4.4zM361.1 81.4h4.1v4.1h-4.1zM366.9 80.9h3.8v3.8h-3.8zM346.6 86.3h4.0v3.9h-4.0zM351.5 86.2h4.0v3.4h-4.0zM357.0 85.6h4.6v3.8h-4.6zM362.5 85.7h4.8v3.8h-4.8zM368.5 86.2h4.4v3.3h-4.4zM373.7 85.9h4.1v3.5h-4.1zM379.2 86.1h8.8v3.4h-8.8zM355.9 91.2h4.7v4.0h-4.7zM356.8 96.1h8.1v3.5h-8.1zM362.2 96.2h3.8v4.1h-3.8zM357.3 100.8h3.8v4.3h-3.8zM341.0 126.3h4.0v3.9h-4.0zM346.0 130.6h4.1v3.8h-4.1zM309.7 105.5h5.1v4.4h-5.1zM315.7 105.2h4.8v4.2h-4.8zM328.2 111.3h4.5v4.7h-4.5z"/>
<path fill="#e3e982" d="M449.2 84.6h4.1v3.2h-4.1zM449.2 88.5h3.9v3.0h-3.9zM444.9 97.8h4.0v3.5h-4.0zM449.5 97.7h3.7v3.3h-3.7zM450.8 101.8h4.2v2.7h-4.2zM449.7 110.7h3.2v3.6h-3.2zM450.3 141.6h3.6v3.3h-3.6zM450.2 150.5h4.3v3.6h-4.3zM445.8 154.9h3.4v2.7h-3.4zM440.0 159.1h4.1v2.7h-4.1zM424.2 163.0h3.5v2.7h-3.5zM434.1 162.7h3.4v2.9h-3.4zM438.7 162.7h3.6v2.9h-3.6zM422.9 167.6h3.6v2.8h-3.6zM399.9 172.2h3.0v2.7h-3.0zM404.8 172.2h3.7v2.7h-3.7zM400.3 177.1h3.1v3.2h-3.1zM393.9 181.6h3.2v2.7h-3.2zM454.0 118.1h2.3v2.5h-2.3zM454.0 123.0h2.0v2.2h-2.0zM458.4 141.2h2.4v1.8h-2.4zM397.7 176.4h3.4v3.0h-3.4zM327.5 116.7h4.7v3.9h-4.7zM334.6 127.3h4.4v3.7h-4.4z"/>
<path fill="#d6e68c" d="M384.0 89.1h3.8v3.5h-3.8zM384.5 97.7h3.6v2.9h-3.6zM389.5 97.3h3.5v3.5h-3.5zM394.6 97.4h4.1v2.7h-4.1zM396.0 102.1h3.9v2.8h-3.9zM390.4 106.7h4.1v3.2h-4.1zM400.5 106.2h4.1v3.6h-4.1zM399.9 111.1h3.5v3.6h-3.5zM404.1 111.1h3.4v3.4h-3.4zM409.6 110.4h4.0v2.8h-4.0zM385.1 115.5h8.2v3.2h-8.2zM389.7 114.9h3.7v3.4h-3.7zM395.1 115.5h3.1v3.5h-3.1zM405.2 115.0h3.8v3.1h-3.8zM395.3 119.2h3.8v3.4h-3.8zM400.7 119.6h3.6v2.7h-3.6zM405.5 119.8h4.3v3.2h-4.3zM410.7 119.3h8.6v3.4h-8.6zM415.0 120.0h3.3v3.1h-3.3zM420.2 119.7h3.7v3.2h-3.7zM405.4 123.9h3.3v3.5h-3.3zM410.4 124.2h3.9v3.2h-3.9zM415.6 123.6h3.4v3.6h-3.4zM420.0 124.0h3.4v3.1h-3.4zM399.1 128.1h3.3v3.0h-3.3zM409.1 128.6h4.2v3.6h-4.2zM414.5 128.2h3.5v3.0h-3.5zM419.1 128.2h3.5v3.0h-3.5zM424.2 128.1h4.1v3.2h-4.1zM409.5 132.7h3.7v3.4h-3.7zM404.8 136.8h3.3v3.3h-3.3zM409.7 136.9h8.6v3.5h-8.6zM414.8 136.9h3.4v3.4h-3.4zM420.1 137.5h3.3v3.4h-3.3zM424.9 137.2h3.4v3.5h-3.4zM405.3 141.6h3.4v3.3h-3.4zM415.2 141.9h4.1v2.9h-4.1zM420.3 141.3h4.1v2.8h-4.1zM430.2 141.8h3.5v2.7h-3.5zM403.9 146.3h4.2v3.2h-4.2zM409.2 145.7h3.3v2.7h-3.3zM413.8 145.7h4.1v3.2h-4.1zM419.0 146.0h3.6v2.7h-3.6zM405.5 150.8h3.5v3.1h-3.5zM410.7 150.5h4.0v3.5h-4.0zM415.5 150.3h3.2v2.9h-3.2zM395.6 154.5h8.0v3.3h-8.0zM405.6 155.0h3.7v3.0h-3.7zM394.6 159.0h8.5v3.6h-8.5zM399.8 159.1h3.2v3.5h-3.2zM404.7 159.2h3.2v2.7h-3.2zM395.1 162.8h3.5v3.6h-3.5zM400.0 163.1h3.6v2.9h-3.6zM391.8 162.3h3.1v3.4h-3.1zM385.6 171.7h6.4v3.0h-6.4zM383.0 176.3h3.0v2.7h-3.0zM379.2 101.1h4.8v3.1h-4.8zM385.0 101.1h4.3v4.2h-4.3zM350.9 106.1h9.6v3.9h-9.6zM357.0 106.0h3.6v4.0h-3.6zM362.3 106.2h4.4v3.4h-4.4zM367.4 105.6h3.6v4.1h-3.6zM373.0 106.3h4.1v4.2h-4.1zM378.3 106.1h4.4v3.8h-4.4zM373.3 110.6h4.2v3.6h-4.2zM385.0 110.7h4.0v3.3h-4.0zM356.8 115.6h8.5v4.0h-8.5zM362.2 116.2h4.1v4.1h-4.1zM372.6 115.6h4.6v3.3h-4.6zM338.8 120.7h4.6v3.8h-4.6zM366.3 121.3h4.3v3.3h-4.3zM346.6 126.2h3.9v3.5h-3.9zM357.1 126.4h4.0v4.1h-4.0zM373.9 126.3h4.3v4.2h-4.3zM356.8 131.3h3.9v3.8h-3.9zM368.1 130.8h4.0v3.9h-4.0zM316.4 99.7h5.1v4.8h-5.1zM322.3 100.1h4.5v3.8h-4.5z"/>
<path fill="#d0e598" d="M385.6 124.0h3.4v3.2h-3.4zM384.0 128.6h3.8v3.1h-3.8zM389.0 128.6h3.4v3.3h-3.4zM384.3 133.1h4.0v2.7h-4.0zM389.2 132.6h3.9v2.8h-3.9zM394.0 132.7h4.0v3.2h-4.0zM395.4 137.1h3.6v2.8h-3.6zM400.4 136.8h3.4v3.1h-3.4zM389.9 141.9h3.7v2.8h-3.7zM394.1 145.8h3.8v2.9h-3.8zM398.8 146.2h3.6v3.3h-3.6zM385.4 150.1h3.1v3.0h-3.1zM390.4 150.1h3.7v3.4h-3.7zM385.2 154.8h8.6v3.4h-8.6zM390.5 154.6h3.6v3.2h-3.6zM389.5 159.4h4.0v3.2h-4.0zM382.7 162.8h2.8v3.0h-2.8zM387.3 162.5h3.4v3.1h-3.4zM382.6 167.1h2.8v2.9h-2.8zM339.9 106.0h4.1v4.2h-4.1zM341.0 110.8h4.5v3.3h-4.5zM345.9 110.8h10.5v3.9h-10.5zM351.8 111.1h4.6v3.9h-4.6zM344.8 120.7h3.8v3.3h-3.8zM350.2 121.0h4.2v3.6h-4.2zM378.7 130.8h8.0v3.1h-8.0zM334.5 100.1h4.1v3.6h-4.1z"/>
<path fill="#efe66e" d="M453.4 163.0h3.3v3.4h-3.3zM428.4 172.1h3.5v3.5h-3.5zM433.5 172.4h7.1v3.6h-7.1zM414.8 177.1h3.2v3.4h-3.2zM403.4 181.5h7.5v2.9h-7.5zM394.7 186.0h3.3v2.9h-3.3zM399.4 185.9h3.5v2.9h-3.5zM389.9 191.0h2.5v2.4h-2.5zM481.8 140.8h2.3v1.9h-2.3zM486.3 140.7h2.3v2.3h-2.3zM495.7 141.1h2.4v2.3h-2.4zM477.9 145.5h1.9v2.3h-1.9zM468.8 149.9h2.0v2.2h-2.0zM473.7 150.1h2.1v2.2h-2.1zM262.5 100.3h5.0v3.8h-5.0z"/>
<path fill="#e9e979" d="M442.4 167.2h3.3v2.9h-3.3zM414.2 172.3h6.9v3.0h-6.9zM423.7 172.0h3.4v2.7h-3.4zM404.8 176.7h3.2v3.6h-3.2zM481.6 117.9h5.0v2.5h-5.0zM486.5 118.0h2.0v1.9h-2.0zM477.0 122.5h5.9v2.5h-5.9zM481.1 122.2h1.9v1.9h-1.9zM485.9 122.3h2.4v2.2h-2.4zM490.7 122.5h2.0v1.8h-2.0zM481.6 127.2h2.5v2.4h-2.5zM495.4 127.6h2.3v2.0h-2.3zM478.1 131.8h2.2v2.0h-2.2zM483.0 131.6h2.2v2.1h-2.2zM492.0 131.6h2.4v2.0h-2.4zM482.7 136.7h2.0v2.4h-2.0zM459.3 145.8h1.9v2.4h-1.9zM455.4 150.2h5.4v2.2h-5.4zM387.3 185.5h3.4v3.4h-3.4zM321.6 116.8h4.7v3.7h-4.7zM333.4 132.7h5.1v3.6h-5.1z"/>
<path fill="#f4db5f" d="M442.9 172.5h7.6v3.4h-7.6zM447.6 171.8h3.2v3.0h-3.2zM424.1 176.7h3.7v3.0h-3.7zM428.9 176.8h3.4v2.8h-3.4zM408.1 181.6h3.1v3.1h-3.1zM413.0 181.2h3.6v3.3h-3.6zM404.5 185.6h3.4v3.4h-3.4zM395.1 190.7h3.1v3.2h-3.1zM393.5 191.4h2.4v2.3h-2.4zM482.7 150.3h2.1v2.5h-2.1zM262.5 111.3h4.6v4.2h-4.6zM298.3 110.7h4.5v3.6h-4.5zM327.9 144.3h10.4v4.3h-10.4zM355.8 187.7h5.6v7.2h-5.6z"/>
<path fill="#f8cd4f" d="M434.2 176.6h3.3v3.7h-3.3zM438.5 176.4h2.9v3.3h-2.9zM443.7 176.6h3.1v3.1h-3.1zM408.8 186.0h3.2v2.7h-3.2zM401.9 191.4h2.8v2.2h-2.8zM392.9 195.6h6.3v2.2h-6.3zM396.7 195.2h2.8v2.7h-2.8zM389.0 199.1h2.5v2.5h-2.5zM273.7 105.2h4.9v3.6h-4.9zM280.4 105.4h4.7v3.7h-4.7zM286.1 105.6h4.9v4.5h-4.9zM261.4 116.3h11.5v4.5h-11.5zM291.6 116.3h4.8v4.1h-4.8zM303.1 116.7h5.3v4.8h-5.3zM321.2 143.7h4.6v3.9h-4.6zM266.5 158.1h2.7v2.8h-2.7zM253.0 167.0h2.7v3.2h-2.7zM254.3 185.3h3.1v2.9h-3.1zM464.4 165.0h2.1v2.5h-2.1zM323.9 163.8h6.9v6.5h-6.9z"/>
<path fill="#f9bb3d" d="M448.5 177.0h3.0v3.6h-3.0zM422.7 181.3h3.2v3.5h-3.2zM427.7 181.6h2.9v2.7h-2.9zM400.1 195.2h8.5v3.5h-8.5zM393.9 199.9h3.5v2.9h-3.5zM393.6 199.8h2.4v2.7h-2.4zM388.1 203.9h2.6v2.7h-2.6zM279.5 116.2h5.3v4.0h-5.3zM285.5 116.3h4.9v4.1h-4.9zM279.8 122.1h4.1v3.7h-4.1zM298.0 122.1h5.4v4.3h-5.4zM261.4 132.8h4.1v4.4h-4.1zM273.5 132.8h5.2v4.0h-5.2zM286.0 132.9h5.0v3.6h-5.0zM291.8 132.6h4.1v3.6h-4.1zM315.6 133.3h4.5v4.0h-4.5zM262.2 138.7h5.4v4.3h-5.4zM292.0 138.7h4.7v4.1h-4.7zM316.2 138.3h4.1v3.6h-4.1zM285.2 143.8h4.7v3.6h-4.7zM273.1 149.2h5.0v4.6h-5.0zM279.3 149.2h4.3v4.7h-4.3zM291.3 149.5h4.9v4.5h-4.9zM254.9 162.3h6.2v2.5h-6.2zM257.9 167.3h2.9v3.2h-2.9zM254.6 171.3h3.4v2.6h-3.4zM253.2 176.3h2.7v2.8h-2.7zM253.1 180.1h6.4v2.6h-6.4zM597.2 113.0h2.2v2.2h-2.2z"/>
<path fill="#f9a530" d="M437.4 181.5h3.5v3.6h-3.5zM405.6 195.1h2.4v2.5h-2.4zM391.9 203.9h6.0v2.9h-6.0zM389.9 207.4h2.5v2.6h-2.5zM253.0 157.9h6.6v2.8h-6.6zM574.6 126.6h2.3v2.0h-2.3zM307.8 196.0h12.7v5.5h-12.7z"/>
<path fill="#f78a29" d="M451.6 181.0h3.5v2.7h-3.5zM423.9 186.1h3.1v2.7h-3.1zM414.5 190.8h3.2v3.5h-3.2zM409.8 195.1h3.6v2.9h-3.6zM398.8 204.3h3.5v2.9h-3.5zM393.8 207.7h2.7v2.9h-2.7zM389.1 211.8h2.3v2.8h-2.3zM393.7 211.8h2.7v2.4h-2.7zM389.9 216.3h2.3v2.3h-2.3zM383.6 219.6h4.5v5.4h-4.5zM259.7 171.8h3.2v3.1h-3.2zM257.4 175.7h2.7v3.1h-2.7zM514.8 159.9h2.3v2.3h-2.3zM519.8 160.3h2.5v2.3h-2.5z"/>
<path fill="#f26c21" d="M428.5 186.4h3.5v2.8h-3.5zM433.3 186.1h3.4v3.6h-3.4zM438.3 185.9h3.3v2.9h-3.3zM447.5 186.4h3.0v3.2h-3.0zM452.2 185.6h3.0v2.9h-3.0zM408.6 200.1h3.5v3.1h-3.5zM403.5 204.1h2.9v2.7h-2.9zM400.8 208.7h3.7v3.5h-3.7zM395.3 213.3h3.1v3.3h-3.1zM402.3 207.7h2.7v2.3h-2.7zM393.7 216.0h2.5v2.2h-2.5zM389.0 220.0h2.6v2.7h-2.6zM392.7 220.2h2.4v2.2h-2.4zM395.8 213.8h5.0v3.9h-5.0zM383.9 226.1h4.8v5.0h-4.8zM266.5 175.8h3.1v2.8h-3.1zM494.9 174.6h2.5v2.4h-2.5z"/>
<path fill="#e02814" d="M433.4 190.4h3.5v3.1h-3.5zM447.9 190.3h3.1v3.0h-3.1zM452.4 190.6h2.9v2.8h-2.9zM418.1 200.0h8.1v2.8h-8.1zM413.3 204.5h8.3v3.1h-8.3zM409.6 209.1h3.6v2.9h-3.6zM405.3 223.1h3.0v3.0h-3.0zM545.2 174.9h2.2v2.2h-2.2zM529.6 185.0h2.0v1.9h-2.0z"/>
<path fill="#db2113" d="M427.8 199.7h3.2v2.7h-3.2zM432.6 199.9h3.7v3.5h-3.7zM446.8 199.5h3.5v3.2h-3.5zM451.5 199.7h3.8v2.9h-3.8zM422.8 204.7h3.8v3.5h-3.8zM424.1 208.9h3.1v3.6h-3.1zM453.0 208.9h3.9v3.1h-3.9zM424.1 223.0h3.4v3.4h-3.4zM426.5 214.2h2.8v2.9h-2.8zM426.5 231.8h3.1v2.7h-3.1zM426.8 236.3h3.3v2.9h-3.3zM426.7 240.6h2.9v3.3h-2.9zM556.1 270.5h2.0v2.3h-2.0zM563.3 270.6h2.2v1.9h-2.2zM561.2 274.9h1.8v2.2h-1.8zM565.0 274.9h1.7v2.0h-1.7zM557.6 278.3h2.0v1.9h-2.0zM562.0 278.7h2.0v2.0h-2.0zM575.2 154.9h2.2v2.0h-2.2zM569.5 170.1h2.4v1.9h-2.4zM565.0 174.8h5.6v2.5h-5.6z"/>
<path fill="#e94a1b" d="M408.7 204.4h3.3v3.7h-3.3zM400.1 213.7h3.9v2.8h-3.9zM405.1 213.6h3.5v3.5h-3.5zM399.9 218.3h3.9v3.1h-3.9zM395.5 223.1h7.4v2.8h-7.4zM398.5 216.6h2.9v2.4h-2.9zM402.2 216.4h2.2v2.7h-2.2zM390.1 225.7h5.0v4.7h-5.0zM394.4 232.1h4.8v4.7h-4.8zM389.9 238.0h5.1v4.5h-5.1zM262.2 175.8h2.8v2.9h-2.8zM261.8 180.7h6.7v2.9h-6.7zM549.6 159.8h2.1v2.1h-2.1zM570.5 139.9h2.3v2.4h-2.3z"/>
<path fill="#d81d12" d="M432.1 204.3h2.8v2.8h-2.8zM442.4 204.0h3.4v2.7h-3.4zM433.7 208.7h3.6v3.2h-3.6zM438.8 208.9h7.4v3.1h-7.4zM443.9 208.9h3.4v3.6h-3.4zM448.1 213.8h3.3v3.7h-3.3zM428.6 218.2h3.7v3.4h-3.7zM442.8 218.4h7.2v3.3h-7.2zM452.4 218.5h3.7v3.5h-3.7zM433.9 222.6h2.9v3.6h-2.9zM453.3 222.7h3.1v3.1h-3.1zM430.9 214.3h3.0v2.7h-3.0zM439.9 214.0h3.3v2.8h-3.3zM444.6 213.8h2.8v2.7h-2.8zM430.7 218.3h2.5v3.2h-2.5zM448.2 218.3h2.5v3.2h-2.5zM444.0 222.7h3.0v2.9h-3.0zM439.8 226.9h3.2v3.0h-3.2zM444.2 227.0h2.8v3.0h-2.8zM447.9 226.9h2.6v2.8h-2.6zM431.1 231.9h2.9v2.4h-2.9zM434.8 231.8h2.7v2.9h-2.7zM439.2 231.3h2.9v2.5h-2.9zM443.8 231.2h2.7v3.1h-2.7zM448.6 231.3h2.8v2.9h-2.8zM435.7 236.2h2.4v2.6h-2.4zM439.7 236.4h2.9v2.5h-2.9zM444.0 235.8h3.2v2.5h-3.2zM448.8 236.3h3.3v2.7h-3.3zM431.2 240.3h2.8v2.8h-2.8zM435.7 240.4h5.9v3.2h-5.9zM439.9 240.4h2.6v2.5h-2.6zM444.4 240.8h7.2v2.9h-7.2zM449.0 240.3h3.0v3.3h-3.0zM425.6 245.0h3.0v2.7h-3.0zM430.2 244.7h2.5v2.7h-2.5zM439.2 245.1h2.7v3.0h-2.7zM443.3 244.4h2.7v3.2h-2.7zM424.7 249.5h2.9v3.3h-2.9zM434.0 249.6h2.4v3.1h-2.4zM442.6 249.2h3.1v2.8h-3.1zM446.8 248.9h2.5v2.7h-2.5zM431.4 253.6h2.5v2.5h-2.5zM439.6 253.9h2.8v2.9h-2.8zM444.4 253.9h2.5v2.8h-2.5zM448.4 253.8h3.1v2.8h-3.1zM425.2 258.1h2.6v2.7h-2.6zM429.6 258.1h2.8v3.0h-2.8zM433.9 257.8h3.3v2.7h-3.3zM442.8 258.2h2.7v2.5h-2.7zM447.7 258.0h3.0v2.9h-3.0zM426.3 262.0h3.1v2.5h-3.1zM435.1 262.6h2.9v2.7h-2.9zM443.6 262.5h3.1v2.6h-3.1zM426.4 267.2h3.2v3.3h-3.2zM435.1 266.4h3.2v3.1h-3.2zM439.4 266.8h2.7v2.7h-2.7zM425.8 271.3h3.2v2.6h-3.2zM430.3 271.4h3.1v2.9h-3.1z"/>
<path fill="#dd2413" d="M415.0 208.9h3.2v3.0h-3.2zM414.7 213.5h3.7v3.3h-3.7zM419.4 213.2h3.1v3.3h-3.1zM410.3 223.0h3.9v2.9h-3.9zM414.7 222.7h8.0v3.1h-8.0zM557.7 282.1h1.9v2.0h-1.9zM565.4 282.5h1.7v1.8h-1.7zM559.4 170.0h2.4v1.9h-2.4zM500.4 199.6h1.9v2.4h-1.9z"/>
<path fill="#d51911" d="M595.6 154.9h2.5v2.3h-2.5zM581.2 180.2h2.3v2.2h-2.3z"/>
</g>
</g>
<g opacity="0.92"><circle cx="266.6" cy="71" r="2.75" fill="#9ba1b2"/>
<circle cx="262" cy="75.6" r="2.75" fill="#9ba1b2"/>
<circle cx="299.6" cy="76.4" r="2.75" fill="#9ba1b2"/>
<circle cx="260" cy="91.4" r="2.75" fill="#9ba1b2"/>
<circle cx="256.6" cy="96.4" r="2.75" fill="#9ba1b2"/>
<circle cx="321.4" cy="88" r="2.75" fill="#9ba1b2"/>
<circle cx="340.2" cy="84.4" r="2.4" fill="#1f2238"/>
<circle cx="334.2" cy="92.6" r="2.75" fill="#9ba1b2"/>
<circle cx="357.4" cy="103.4" r="2.4" fill="#1f2238"/>
<circle cx="411" cy="97" r="2.4" fill="#1f2238"/>
<circle cx="301.2" cy="118" r="2.4" fill="#1f2238"/>
<circle cx="240.4" cy="133.6" r="2.4" fill="#1f2238"/>
<circle cx="370.4" cy="133.6" r="2.4" fill="#1f2238"/>
<circle cx="300.4" cy="145" r="2.4" fill="#1f2238"/>
<circle cx="269" cy="152" r="2.75" fill="#9ba1b2"/>
<circle cx="327.8" cy="148.8" r="2.75" fill="#9ba1b2"/>
<circle cx="379.6" cy="150.6" r="2.4" fill="#1f2238"/>
<circle cx="255.2" cy="159" r="2.75" fill="#9ba1b2"/>
<circle cx="377.4" cy="164.4" r="2.75" fill="#9ba1b2"/>
<circle cx="247" cy="165" r="2.75" fill="#9ba1b2"/>
<circle cx="250" cy="170.4" r="2.75" fill="#9ba1b2"/>
<circle cx="264.4" cy="178.4" r="2.4" fill="#1f2238"/>
<circle cx="378" cy="172.4" r="2.75" fill="#9ba1b2"/>
<circle cx="297.6" cy="189" r="2.75" fill="#9ba1b2"/>
<circle cx="261" cy="199.6" r="2.75" fill="#9ba1b2"/>
<circle cx="323.2" cy="202" r="2.75" fill="#9ba1b2"/>
<circle cx="367.2" cy="201.6" r="2.75" fill="#9ba1b2"/>
<circle cx="279" cy="205.6" r="2.4" fill="#1f2238"/>
<circle cx="272" cy="205.6" r="2.75" fill="#9ba1b2"/>
<circle cx="361.2" cy="207" r="2.75" fill="#9ba1b2"/>
<circle cx="318" cy="216.6" r="2.4" fill="#1f2238"/>
<circle cx="277.6" cy="218" r="2.75" fill="#9ba1b2"/>
<circle cx="326" cy="230.4" r="2.75" fill="#9ba1b2"/>
<circle cx="359.6" cy="238" r="2.75" fill="#9ba1b2"/>
<circle cx="397.3" cy="208.7" r="2.1" fill="#1f2238"/>
<circle cx="398" cy="208" r="2.4" fill="#a3adc0"/>
<circle cx="443.6" cy="201" r="2.75" fill="#9ba1b2"/>
<circle cx="431.6" cy="207" r="2.75" fill="#9ba1b2"/>
<circle cx="513" cy="198.6" r="2.75" fill="#9ba1b2"/>
<circle cx="489" cy="209.6" r="2.75" fill="#9ba1b2"/>
<circle cx="535" cy="199" r="2.75" fill="#9ba1b2"/>
<circle cx="550" cy="175.4" r="2.75" fill="#9ba1b2"/>
<circle cx="533" cy="219" r="2.75" fill="#9ba1b2"/>
<circle cx="559.6" cy="215" r="2.75" fill="#9ba1b2"/>
<circle cx="431.6" cy="232.4" r="2.75" fill="#9ba1b2"/>
<circle cx="436.4" cy="232" r="2.75" fill="#9ba1b2"/>
<circle cx="460.4" cy="235" r="2.75" fill="#9ba1b2"/>
<circle cx="488.4" cy="236" r="2.75" fill="#9ba1b2"/>
<circle cx="519.4" cy="234.4" r="2.75" fill="#9ba1b2"/>
<circle cx="519.7" cy="235" r="1" fill="#1f2238"/>
<circle cx="536.6" cy="251" r="2.75" fill="#9ba1b2"/>
<circle cx="428.6" cy="255.4" r="2.75" fill="#9ba1b2"/>
<circle cx="481.6" cy="253.4" r="2.75" fill="#9ba1b2"/>
<circle cx="448" cy="259.6" r="2.75" fill="#9ba1b2"/>
<circle cx="490.4" cy="257.4" r="2.75" fill="#9ba1b2"/>
<circle cx="422.6" cy="262.6" r="2.75" fill="#9ba1b2"/>
<circle cx="413.3" cy="280.7" r="2.1" fill="#1f2238"/>
<circle cx="414" cy="280" r="2.4" fill="#a3adc0"/>
<circle cx="430.6" cy="279" r="2.75" fill="#9ba1b2"/>
<circle cx="582" cy="179.2" r="2.75" fill="#9ba1b2"/>
<circle cx="591" cy="184.4" r="2.75" fill="#9ba1b2"/>
<circle cx="575" cy="196" r="2.75" fill="#9ba1b2"/>
<circle cx="582" cy="210.4" r="2.75" fill="#9ba1b2"/>
<circle cx="560" cy="234" r="2.75" fill="#9ba1b2"/>
<circle cx="557" cy="250" r="2.75" fill="#9ba1b2"/>
<circle cx="561" cy="266.4" r="2.75" fill="#9ba1b2"/>
<circle cx="552.6" cy="272.4" r="2.75" fill="#9ba1b2"/>
<circle cx="573" cy="290.4" r="2.75" fill="#9ba1b2"/>
<circle cx="461" cy="79.6" r="2.75" fill="#9ba1b2"/>
<circle cx="523.6" cy="98" r="2.75" fill="#9ba1b2"/>
<circle cx="603" cy="108.6" r="2.75" fill="#9ba1b2"/>
<circle cx="626.4" cy="106" r="2.75" fill="#9ba1b2"/>
<circle cx="574" cy="125.6" r="2.75" fill="#9ba1b2"/>
<circle cx="584" cy="125.6" r="2.75" fill="#9ba1b2"/>
<circle cx="620.6" cy="127" r="2.75" fill="#9ba1b2"/>
<circle cx="565.4" cy="130" r="2.75" fill="#9ba1b2"/>
<circle cx="536" cy="138" r="2.75" fill="#9ba1b2"/>
<circle cx="608" cy="140" r="2.75" fill="#9ba1b2"/>
<circle cx="546.4" cy="145.6" r="2.75" fill="#9ba1b2"/>
<circle cx="502.4" cy="145.6" r="2.75" fill="#9ba1b2"/>
<circle cx="602.6" cy="145.6" r="2.75" fill="#9ba1b2"/>
<circle cx="559.6" cy="154" r="2.75" fill="#9ba1b2"/>
<circle cx="595.4" cy="153.6" r="2.75" fill="#9ba1b2"/>
<circle cx="585.6" cy="162" r="2.75" fill="#9ba1b2"/>
<circle cx="583.6" cy="166" r="2.75" fill="#9ba1b2"/>
<circle cx="515.6" cy="164.6" r="2.75" fill="#9ba1b2"/>
<circle cx="528.6" cy="169.6" r="2.75" fill="#9ba1b2"/>
<circle cx="408" cy="82.4" r="2.75" fill="#9ba1b2"/>
<circle cx="438.4" cy="97.4" r="2.75" fill="#9ba1b2"/>
<circle cx="463.6" cy="116" r="2.75" fill="#9ba1b2"/>
<circle cx="413" cy="121" r="2.75" fill="#9ba1b2"/>
<circle cx="438.4" cy="130" r="2.4" fill="#1f2238"/>
<circle cx="501.4" cy="133.6" r="2.75" fill="#9ba1b2"/>
<circle cx="443.6" cy="153" r="2.75" fill="#9ba1b2"/>
<circle cx="460.6" cy="149" r="2.75" fill="#9ba1b2"/>
<circle cx="445.6" cy="172.4" r="2.75" fill="#9ba1b2"/>
<circle cx="453.6" cy="172.4" r="2.75" fill="#9ba1b2"/>
<circle cx="486" cy="177.6" r="2.75" fill="#9ba1b2"/></g>
<g class="cl"><text transform="translate(268 72.5) scale(.95 1)">Seattle</text>
<text transform="translate(261 76.9) scale(.95 1)" text-anchor="end">Olympia</text>
<text transform="translate(300.4 77.9) scale(.95 1)">Spokane</text>
<text transform="translate(259.6 91.5) scale(.95 1)" text-anchor="end">Portland</text>
<text transform="translate(260.4 90.9) scale(.95 1)">Vancouver</text>
<text transform="translate(257 102.3) scale(.95 1)">Salem</text>
<text transform="translate(320.4 88.9) scale(.95 1)" text-anchor="end">Missoula</text>
<text transform="translate(341.2 84.9) scale(.95 1)">Great Falls</text>
<text transform="translate(335.4 98.5) scale(.95 1)">Helena</text>
<text transform="translate(358 104.5) scale(.95 1)">Billings</text>
<text transform="translate(410 97.5) scale(.95 1)" text-anchor="end">Bismarck</text>
<text transform="translate(301.6 118.5) scale(.95 1)">Boise</text>
<text transform="translate(241 134.5) scale(.95 1)">Eureka</text>
<text transform="translate(371 134.3) scale(.95 1)">Casper</text>
<text transform="translate(301 145.5) scale(.95 1)">Elko</text>
<text transform="translate(269.6 152.5) scale(.95 1)">Reno</text>
<text transform="translate(328.4 150.1) scale(.95 1)">Salt Lake City</text>
<text transform="translate(380.4 151.3) scale(.95 1)">Cheyenne</text>
<text transform="translate(256 164.5) scale(.95 1)">Sacramento</text>
<text transform="translate(378.4 164.9) scale(.95 1)">Denver</text>
<text transform="translate(246 165.9) scale(.95 1)" text-anchor="end">San Francisco</text>
<text transform="translate(249 176.5) scale(.95 1)" text-anchor="end">San Jose</text>
<text transform="translate(265.6 178.9) scale(.95 1)">Fresno</text>
<text transform="translate(377.6 178.5) scale(.95 1)" text-anchor="end">Colorado Springs</text>
<text transform="translate(298.4 189.5) scale(.95 1)">Las Vegas</text>
<text transform="translate(262 200.3) scale(.95 1)">Santa Barbara</text>
<text transform="translate(324 202.3) scale(.95 1)">Flagstaff</text>
<text transform="translate(368 202.3) scale(.95 1)">Santa Fe</text>
<text transform="translate(278 211.9) scale(.95 1)" text-anchor="end">San Bernardino</text>
<text transform="translate(361 212.9) scale(.95 1)" text-anchor="end">Albuquerque</text>
<text transform="translate(316 217.5) scale(.95 1)" text-anchor="end">Phoenix</text>
<text transform="translate(277.6 223.5) scale(.95 1)" text-anchor="end">San Diego</text>
<text transform="translate(327.4 230.9) scale(.95 1)">Tucson</text>
<text transform="translate(361 238.5) scale(.95 1)">El Paso</text>
<text transform="translate(399.4 208.9) scale(.95 1)">Amarillo</text>
<text transform="translate(444.4 201.9) scale(.95 1)">Tulsa</text>
<text transform="translate(432 212.9) scale(.95 1)">Oklahoma City</text>
<text transform="translate(513 199.5) scale(.95 1)" text-anchor="end">Nashville</text>
<text transform="translate(490 210.5) scale(.95 1)">Memphis</text>
<text transform="translate(536 199.5) scale(.95 1)">Knoxville</text>
<text transform="translate(549.6 181.1) scale(.95 1)" text-anchor="end">Charleston</text>
<text transform="translate(532 219.9) scale(.95 1)" text-anchor="end">Atlanta</text>
<text transform="translate(567 215.5) scale(.95 1)" text-anchor="end">Columbia</text>
<text transform="translate(430 232.9) scale(.95 1)" text-anchor="end">Ft. Worth</text>
<text transform="translate(437 232.5) scale(.95 1)">Dallas</text>
<text transform="translate(489.6 236.9) scale(.95 1)">Jackson</text>
<text transform="translate(520 234.9) scale(.95 1)">Montgomery</text>
<text transform="translate(535.6 251.3) scale(.95 1)" text-anchor="end">Tallahassee</text>
<text transform="translate(428 255.9) scale(.95 1)" text-anchor="end">Austin</text>
<text transform="translate(481 254.3) scale(.95 1)" text-anchor="end">Baton Rouge</text>
<text transform="translate(449 265.9) scale(.95 1)">Houston</text>
<text transform="translate(491.4 262.9) scale(.95 1)">New Orleans</text>
<text transform="translate(422 268.3) scale(.95 1)" text-anchor="end">San Antonio</text>
<text transform="translate(413 281.5) scale(.95 1)" text-anchor="end">Laredo</text>
<text transform="translate(432 279.5) scale(.95 1)">Corpus Christi</text>
<text transform="translate(583 179.7) scale(.95 1)">Richmond</text>
<text transform="translate(592.4 190.3) scale(.95 1)">Norfolk</text>
<text transform="translate(575.6 202.3) scale(.95 1)">Raleigh</text>
<text transform="translate(583 210.9) scale(.95 1)">Wilmington</text>
<text transform="translate(560.6 234.3) scale(.95 1)">Savannah</text>
<text transform="translate(558 250.3) scale(.95 1)">Jacksonville</text>
<text transform="translate(562 266.9) scale(.95 1)">Orlando</text>
<text transform="translate(552 272.9) scale(.95 1)" text-anchor="end">Tampa</text>
<text transform="translate(574.4 290.9) scale(.95 1)">Miami</text>
<text transform="translate(462 80.3) scale(.95 1)">International Falls</text>
<text transform="translate(524.4 98.9) scale(.95 1)">Sault Ste. Marie</text>
<text transform="translate(602 109.5) scale(.95 1)" text-anchor="end">Burlington</text>
<text transform="translate(628 106.9) scale(.95 1)">Augusta</text>
<text transform="translate(577 126.5) scale(.95 1)" text-anchor="end">Rochester</text>
<text transform="translate(585 126.5) scale(.95 1)">Syracuse</text>
<text transform="translate(622 127.5) scale(.95 1)">Boston</text>
<text transform="translate(565 134.9) scale(.95 1)" text-anchor="end">Buffalo</text>
<text transform="translate(536 138.9) scale(.95 1)" text-anchor="end">Detroit</text>
<text transform="translate(609 140.9) scale(.95 1)">Bridgeport</text>
<text transform="translate(547.6 145.9) scale(.95 1)">Cleveland</text>
<text transform="translate(503.6 151.5) scale(.95 1)">Chicago</text>
<text transform="translate(560.6 154.9) scale(.95 1)">Pittsburgh</text>
<text transform="translate(596 159.5) scale(.95 1)">Philadelphia</text>
<text transform="translate(584 168.9) scale(.95 1)">Washington, D.C.</text>
<text transform="translate(515 165.3) scale(.95 1)" text-anchor="end">Indianapolis</text>
<text transform="translate(529.6 169.9) scale(.95 1)">Cincinnati</text>
<text transform="translate(409 83.3) scale(.95 1)">Minot</text>
<text transform="translate(439.4 97.9) scale(.95 1)">Fargo</text>
<text transform="translate(463 118.9) scale(.95 1)" text-anchor="end">Minneapolis</text>
<text transform="translate(465 116.9) scale(.95 1)">St. Paul</text>
<text transform="translate(410 121.9) scale(.95 1)" text-anchor="end">Pierre</text>
<text transform="translate(439.4 130.5) scale(.95 1)">Sioux Falls</text>
<text transform="translate(500 139.5) scale(.95 1)" text-anchor="end">Milwaukee</text>
<text transform="translate(442 152.5) scale(.95 1)" text-anchor="end">Omaha</text>
<text transform="translate(461.6 149.9) scale(.95 1)">Des Moines</text>
<text transform="translate(445 173.9) scale(.95 1)" text-anchor="end">Topeka</text>
<text transform="translate(487 177.5) scale(.95 1)">St. Louis</text></g>
</g>
<text class="t1" x="50.9" y="252">Weekend</text>
<text class="t1" x="50.9" y="277">Heat Index</text>
<text class="t1" x="50.9" y="302">Forecast</text>
<text class="t3" x="46.6" y="421">* Shaded counties have</text>
<text class="t3" x="46.6" y="434.2">cattle/calf inventories</text>
<text class="t3" x="46.6" y="447.4">&gt;50K head</text>
<text class="t4" x="50.5" y="520">www.livestockwx.com</text>
<text class="t2" x="648.4" y="152.5">SATURDAY: 07-20-2019</text>
<text class="t2" x="648.4" y="167.8">Mid-day</text>
<text class="t2" x="648.4" y="182.6">Heat Index Forecast</text>
<text class="t2" x="648.4" y="402">SUNDAY: 07-21-2019</text>
<text class="t2" x="648.4" y="417.3">Mid-day</text>
<text class="t2" x="648.4" y="432.1">Heat Index Forecast</text>
<text class="t5" x="649.3" y="538">Data: USDA (NASS), NOAA (National Digital</text>
<text class="t5" x="649.3" y="545.8">Forecast Database)</text>
<text class="t6" x="433" y="555.5" text-anchor="middle">Sat-Sun Heat Index</text>
<rect x="193.4" y="561.2" width="40.7" height="13.4" fill="#2c7bb6"/>
<rect x="233.8" y="561.2" width="40.7" height="13.4" fill="#5a9dc8"/>
<rect x="274.2" y="561.2" width="40.7" height="13.4" fill="#88bfdb"/>
<rect x="314.7" y="561.2" width="40.7" height="13.4" fill="#b3dce5"/>
<rect x="355.1" y="561.2" width="40.7" height="13.4" fill="#d1ead6"/>
<rect x="395.5" y="561.2" width="40.7" height="13.4" fill="#f0f8c7"/>
<rect x="435.9" y="561.2" width="40.7" height="13.4" fill="#fff0ae"/>
<rect x="476.3" y="561.2" width="40.7" height="13.4" fill="#fed38c"/>
<rect x="516.8" y="561.2" width="40.7" height="13.4" fill="#fdb56a"/>
<rect x="557.2" y="561.2" width="40.7" height="13.4" fill="#f3854e"/>
<rect x="597.6" y="561.2" width="40.7" height="13.4" fill="#e54f35"/>
<rect x="638.0" y="561.2" width="40.7" height="13.4" fill="#d7191c"/>
<text class="lg" x="212.7" y="587.8" text-anchor="middle">46F</text>
<text class="lg" x="255.2" y="587.8" text-anchor="middle">52F</text>
<text class="lg" x="294.9" y="587.8" text-anchor="middle">60F</text>
<text class="lg" x="334.8" y="587.8" text-anchor="middle">65F</text>
<text class="lg" x="377.4" y="587.8" text-anchor="middle">72F</text>
<text class="lg" x="417.1" y="587.8" text-anchor="middle">78F</text>
<text class="lg" x="456.8" y="587.8" text-anchor="middle">84F</text>
<text class="lg" x="496.8" y="587.8" text-anchor="middle">90F</text>
<text class="lg" x="539.1" y="587.8" text-anchor="middle">97F</text>
<text class="lg" x="579.2" y="587.8" text-anchor="middle">103F</text>
<text class="lg" x="621.5" y="587.8" text-anchor="middle">109F</text>
<text class="lg" x="661.0" y="587.8" text-anchor="middle">115F</text>
</svg>
</body></html>
